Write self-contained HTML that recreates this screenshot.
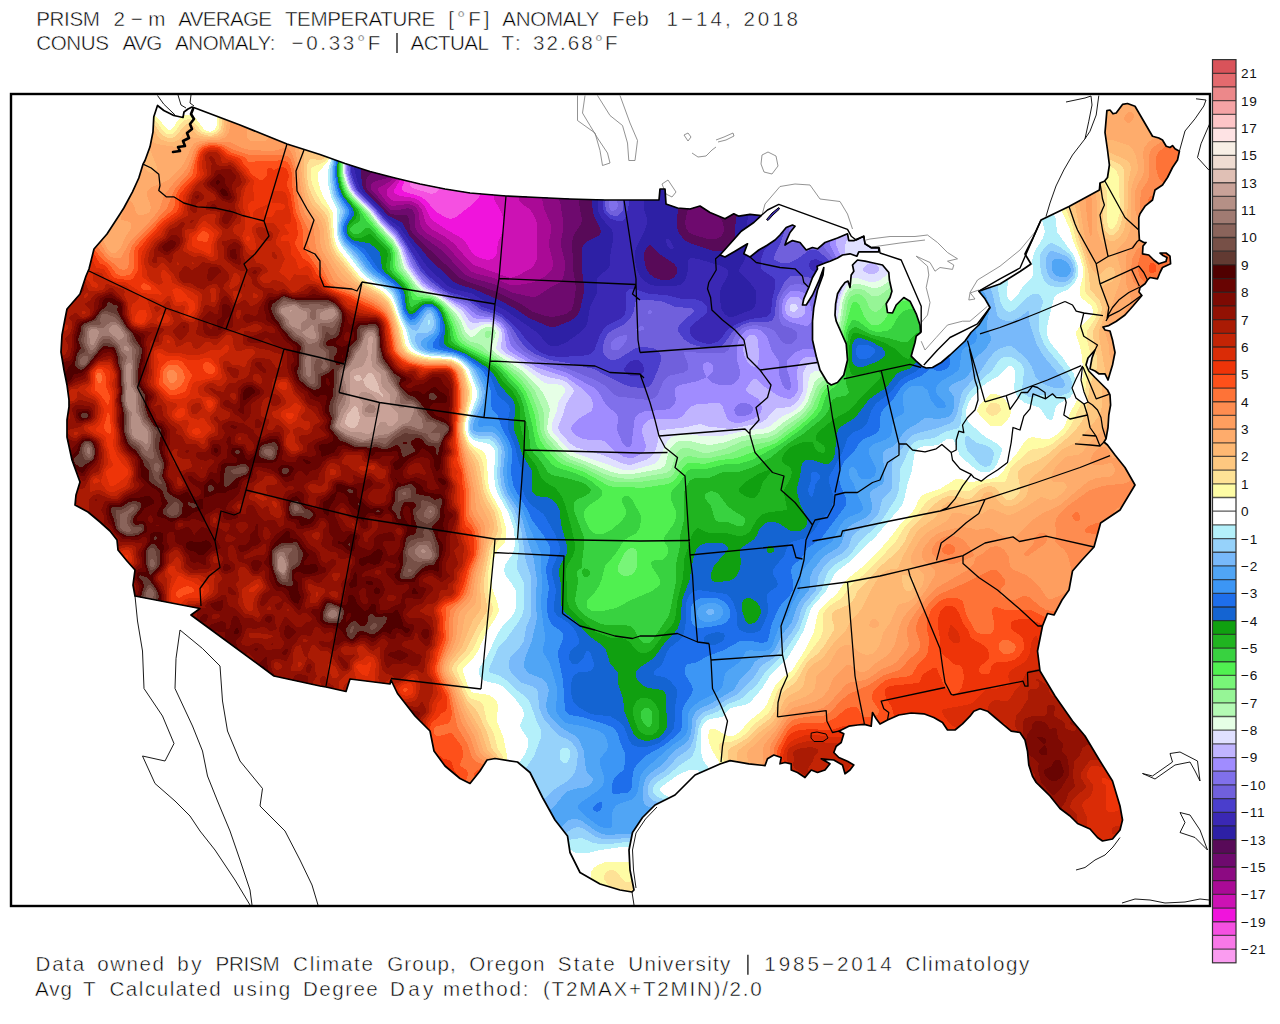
<!DOCTYPE html>
<html><head><meta charset="utf-8"><title>PRISM 2-m Average Temperature Anomaly</title>
<style>
html,body{margin:0;padding:0;background:#fff;}
body{width:1280px;height:1024px;overflow:hidden;position:relative;font-family:"Liberation Sans",sans-serif;}
svg{position:absolute;left:0;top:0;display:block}
.t{font-family:"Liberation Sans",sans-serif;font-size:20.6px;fill:#000;stroke:#fff;stroke-width:0.5px}
.cbl text{font-family:"Liberation Sans",sans-serif;font-size:13.6px;fill:#111;letter-spacing:0.7px}
</style></head><body>
<svg width="1280" height="1024" viewBox="0 0 1280 1024">
<defs><clipPath id="us"><path d="M157.5,105.5 153.8,116.8 153,131.8 150,146.8 145,160.5 143,164.2 138.8,178 132.5,191.8 123.8,208 120,214 107,234 94,249 89,269 86,276 80,294 67,309 65,319 62,335 61,352 64,370 67,385 69,400 69,407 67,420 67,437 72,460 80,482 76,495 75,505 88,512 100,522 110,531 117,540 118,550 127,561 135,570 133,585 135,596 200,608.5 191,615 274,676 320,686 326,687 346,691.5 350,679 390,684 391,680 397.5,693.5 415,716 430,731 434,751 445,766 460,778.5 470,783.5 480,771 487,760 495,758.5 517.5,762 530,772.5 542.5,797.5 555,820 567.5,836 570,852.5 580,872.5 600,884 620,890 632,892 634,890 630,870 629,850 632.5,832.5 642.5,817.5 655,805 675,795 695,775 720,764 730,760.6 748.8,763.8 765,765.6 767.5,758.8 773.8,755 781.2,757.5 780,763.8 785,762.5 791.2,763.8 791.2,770 797.5,772.5 805,777.5 811.2,770 817.5,772.5 825,770 830,763.8 821.2,758.8 833.8,760 842.5,765 845,773.8 850,770 853.8,765 847.5,761.2 838.8,757.5 833.8,752.5 836.2,746.2 841.2,742.5 843.8,733.8 838.8,731.2 848.8,726.2 857.5,725 864.4,724.4 871.2,726.2 872.5,712.5 876.2,718.8 880,724 887.5,720 898.8,715 911.2,713 923.8,713.8 933.8,717.5 942.5,722.5 947.5,730 955,730 962.5,723.8 970,716.2 973.8,711.2 980,708.8 987.5,711.2 995,717.5 1002.5,723.8 1011.2,731.2 1020,732.5 1025,740 1027.5,751.2 1028.8,765 1032.5,776.2 1036.2,782.5 1040,786.2 1050,796 1060,808.5 1070,816 1077.5,823.5 1090,829 1097.5,837.5 1102.5,841 1112.5,839 1120,830 1122.5,820 1120,806 1112.5,781 1100,761 1085,736 1072.5,721 1055,696 1040,671 1037.5,651 1042.5,626 1047.5,613.5 1054,615 1062,600 1069,590 1072.5,571 1082,560 1094,547 1100.6,523 1120,510 1135,485 1125,467.5 1115,455 1107.5,445 1104,442 1106,438.8 1108,427.5 1108.8,415 1110.6,405 1110,395 1107.5,390 1102.5,385 1095,377.5 1088.8,371 1086,365 1088,358 1095,350 1092,358 1090,368.8 1095,371 1098.8,373.8 1105,373.8 1108,380 1112.5,365 1115,352.5 1112.5,340 1110,331 1105,330 1103,327 1108.8,325.6 1116,321.5 1125,315 1133,306 1141.9,295.5 1139,292 1140,287.5 1145,283.8 1147.5,280 1150,277.5 1157.5,278.8 1160,272.5 1162.5,267.5 1170.6,263.8 1170,256.2 1166,253 1160,253 1163,255.5 1167,257.5 1166,261.5 1158.8,263.8 1153.8,260 1148.8,255 1142.5,253.8 1143,246 1146,242.5 1143.8,242.5 1139.4,240 1138.8,230 1138.8,217.5 1140,213.8 1145,206.2 1152.5,200 1155,190 1162.5,185 1167.5,177.5 1172.5,167.5 1177.5,160 1179.4,151.2 1175,148.8 1172.5,145.6 1170,147.5 1166.2,146.2 1162.5,140 1158.8,138 1152.5,136.2 1135,106.2 1127.5,103.5 1122.5,104.4 1116.2,113 1113,113.8 1110,110 1106.9,110.6 1105,132.5 1107.5,150 1109.4,165 1107.5,177.5 1104.4,181.2 1100,183 1099.4,190 1069,206.5 1041,220 1032.5,239 1025,254 1031,264 1020,271.5 1000,284 978.8,291.2 985,298.8 990,307.5 978.8,325 971,332.5 965,341 950,355 941.2,362.5 932.5,367.5 926.2,368 921.9,366.2 916.2,361.2 911.2,356.2 912.5,351.2 915,342.5 916.2,336.2 920.6,332.5 920,325 916.2,313.8 910,301.2 903.8,297.5 896.2,305 892.5,313 887.5,312.5 886.2,303.8 890,297.5 891.9,291.2 889.4,280 888.8,272.5 882.5,265 871.2,262.5 865,261.2 857.5,260 852.5,265 853.8,271.2 851.2,275 850,287.5 848,281 845,282.5 841.2,287.5 837.5,293.8 835.6,303.8 835,315 836.2,321.2 841.2,332.5 846.2,343.8 847.5,360 843.8,375 837.5,382.5 831.2,385 827.5,382.5 820,370 816.2,356.2 812.5,340 812.5,321.2 813.8,307.5 817.5,290 823,275 823.8,267.5 818.8,281.2 812.5,295 806.2,305 802.5,305 803.8,298.8 808.8,287.5 812.5,277.5 817.5,268.8 817,266.2 825,263 830,261.2 837.5,258 842.5,255 850,253.8 856.9,256.2 858.8,251.9 867.5,251.9 878.8,251.9 878.8,247.5 871.2,247.5 865,243.8 863.8,236.2 853.8,240.6 848.8,240.6 847.5,233.8 837.5,238 825,242.5 817.5,248.8 812.5,247.5 806.2,250 800,242.5 792.5,240.6 788.8,242.5 785,245 786.2,241.2 790,232.5 795,226.2 792.5,225 786.2,227.5 780,235 775,240 767.5,245 758.8,250 750,257 743.8,253.8 747.5,243.8 741.2,247.5 735,251.2 725,257 720,255 731.2,242.5 741.2,231.2 753.8,222.5 761.2,215.6 750,214.4 738.8,216.2 733.8,213.8 725,218.8 716,215 710,212.5 700,206 690,209 677.5,208 666,204 665,189 660,189 659,200 640,200 605,200 570,199 538,197.5 506,196 470,193 445,189 420,184 395,178 370,171.5 345,163.5 320,154.5 287,144 240,125 195,108 192,107 188,109 184,112 183,117.5 173.8,115.5 163.8,110.5Z"/></clipPath><clipPath id="fr"><rect x="11" y="94" width="1199" height="812"/></clipPath></defs>
<rect width="1280" height="1024" fill="#fff"/>
<g clip-path="url(#fr)">
<g clip-path="url(#us)" shape-rendering="crispEdges">
<path fill="#fefca5" d="M507.5,765.5l-.5-9.5 -3.5-18 -7-18 0-4 2-8 -1.5-6 -3.5-4 -3.5-2.5 -6-1.5 -10-1 -2.5-1 -3.5-5.5 -5-14.5 .5-4 10.5-11 3.5-5 9-20 9-14 3-6 0-4 -.5-4 -6-16 -.5-6 1-14 1.5-10 1.5-4 2.5-4.5 7-7.5 1-4 .5-4 -.5-6 -4.5-16 -10-18 -2.5-6 -1-8 -1-18 -1-6.5 -2-3.5 -2-1.5 -8-4 -4-3.5 -4-9 -1-6 .5-6 6-22 1-8 -1-6 -6-16 -5.5-6.5 -8-4 -26-2.5 -10.5-3 -6.5-4 -3.5-6 -3-14 -9.5-26 -3-5.5 -8-7.5 -16-10 -6-4.5 -21-26.5 -3-6.5 -2-7.5 -1.5-24 -9.5-16 -2.5-6 -3-12 1-6 9.5-10.5 3.5-8 -43-14 -73-28.5 1.5,7 -.5,8 -2,4 -4.5,2 -6-2.5 -8-11 -3-2.5 -3-1.5 -4,0 -4,1.5 -4,4 -5,8 -3,2.5 -2-.5 -2-2 -8-10 -4-2.5 -4.5-1 -1.5,16.5 -3,14.5 -17,44 -25,41.5 -13.5,15.5 -5.5,21 -8.5,24 -13,15.5 -5.5,27 -1,17.5 8,49 -2,37 5,23.5 7.5,21 -3.5,12 -1,12.5 2,2.5 13,7 11.5,10 15.5,16 1.5,10.5 16,19 -1.5,14 4,14.5 55.5,11 -1.5,3.5 1.5,4 85,62 73.5,16 4-2 3.5-10 36.5,4.5 3.5,7.5 17.5,22.5 14.5,14.5 4.5,20.5 11.5,15.5 16,13 10.5,5.5 4.5,0 17.5-23.5 5-1zM1059,205.5l10.5,22.5 4,14 6,14 3,10 .5,10 -3.5,14 0,4 2.5,4.5 9.5,7.5 1.5,4 -.5,4 -2.5,4 -11.5,10 -2.5,4 .5,4 3.5,10 2,10 1,14 -1,16 -2.5,10 -9,16 -6.5,15 -6,7 -8,4.5 -6,.5 -12-2 -4,1.5 -4,4 -7.5,11.5 -8.5,9.5 -6,9.5 -4,3.5 -6,2 -20,3.5 -4-.5 -6-2.5 -4-.5 -4,1.5 -14,9 -14,4.5 -4.5,2.5 -3,4 -3.5,8 -2.5,4 -12,12 -9,12 -11.5,13.5 -16.5,16.5 -15.5,12.5 -4,4.5 -7.5,11 -12.5,11 -4.5,5 -2.5,6 -3,16 -9,18 -13,20.5 -12,9.5 -4,4.5 -4,7.5 -5,12 -4,6 -15,12 -8,10 -6,3.5 -6,.5 -14-7.5 -2,0 -2.5,1.5 -1.5,6 1.5,8 2.5,6 7,12 1,8 10.5-4.5 36,5 3-2.5 2-6 3-1.5 2.5,7.5 9,0 2,6 15.5,8.5 4.5-1 5-5.5 5,1.5 9.5-3 7-8.5 4,2.5 3,8.5 5,1.5 7-5 5-8 -2-4.5 -17-9.5 6-7 3-12.5 15.5-2.5 8.5,1.5 3.5-4 5.5,2 18.5-9 11.5-2 11,.5 9,3.5 7.5,4.5 6,8 10,.5 10.5-7.5 11.5-12 3-1.5 5,1.5 23.5,20 8.5,1.5 3.5,5 3.5,24.5 4,12 4,6.5 24.5,27 18,15.5 12.5,5.5 7,8 8,5 13-2.5 9-10.5 3.5-14 -2.5-14.5 -8-25.5 -28-46 -30-39.5 -14-24 -2.5-18.5 5-23.5 3-8 4.5,.5 3-2 15.5-25.5 3.5-19.5 21.5-23.5 6.5-23.5 18.5-12.5 16.5-27.5 -11-21.5 -18.5-23.5 5-36.5 -.5-11 -5.5-8.5 3.5-3.5 7-29 -6-24 14.5-10 17-20 1.5-4 -2.5-4 7-7.5 9,0 5.5-11.5 9-5.5 -.5-11.5 -6-6 -10.5,0 -2.5,2 -.5,4 -3.5-3.5 -3.5-1.5 3-7.5 -2-3.5 -5-1.5 0-18.5 5-9 7.5-7 3-9.5 6.5-4.5 5.5-8 10.5-18.5 2.5-10.5 -1.5-3.5 -7.5-6.5 -6,0 -4.5-5.5 -9-4 -18-29.5 -11.5-4 -7,2 -5.5,7 -4-2.5 -7,2.5 -3,25 4.5,32.5 -1.5,10.5 -7,4.5 -1.5,7zM634.5,861.5l-24.5,0 -6,1 -6,2.5 -4.5,3 -2.5,4 0,6 1.5,4 3.5,5.5 2,1 20.5,6.5 14,2 6-5 -3.5-22.5zM990,394.5l-11,11.5 -2,4 .5,2 4.5,6 8,7.5 6,1 6-1 4-3.5 4-6 1-4 -.5-4 -5-8 -5.5-4.5 -6-2z"/>
<path fill="#fee296" d="M505,765l-2.5-9 -5-8 -3.5-14 -7.5-14 -3.5-16 -3-2.5 -8-2.5 -3.5-3 -12-26 1.5-4 9.5-10 5-6 8.5-18 10-16 1.5-4 0-6 -4-12 -1-6 1-18 3.5-18.5 2-4.5 6.5-9 1.5-6 -1-8 -3-12 -9.5-18 -2.5-6 -1.5-8 -1-14 -1.5-6.5 -3-5.5 -9-8 -3.5-6 -2-6 -.5-6 .5-6 5.5-22 .5-8 -3.5-14 -3-8 -5.5-6 -6.5-3.5 -4-1 -16-.5 -7.5-1 -10.5-3 -6-3.5 -4-6.5 -4-17 -8-22.5 -3-5.5 -3-3.5 -5.5-4.5 -16.5-9.5 -5.5-4.5 -21-26 -3-6 -2-8 -2.5-24.5 -2-3.5 -7-8 -5.5-10 -3.5-8 -1.5-8 0-6 1.5-2.5 12-5.5 4-4 2.5-4.5 -42-14 -69.5-27.5 .5,8 -.5,8 -3.5,4 -5.5,1.5 -4-.5 -4-1.5 -8-9.5 -4-3 -2,0 -3,1 -3,2 -8,11 -2,1 -4,.5 -4-2.5 -8-11 -4-2.5 -3.5-.5 -.5,13 -3,14.5 -17,44 -25,41.5 -13.5,15.5 -5.5,21 -8.5,24 -13,15.5 -5.5,27 -1,17.5 8,49 -2,37 5,23.5 7.5,21 -3.5,12 -1,12.5 2,2.5 13,7 11.5,10 15.5,16 1.5,10.5 16,19 -1.5,14 4,14.5 55.5,11 -1.5,3.5 1.5,4 85,62 73.5,16 4-2 3.5-10 36.5,4.5 3.5,7.5 17.5,22.5 14.5,14.5 4.5,20.5 11.5,15.5 16,13 10.5,5.5 4.5,0 17.5-23.5 5-1zM1063.5,203l9,23 4,16 5.5,14 2.5,10 1,8 -1,16 2,4 8.5,8 2,4 1,4 -2.5,8 -9,14 0,6 3.5,14 .5,10 -3.5,16 -2.5,16 -3.5,10 -10.5,22 -6.5,8.5 -12,9.5 -8,3.5 -12,2 -4,2 -17.5,16.5 -4.5,12 -2,2 -14,.5 -6,1 -7,2.5 -7,4.5 -4,1 -12-2 -4,.5 -18,8 -6,4 -8.5,12 -13.5,14 -8.5,14 -27.5,29 -18,15 -8,12 -12,7.5 -4.5,4.5 -2.5,4 -.5,4 .5,12 -2.5,8 -16.5,22 -10,15.5 -4,4 -8,6 -4,4.5 -2,4 -4.5,14 -3.5,5.5 -13.5,10.5 -8.5,9.5 -6,4.5 -8,3.5 -10,1 -2.5,1.5 -.5,2 .5,4 4,10 1,8 6-2.5 36,5 3-2.5 2-6 3-1.5 2.5,7.5 9,0 2,6 15.5,8.5 4.5-1 5-5.5 5,1.5 9.5-3 7-8.5 4,2.5 3,8.5 5,1.5 7-5 5-8 -2-4.5 -17-9.5 6-7 3-12.5 15.5-2.5 8.5,1.5 3.5-4 5.5,2 18.5-9 11.5-2 11,.5 9,3.5 7.5,4.5 6,8 10,.5 10.5-7.5 11.5-12 3-1.5 5,1.5 23.5,20 8.5,1.5 3.5,5 3.5,24.5 4,12 4,6.5 24.5,27 18,15.5 12.5,5.5 7,8 8,5 13-2.5 9-10.5 3.5-14 -2.5-14.5 -8-25.5 -28-46 -30-39.5 -14-24 -2.5-18.5 5-23.5 3-8 4.5,.5 3-2 15.5-25.5 3.5-19.5 21.5-23.5 6.5-23.5 18.5-12.5 16.5-27.5 -11-21.5 -18.5-23.5 5-36.5 -.5-11 -5.5-8.5 3.5-3.5 7-29 -6-24 14.5-10 17-20 1.5-4 -2.5-4 7-7.5 9,0 5.5-11.5 9-5.5 -.5-11.5 -6-6 -10.5,0 -2.5,2 -.5,4 -3.5-3.5 -3.5-1.5 3-7.5 -2-3.5 -5-1.5 0-18.5 5-9 7.5-7 3-9.5 6.5-4.5 5.5-8 10.5-18.5 2.5-10.5 -1.5-3.5 -7.5-6.5 -6,0 -4.5-5.5 -9-4 -18-29.5 -11.5-4 -7,2 -5.5,7 -4-2.5 -7,2.5 -3,25 4,31 6,2.5 6,4 2.5,6 0,14 2,16 -1,8 -3,10 -2.5,3.5 -2,1.5 -2,0 -2-3 -1.5-8 0-28 -2.5-8 -3.5-5 -4.5,3 -1.5,7zM604.5,880l3.5,5 7,5 2,4.5 15.5,2.5 6-5 -2-13.5 -6.5,3 -4,.5 -3-2 -6-8 -3-1.5 -4-.5 -4,2 -2,4zM986.5,408l-.5,2 .5,2 1.5,2 4,2 6-2 3-4 -1-4 -2-2 -4-1.5 -4,1z"/>
<path fill="#fec880" d="M502.5,764.5l-3-6.5 -8-10 -4.5-16 -9.5-20 -3-4 -4.5-4 -4-5.5 -6.5-14.5 -7.5-14 0-2 2-4.5 12-13.5 12-24 8.5-14 .5-6 -3-16 0-10 6-32.5 7-13.5 1-4 -1-8 -2.5-10 -8-14 -3-8 -3.5-22 -1.5-6 -3.5-6 -7-9.5 -4.5-12.5 -.5-10 5-24 1-8 -3.5-14 -2.5-8 -5-5 -6-3.5 -6-1 -14-.5 -8-1 -10.5-3 -7-4 -4-6 -4-18 -6.5-19 -4-7.5 -8-7.5 -18-10.5 -6-4.5 -20-25 -3-6 -2-6 -3-24 -3.5-6 -8.5-9.5 -4-7 -3.5-9.5 -2-12 1-10 2.5-5 2-.5 6,1.5 4-.5 4-2.5 3-4 -40.5-13.5 -66.5-26 0,10.5 -1.5,6 -2.5,3 -6,2.5 -4,0 -6-1.5 -4-2.5 -6-7 -4-1 -4,2.5 -8,10 -4,2 -4,0 -6-3 -8-11 -5.5-3 -.5,10 -3,14.5 -17,44 -25,41.5 -13.5,15.5 -5.5,21 -8.5,24 -13,15.5 -5.5,27 -1,17.5 8,49 -2,37 5,23.5 7.5,21 -3.5,12 -1,12.5 2,2.5 13,7 11.5,10 15.5,16 1.5,10.5 16,19 -1.5,14 4,14.5 55.5,11 -1.5,3.5 1.5,4 85,62 73.5,16 4-2 3.5-10 36.5,4.5 3.5,7.5 17.5,22.5 14.5,14.5 4.5,20.5 11.5,15.5 16,13 10.5,5.5 4.5,0 17.5-23.5 5-1zM1103,156.5l16,7.5 3,2.5 2,3.5 -.5,18 .5,20 -3,16 -3,7 -4,3.5 -4,.5 -2-1 -3-4 -2-8 0-22 -.5-10 -2.5-6 -4-4 -1.5,7 -26,13.5 3,11.5 4.5,14 3,14 5,14 3.5,14 1.5,8 1,12 .5,2 9,10 2.5,8 -1.5,8 -7,14 -1,4 4.5,24 0,10 -6,14 -1.5,6 -3,22 -2,6 -3,6 -6,8 -6,6 -21.5,18 -8,5 -16,7 -5,4 -1,2 0,4 2,10 .5,4 -2,4 -4.5,4.5 -4,2 -4-1 -4-3.5 -6-8 -4-1.5 -4-.5 -4,1.5 -4,2 -8,8 -2,1 -4,.5 -12-3.5 -4,0 -8,3 -10,7.5 -8,10 -14,13.5 -5.5,12.5 -4.5,6 -10,10 -10,8.5 -12,14 -10,9.5 -3.5,8 -3,4 -3.5,3 -12,5 -3,2 -1,2 -.5,4 2.5,8 0,4 -10,16 -6,7.5 -8,6 -4,4.5 -10,18 -10.5,8 -3.5,3.5 -6.5,16.5 -5.5,8.5 -12,9 -12,11.5 -15.5,9 -2,2 -.5,4 1,12.5 1.5-1 36,5 3-2.5 2-6 3-1.5 2.5,7.5 9,0 2,6 15.5,8.5 4.5-1 5-5.5 5,1.5 9.5-3 7-8.5 4,2.5 3,8.5 5,1.5 7-5 5-8 -2-4.5 -17-9.5 6-7 3-12.5 15.5-2.5 8.5,1.5 3.5-4 5.5,2 18.5-9 11.5-2 11,.5 9,3.5 7.5,4.5 6,8 10,.5 10.5-7.5 11.5-12 3-1.5 5,1.5 23.5,20 8.5,1.5 3.5,5 3.5,24.5 4,12 4,6.5 24.5,27 18,15.5 12.5,5.5 7,8 8,5 13-2.5 9-10.5 3.5-14 -2.5-14.5 -8-25.5 -28-46 -30-39.5 -14-24 -2.5-18.5 5-23.5 3-8 4.5,.5 3-2 15.5-25.5 3.5-19.5 21.5-23.5 6.5-23.5 18.5-12.5 16.5-27.5 -11-21.5 -18.5-23.5 5-36.5 -.5-11 -5.5-8.5 3.5-3.5 7-29 -6-24 14.5-10 17-20 1.5-4 -2.5-4 7-7.5 9,0 5.5-11.5 9-5.5 -.5-11.5 -6-6 -10.5,0 -2.5,2 -.5,4 -3.5-3.5 -3.5-1.5 3-7.5 -2-3.5 -5-1.5 0-18.5 5-9 7.5-7 3-9.5 6.5-4.5 5.5-8 10.5-18.5 2.5-10.5 -1.5-3.5 -7.5-6.5 -6,0 -4.5-5.5 -9-4 -18-29.5 -11.5-4 -7,2 -5.5,7 -4-2.5 -7,2.5 -3,25z"/>
<path fill="#feb873" d="M499.5,764l-3.5-6 -8.5-8 -6.5-20 -15-25 -8.5-19 -7-12 -2-4 .5-4 1.5-4 11-14 11.5-28 6-8 2-4 .5-4 -1.5-16 1-10 7-32.5 5-13.5 1-4 -.5-6 -2.5-8 -7-13 -3-9 -6-28 -9-18 -3-10 -1-6 0-6 4.5-22 .5-10 -2.5-14 -3-8 -5.5-5.5 -5.5-2.5 -6.5-1 -14,0 -8-1 -10-3 -7.5-5 -3.5-6 -4.5-20 -4.5-14 -4-8 -4-4.5 -6-4.5 -18-10 -6.5-5 -18.5-22 -3.5-6 -2-6 -3-20 -1.5-6 -3-5 -10-11 -3-6 -2.5-8 -3-18 0-27.5 -15-5 -63.5-25 -1,11.5 -1.5,6 -4.5,3.5 -6,1.5 -6,0 -6-1 -3.5-2 -6.5-5.5 -2,.5 -2,1.5 -5.5,7.5 -2.5,2 -4,2 -6,0 -6-2 -3-2 -6-10 -4.5-3 -.5,6 -3,14.5 -17,44 -25,41.5 -13.5,15.5 -5.5,21 -8.5,24 -13,15.5 -5.5,27 -1,17.5 8,49 -2,37 5,23.5 7.5,21 -3.5,12 -1,12.5 2,2.5 13,7 11.5,10 15.5,16 1.5,10.5 16,19 -1.5,14 4,14.5 55.5,11 -1.5,3.5 1.5,4 85,62 73.5,16 4-2 3.5-10 36.5,4.5 3.5,7.5 17.5,22.5 14.5,14.5 4.5,20.5 11.5,15.5 16,13 10.5,5.5 4.5,0 17.5-23.5 5-1zM1102.5,150.5l7.5,2 16,7.5 4,4 1,4 -3.5,18 .5,18 -1.5,14 -2.5,12 -4,7 -6,4 -4,0 -4-2.5 -4-6 -2-8.5 -.5-30 -1.5-6 -3-4 -.5,3 -21,11 8.5,42 8,25.5 2,4 4,4.5 2,1 2-.5 6-6 4-2 3.5,1.5 1.5,4 -.5,6 -2.5,3.5 -8,3.5 -2,3 3.5,12 .5,8 -1.5,8 -5.5,14 -.5,4 6.5,36 -1.5,12 -2,8 1,10 -.5,6 -1.5,6 -3,6 -19.5,23.5 -16.5,8.5 -19.5,19.5 -10,7.5 -3,5 -1.5,10 -1.5,4 -3.5,4 -5.5,4 -7,2.5 -6-1 -6-4.5 -6-8.5 -2-1 -2,0 -4.5,2.5 -6.5,10 -3,2 -6,.5 -16-5 -4,.5 -5.5,4 -7.5,12 -14.5,10 -4,4 -13.5,24 -5,12 -2,1 -6,.5 -4,1.5 -4,2.5 -4,4.5 -7,12 -9,18 -4,5.5 -7,6.5 -6,12 -11,10.5 -12,16.5 -10,6 -4,4.5 -2,4.5 -2,10 -2,4 -4,3 -10,5 -4,5 -6,13 -6,9 -12,9 -10,9.5 -11.5,8.5 -2,4 0,12.5 30,4 3-2.5 2-6 3-1.5 2.5,7.5 9,0 2,6 15.5,8.5 4.5-1 5-5.5 5,1.5 9.5-3 7-8.5 4,2.5 3,8.5 5,1.5 7-5 5-8 -2-4.5 -17-9.5 6-7 3-12.5 15.5-2.5 8.5,1.5 3.5-4 5.5,2 18.5-9 11.5-2 11,.5 9,3.5 7.5,4.5 6,8 10,.5 10.5-7.5 11.5-12 3-1.5 5,1.5 23.5,20 8.5,1.5 3.5,5 3.5,24.5 4,12 4,6.5 24.5,27 18,15.5 12.5,5.5 7,8 8,5 13-2.5 9-10.5 3.5-14 -2.5-14.5 -8-25.5 -28-46 -30-39.5 -14-24 -2.5-18.5 5-23.5 3-8 4.5,.5 3-2 15.5-25.5 3.5-19.5 21.5-23.5 6.5-23.5 18.5-12.5 16.5-27.5 -11-21.5 -18.5-23.5 5-36.5 -.5-6 -2-4.5 0-3.5 -3.5-5.5 3.5-3.5 7-29 -6-24 14.5-10 17-20 1.5-4 -2.5-4 7-7.5 9,0 5.5-11.5 9-5.5 -.5-11.5 -6-6 -10.5,0 -2.5,2 -.5,4 -3.5-3.5 -3.5-1.5 3-7.5 -2-3.5 -5-1.5 0-18.5 5-9 7.5-7 3-9.5 6.5-4.5 5.5-8 10.5-18.5 2.5-10.5 -1.5-3.5 -7.5-6.5 -6,0 -4.5-5.5 -9-4 -18-29.5 -11.5-4 -7,2 -5.5,7 -4-2.5 -7,2.5 -3,25zM906,575l6,2.5 2,2.5 .5,2 -1,4 -1.5,3 -2,2 -2,.5 -2-.5 -2-2.5 -2.5-8.5 .5-4.5zM313.5,148l2.5,5.5 4,2 4-1 3-2.5z"/>
<path fill="#feac6c" d="M497,764l-5-6 -6-4.5 -3-3.5 -5.5-18 -11.5-19.5 -10-24.5 -8-13 -2-5 .5-4 1.5-5 8.5-13 3-6 3-12 2.5-14 2.5-4 6.5-6 2-4 2-24 5.5-20 6-30 0-4 -1.5-5.5 -7.5-14.5 -7.5-36 -9-23 -2.5-9 -.5-6 0-6 4-20 .5-12 -2.5-14 -3-8 -4-4 -6-3 -20-1 -8-1 -10.5-3 -6.5-4 -5-6 -6-26 -4-11 -4-6.5 -10-8.5 -18-9.5 -9.5-6.5 -6-6 -8.5-12 -5-8 -3-6 -1.5-8 -1-12 -2-6 -2.5-4 -9-10.5 -4.5-9.5 -3-16 -4-39.5 -71-27 -1.5,14.5 -2,4 -2,2 -5.5,2 -6.5,.5 -10,0 -10-1.5 -6,8 -4,2 -4,0 -14-2 -8-2 -2-3 -2-8 -2-2 -3.5,17 3.5,1 2,1.5 6.5,16.5 0,4 -2,2 -2.5,1 -4-1 -3-4 -4-11.5 -13,33 -25,41.5 -13.5,15.5 -5.5,21 -8.5,24 -13,15.5 -5.5,27 -1,17.5 8,49 -2,37 5,23.5 7.5,21 -3.5,12 -1,12.5 2,2.5 13,7 11.5,10 15.5,16 1.5,10.5 16,19 -1.5,14 4,14.5 55.5,11 -1.5,3.5 1.5,4 85,62 73.5,16 4-2 3.5-10 36.5,4.5 3.5,7.5 17.5,22.5 14.5,14.5 4.5,20.5 11.5,15.5 16,13 10.5,5.5 4.5,0 17.5-23.5zM1101,140l11,0 18,6 3,4 3,6 2,10 0,4 -5,12 -1.5,6 -1,38 -1,6 -3.5,8 -9,10 -1,2 5,18 -.5,10 -8.5,24.5 -7,25.5 .5,4 3,10 .5,8 1,5 3,5 4.5,1.5 2.5-11 -6-24 14.5-10 17-20 1.5-4 -2.5-4 7-7.5 9,0 5.5-11.5 9-5.5 -.5-11.5 -6-6 -10.5,0 -2.5,2 -.5,4 -3.5-3.5 -3.5-1.5 3-7.5 -2-3.5 -5-1.5 0-18.5 5-9 7.5-7 3-9.5 6.5-4.5 5.5-8 10.5-18.5 2.5-10.5 -1.5-3.5 -7.5-6.5 -6,0 -4.5-5.5 -9-4 -18-29.5 -11.5-4 -7,2 -5.5,6.5 -2,5 -4,5 -2,.5 -1.5-1.5 1.5-9.5 -3,1 -3,25zM1113.5,418l-3.5,2.5 -7,9.5 -11,10.5 -10,12 -4,2.5 -10,1 -3.5,2 -9.5,10 -3,6 -1,6 1,1 2,1 10,.5 2,1.5 .5,2 0,2 -3,4 -7,6 -6.5,2 -8-3 -2,.5 -14,9.5 -12,6.5 -4,1.5 -4-.5 -12-5 -4-1 -8,5.5 -6,1.5 -6,0 -12-3 -4,0 -2,1 -3,4.5 -4,4 -15,8.5 -4.5,3.5 -5.5,6 -4,6.5 -4,7.5 -1.5,4 .5,4 1,2 8,6 3.5,4 .5,4 -1,6 -4.5,8 -6.5,7.5 -4,2.5 -8,2 -2.5,2 -7.5,17 -6.5,9 -3.5,12 -3.5,6 -4.5,4 -6,1 -7.5-3 -8.5-7.5 -4,0 -6,3 -4,4.5 -8,14 -10,8 -1.5,2 -1.5,12 -2.5,4 -6.5,4.5 -16,6 -4,5 -12,19.5 -11,9 -7.5,8 -7,6 -1,2 -.5,4 2.5,12 17,2.5 3-2.5 2-6 3-1.5 2.5,7.5 9,0 2,6 15.5,8.5 4.5-1 5-5.5 5,1.5 9.5-3 7-8.5 4,2.5 3,8.5 5,1.5 7-5 5-8 -2-4.5 -17-9.5 6-7 3-12.5 15.5-2.5 8.5,1.5 3.5-4 5.5,2 18.5-9 11.5-2 11,.5 9,3.5 7.5,4.5 6,8 10,.5 10.5-7.5 11.5-12 3-1.5 5,1.5 23.5,20 8.5,1.5 3.5,5 3.5,24.5 4,12 4,6.5 24.5,27 18,15.5 12.5,5.5 7,8 8,5 13-2.5 9-10.5 3.5-14 -2.5-14.5 -8-25.5 -28-46 -30-39.5 -14-24 -2.5-18.5 5-23.5 3-8 4.5,.5 3-2 15.5-25.5 3.5-19.5 21.5-23.5 6.5-23.5 18.5-12.5 16.5-27.5 -11-21.5 -18.5-23.5zM1078,195.5l6,38 2,8 6,16.5 2,3.5 2,1.5 4,0 4-3.5 4.5-7.5 -.5-2 -7.5-10 -3.5-10 -.5-8 0-22 -1-8 -2-4.5zM870,622l-1,4 1,1 4.5,1 4-2 0-4 -2.5-3 -2-.5 -2,1z"/>
<path fill="#fe9e5f" d="M231.5,117l-2.5,15 -3,5 -6,2.5 -20,1.5 -6,2.5 -3,4.5 -7,15.5 -5,6.5 -11,10 -6,3 -10,4 -4,3 -1,2 0,4 3,7.5 1,4.5 -1,3 -2,2 -6,2.5 -4-.5 -2-2 -2-7.5 -2-3.5 -2-1.5 -2,0 -2,1.5 -3,10 -2.5,6 1,2 8.5,2 1.5,4 -1.5,4 -4,6 -6,13 -4,3.5 -4,.5 -2-1 -2-2.5 -5-9.5 -4-4.5 -9.5,11 -5.5,21 -8.5,24 -13,15.5 -5.5,27 -1,17.5 8,49 -2,37 5,23.5 7.5,21 -3.5,12 -1,12.5 2,2.5 13,7 11.5,10 15.5,16 1.5,10.5 16,19 -1.5,14 4,14.5 55.5,11 -1.5,3.5 1.5,4 85,62 73.5,16 4-2 3.5-10 36.5,4.5 3.5,7.5 17.5,22.5 14.5,14.5 4.5,20.5 11.5,15.5 16,13 10.5,5.5 4.5,0 17.5-23.5 4-1 -4-3.5 -6.5-4 -3.5-4 -5.5-16 -8-14 -4.5-10 -7.5-22 -8.5-14 -2-6 0-4 2-6 6.5-12 3-8 1.5-8 1-14 1-4 2-4 8.5-8 3-6 3.5-22 6.5-22 3-22 -1.5-7.5 -6-9 -2-5 -1.5-16.5 -4.5-22 -7.5-26 -2-8 -.5-10 3.5-22 .5-10 -.5-6 -3-14 -4-6 -6.5-4 -28-2 -10-2.5 -8-4.5 -3.5-3 -2-4 -5-24 -3.5-10 -4-6.5 -4-4 -6-4.5 -32-17 -6.5-6 -15.5-26 -2-8 -.5-12 -2-6 -9.5-12.5 -4-9 -3-12.5 -3.5-28 -4-21 -23.5-9 -1.5,6 -2.5,2.5 -10,1 -6-1 -2-1.5 -1.5-3 0-13zM1161,134l-12.5,8 -4.5,6 -1,6 1.5,14 -.5,4 -1.5,4 -4.5,8 -2.5,6 -.5,18 1,6 2.5,4 5.5,2.5 0-2 5-9 7.5-7 3-9.5 6.5-4.5 5.5-8 10.5-18.5 2.5-10.5 -1.5-3.5 -7.5-6.5 -6,0 -4.5-5.5zM1147,238l-9,3 -4,2.5 -5.5,6.5 -2.5,6 -.5,8 .5,20 5,14 -.5,4 -6.5,10 0,2 2.5,2 3.5,.5 15.5-18 1.5-4 -2.5-4 7-7.5 9,0 5.5-11.5 9-5.5 -.5-11.5 -6-6 -10.5,0 -2.5,2 -.5,4 -3.5-3.5 -3.5-1.5 3-7.5 -2-3.5zM1122,456l-6,2 -2,0 -2-.5 -4-8 -2-2 -2-.5 -4,.5 -4,2.5 -2,2 -3,6 -1,4 1,2 5,1.5 6-.5 8-2 2,.5 2,3 1,3.5 -1,4 -4,2.5 -14,1.5 -8,3.5 -28,23.5 -8,4 -10,4.5 -8,5.5 -6,5 -8,9 -4,3.5 -4,1 -6-.5 -7-3 -7-5 -4-1 -12,2 -6-2 -8-1 -6,1 -12,3 -7,3 -5.5,4 -8,10 -1.5,4 -.5,4 2,4 11.5,10 .5,2 -1,4 -8.5,14 -10,13.5 -10,10.5 -3,4 -3.5,8 -4.5,18 -4.5,8 -4,4 -10.5,7 -7.5,7 -4.5,2 -4,0 -2-1 -8-6.5 -4,1 -11,10.5 -2.5,4 -4,10 -6.5,7.5 -8,4.5 -20,5.5 -4,2.5 -4,4.5 -10,15.5 -11.5,14 -2,6 .5,12 -2.5,7.5 6,1 3-2.5 2-6 3-1.5 2.5,7.5 9,0 2,6 15.5,8.5 4.5-1 5-5.5 5,1.5 9.5-3 7-8.5 4,2.5 3,8.5 5,1.5 7-5 5-8 -2-4.5 -17-9.5 6-7 3-12.5 15.5-2.5 8.5,1.5 3.5-4 5.5,2 18.5-9 11.5-2 11,.5 9,3.5 7.5,4.5 6,8 10,.5 10.5-7.5 11.5-12 3-1.5 5,1.5 23.5,20 8.5,1.5 3.5,5 3.5,24.5 4,12 4,6.5 24.5,27 18,15.5 12.5,5.5 7,8 8,5 13-2.5 9-10.5 3.5-14 -2.5-14.5 -8-25.5 -28-46 -30-39.5 -14-24 -2.5-18.5 5-23.5 3-8 4.5,.5 3-2 15.5-25.5 3.5-19.5 21.5-23.5 6.5-23.5 18.5-12.5 16.5-27.5 -11-21.5zM1085,194l2,24 3,18 2-2 -.5-36 -1-6 -2.5-1.5 -2.5,1.5zM1124,118l.5,2 1.5,2 2,1 2-.5 2-2 1.5-2.5 0-4 -1.5-2 -2-.5 -2,.5 -2,2z"/>
<path fill="#fe8c50" d="M194,150l-6,16.5 -4,5.5 -9.5,10 -9.5,12 -2,4 -3,10 -2.5,4 -7.5,9 -18,18 -3.5,5 -6.5,12 -2,2 -4,.5 -6-2 -4-4 -6-10 -4-3.5 -6.5,7.5 -5.5,21 -8.5,24 -13,15.5 -5.5,27 -1,17.5 8,49 -2,37 5,23.5 7.5,21 -3.5,12 -1,12.5 2,2.5 13,7 11.5,10 15.5,16 1.5,10.5 16,19 -1.5,14 4,14.5 55.5,11 -1.5,3.5 1.5,4 85,62 73.5,16 4-2 3.5-10 36.5,4.5 3.5,7.5 17.5,22.5 14.5,14.5 4.5,20.5 11.5,15.5 16,13 10.5,5.5 4.5,0 17.5-23.5 1.5,0 -11.5-6 -4-4.5 -5.5-16 -9-16 -9.5-32 -8.5-14 -2-6 2-10 5.5-12 3-8 1-6 0-14 1-6 2-4.5 10-9.5 3.5-6 4-20 6.5-20 1.5-14 -.5-12 -1.5-4 -5.5-8 -2.5-6 -.5-22 -4.5-22 -6.5-28 -1-12 3-20 .5-12 -1.5-12 -3-10 -3-4 -5-3 -6-1 -14,0 -8-.5 -12-3.5 -7-4 -4-4 -2-4 -3.5-18 -2-8 -3.5-8.5 -4-5.5 -4-3.5 -8-5 -33.5-15.5 -5-4 -7-14 -7.5-12 -3-6 -2.5-20 -1.5-4 -7-10 -3-7.5 -3.5-16.5 -3.5-28 -3-8.5 -4-5.5 -4,0 -6.5,2 -5.5,1 -22-1 -8-2 -12-6 -18-.5 -6,.5 -6,2 -3.5,2zM1135.5,477.5l-7.5,4.5 -4,1.5 -22,2.5 -12,4 -22.5,16 -6.5,6 -4.5,6 -1.5,6 1.5,10 -1.5,6 .5,2 2.5,3 6,4.5 4,6 6,24.5 0,6 -2,4 -20,9 -4-.5 -2.5-2.5 -6.5-10 -7-6.5 -6-4.5 -14-6 -2-3 -1.5-10 -4-6 -4.5-3 -4-1 -6,1.5 -8,6.5 -6,3 -2.5,7 -6,6 -29.5,17 -10,9 -13.5,18 -5,8 -3,8 .5,4 1.5,8 0,4 -2,4 -10.5,12.5 -4,2.5 -10,4 -12,8.5 -4,2 -6,1.5 -10,1.5 -3.5,1.5 -16.5,18.5 -6,5 -6,2 -22,3.5 -6,3 -4,5 -15,23 -1.5,6 1,12 -1.5,6.5 2.5-6.5 3-1.5 2.5,7.5 9,0 2,6 15.5,8.5 4.5-1 5-5.5 5,1.5 9.5-3 7-8.5 4,2.5 3,8.5 5,1.5 7-5 5-8 -2-4.5 -17-9.5 6-7 3-12.5 15.5-2.5 8.5,1.5 3.5-4 5.5,2 18.5-9 11.5-2 11,.5 9,3.5 7.5,4.5 6,8 10,.5 10.5-7.5 11.5-12 3-1.5 5,1.5 23.5,20 8.5,1.5 3.5,5 3.5,24.5 4,12 4,6.5 24.5,27 18,15.5 12.5,5.5 7,8 8,5 13-2.5 9-10.5 3.5-14 -2.5-14.5 -8-25.5 -28-46 -30-39.5 -14-24 -2.5-18.5 5-23.5 3-8 4.5,.5 3-2 15.5-25.5 3.5-19.5 21.5-23.5 6.5-23.5 11-7.5 -2-2.5 -.5-2 1.5-4 5-3 8-1.5 12-19.5zM1167,138l-13,8.5 -3,3.5 -1.5,4 -.5,6 .5,16 -2.5,6 -5.5,8 -1.5,10 .5,10 1.5,2.5 3.5,2.5 3.5-5.5 7.5-7 3-9.5 6.5-4.5 5.5-8 10.5-18.5 2.5-10.5 -1.5-3.5 -7.5-6.5 -6,0zM1151,242l-9,3.5 -6,5 -3.5,7.5 -1.5,10 .5,8 2,6 6.5,7.5 6.5,4.5 -2-3.5 7-7.5 9,0 5.5-11.5 9-5.5 -.5-11.5 -6-6 -10.5,0 -2.5,2 -.5,4 -3.5-3.5 -3.5-1.5zM936.5,542l-4,6 -.5,4 .5,2 3.5,4 8,4.5 6,1.5 4,0 20.5-8 -3-6 -6-8 -3.5-3 -4-2 -6-1 -6,.5 -4,1.5zM1036.5,536l-4.5,10 -7,6 -1,2 1,2 3,0 16-11.5 3.5-4.5 -.5-4 -1-2 -2-1 -4,0z"/>
<path fill="#fe7337" d="M196,152l-6,19 -2,3 -12.5,14 -3,6 -5.5,14 -17,19 -12,11 -6,8 -3,8 0,10 -1.5,4 -3.5,2 -4-1 -5.5-5 -8-6 -13-16 -4,4.5 -5.5,21 -8.5,24 -13,15.5 -5.5,27 -1,17.5 8,49 -2,37 5,23.5 7.5,21 -3.5,12 -1,12.5 2,2.5 13,7 11.5,10 15.5,16 1.5,10.5 16,19 -1.5,14 4,14.5 55.5,11 -1.5,3.5 1.5,4 85,62 73.5,16 4-2 3.5-10 36.5,4.5 3.5,7.5 17.5,22.5 14.5,14.5 4.5,20.5 11.5,15.5 16,13 10.5,5.5 4.5,0 16.5-22 -13-4 -4-4 -4.5-14 -8.5-14 -2-4 -6-32 -2.5-6 -6.5-10 -2.5-8 1-8 8.5-22 .5-6 -.5-14 1.5-10 1.5-2 10-8 4-6 2-5.5 3.5-16.5 5.5-14 2-10 0-12 -1-6 -9-16 -.5-26 -9.5-48 -1-14 3-20 .5-12 -2-12 -2-8 -2-4 -5.5-4 -6-1 -16,0 -8-1 -10-2.5 -8-4.5 -3.5-3 -2.5-4 -5-26 -3-7.5 -4-5.5 -6-5 -6-3.5 -22-10.5 -14-5 -6.5-5 -7-14 -11-16 -3-6 -.5-4 1-8 -.5-4 -7-14 -2.5-8 -3-18 -2.5-22 -2.5-8 -3-3.5 -4-1.5 -14,.5 -20-.5 -16-5 -10-5 -10-2 -6,.5 -6,2 -3.5,2.5zM176,372l1.5,4 -1,4 -2.5,2.5 -2,.5 -2-.5 -2.5-4.5 -.5-4 1-3 2-1.5 2,0zM990,570.5l-26,13 -24,10.5 -6,4 -4,4 -11,16 -3,8 .5,6 3.5,10 0,4 -1,4 -3,3.5 -7.5,6.5 -6.5,8 -4,2.5 -14,4.5 -14,9.5 -21,9.5 -7,5.5 -12,13 -4,2.5 -4,1 -12,.5 -10,1.5 -6,1.5 -4,2.5 -4,5 -8,13 -4,8 0,12.5 3,7.5 9,0 2,6 15.5,8.5 4.5-1 5-5.5 5,1.5 9.5-3 7-8.5 4,2.5 3,8.5 5,1.5 7-5 5-8 -2-4.5 -17-9.5 6-7 3-12.5 15.5-2.5 8.5,1.5 3.5-4 5.5,2 18.5-9 11.5-2 11,.5 9,3.5 7.5,4.5 6,8 10,.5 10.5-7.5 11.5-12 3-1.5 5,1.5 23.5,20 8.5,1.5 3.5,5 3.5,24.5 4,12 4,6.5 24.5,27 18,15.5 12.5,5.5 7,8 8,5 13-2.5 9-10.5 3.5-14 -2.5-14.5 -8-25.5 -28-46 -30-39.5 -14-24 -2.5-18.5 5-23.5 3-8 4.5,.5 3-2 5-8.5 -11,1.5 -6-1 -6.5-4 -9.5-8.5 -4-1.5 -4,.5 -6,3 -4,1 -7.5-2.5 -3-2 -1.5-4 1.5-4 3.5-4 0-4 -5-7 -4-3 -2-.5zM1184,154l-8-7.5 -4-1 -4,.5 -4,1.5 -6,5 -2.5,5.5 0,8 2.5,10 2,4 2,2 8,.5 1.5-2 10.5-18.5zM1157,200l-5-4.5 -2,.5 -2,4 -.5,4 .5,3 1.5,2 7-6.5zM1148,248.5l-5.5,3.5 -2.5,4 -1.5,6 -.5,8 1.5,6 2.5,4 4,3 4,2 1.5-2 7,0 2.5-1.5 5.5-10.5 2-9 3-4 3-1.5 0-2 -6-6 -10.5,0 -2.5,2 -.5,4 -3.5-3.5 -3.5-1.5zM1086,528l-1.5,2 .5,2 1,.5 8,1.5 8,2.5 2.5-9 -2.5-3 -4-2 -8,3zM942,548l-.5,2 1,2 2.5,2 3,1 4-1 2.5-2 1-2 -.5-2 -1-2 -4-2 -4,.5zM1072,516l2,4 2,1 2,.5 2-1.5 0-4 -2-3.5 -2-.5 -2,1z"/>
<path fill="#fe501a" d="M198,152l-3,10 -2.5,12 -2.5,4 -8.5,8 -4,6 -2.5,6 -.5,8 -2,4 -12.5,10.5 -8.5,9.5 -8.5,8 -8,10 -1.5,6 1,12 -2.5,6.5 -2,2 -4,1 -6,0 -3.5-1.5 -6-8 -8.5-7.5 -11.5-13 -1,1 -5.5,21 -8.5,24 -13,15.5 -5.5,27 -1,17.5 8,49 -2,37 5,23.5 7.5,21 -3.5,12 -1,12.5 2,2.5 13,7 11.5,10 15.5,16 1.5,10.5 16,19 -1.5,14 4,14.5 55.5,11 -1.5,3.5 1.5,4 85,62 73.5,16 4-2 3.5-10 36.5,4.5 3.5,7.5 17.5,22.5 14.5,14.5 4.5,20.5 11.5,15.5 16,13 7.5,4 1-6.5 2.5-6 -2-4 -6-4 -.5-2 2.5-6 0-8 -1-4 -9.5-12.5 -2-.5 -12,3.5 -2-.5 -1.5-2 -1-4 .5-2 2-1.5 12-3 2-1.5 1.5-6 0-6 -3-16 -8.5-15 -3-9 0-4 9.5-28 -1.5-12 1-10 -.5-6 .5-2 1.5-2 8.5-4 4.5-4 2.5-4 3-8 3.5-16 6-14 1-6 0-10 -1.5-8 -3-6 -4-4.5 -2.5-7.5 1-16 -1-10 -2.5-18 -3-10 -3-26 0-8 2.5-18 .5-12 -1-12 -2.5-10 -2.5-4 -2.5-2 -3.5-1.5 -24-.5 -14-3 -8-4.5 -5-4.5 -2.5-4 -4.5-24.5 -2-6 -4-6 -12-8 -12-5.5 -10-5.5 -17.5-6.5 -4.5-4 -14.5-22 -8.5-12 -2-4 -.5-4 1-10 -3-10 -4.5-10 -4-28 -.5-12 -1.5-6 -2.5-4 -5.5-2 -12,1.5 -10-1 -10,2 -2-1 -2.5-3.5 -3.5-2 -10-3 -10-6.5 -6-1.5 -6,0 -5,1 -5,3zM178,365.5l2,1.5 2.5,3 1.5,4 1,4 -1.5,4 -3,4 -4.5,3 -4,1.5 -4-2.5 -4-4 -1.5-4 .5-8 2-4 3-2.5 4-1zM100,372.5l2,3.5 .5,2 -.5,2.5 -2,3 -2-.5 -2-7 2-3.5zM938.5,602l-7.5,8 -4,12 -.5,6 2,8 .5,4 -1,12 -2,4 -9,10 -5,8.5 -6,2.5 -14,1 -6,2 -5.5,4 -7.5,8 -1.5,6 2,4 5.5,8 0,2 -1,2.5 -2,1 -6,1.5 -6,0 -2-1.5 -4-7 -2-1.5 -4-.5 -6,2.5 -11,9 -7,3.5 -4,1 -10,0 -14,1 -6,2 -4,2.5 -3,4 -9,16 -1,4 0,16 9,0 2,6 15.5,8.5 4.5-1 5-5.5 5,1.5 9.5-3 7-8.5 4,2.5 3,8.5 5,1.5 7-5 5-8 -2-4.5 -17-9.5 6-7 3-12.5 15.5-2.5 8.5,1.5 3.5-4 5.5,2 18.5-9 11.5-2 11,.5 9,3.5 7.5,4.5 6,8 10,.5 10.5-7.5 11.5-12 3-1.5 5,1.5 23.5,20 8.5,1.5 3.5,5 3.5,24.5 4,12 4,6.5 24.5,27 18,15.5 12.5,5.5 7,8 8,5 13-2.5 9-10.5 3.5-14 -2.5-14.5 -8-25.5 -28-46 -30-39.5 -14-24 -2.5-18.5 5-23.5 3-8 4.5,.5 3-2 -8,.5 -4-1 -14-7 -4-1 -14,1 -10-1 -8-2.5 -2,.5 -2,2.5 0,2 2.5,14 -1.5,6 -3,2.5 -8-.5 -4-1 -3.5-3 -8.5-16 -3-12 -1.5-2 -5-2 -6.5-.5 -6,1.5zM1008,640l6,3.5 1.5,2.5 0,2 -.5,2 -3,3 -4,1 -4,0 -3-2 -1.5-2 -1-4 0-2 1.5-2 2-1.5zM476,771.5l-2,2.5 0,2 4.5,3.5 8.5-11.5 -3-.5 -3,.5zM1148.5,268l1,4 2.5,1.5 3.5-1.5 1-2 -.5-4.5 -2-2 -2-.5 -2,.5z"/>
<path fill="#ee3408" d="M196.5,174l-.5,2 -8,8 -8,10 -1.5,4 0,10 -2,4 -14.5,10 -8,9.5 -6.5,6.5 -4.5,6 -3.5,4 -2,4 .5,18 -4.5,8 -3.5,2 -12-1 -3-1 -3-2.5 -4.5-7.5 -3.5-3 -4-1.5 -6-9.5 -5.5-3.5 -4.5,17 -8.5,24 -13,15.5 -5.5,27 -1,17.5 8,49 -2,37 5,23.5 7.5,21 -3.5,12 -1,12.5 2,2.5 13,7 11.5,10 15.5,16 1.5,10.5 16,19 -1.5,14 4,14.5 55.5,11 -1.5,3.5 1.5,4 85,62 73.5,16 4-2 3.5-10 36.5,4.5 3.5,7.5 17.5,22.5 14.5,14.5 3.5,16.5 1,.5 -.5-20.5 1.5-6 1-2 6-4 2.5-4 5.5-3 1-3 -.5-12 -8.5-16.5 -3-7.5 -.5-4 2.5-8 1-7 5-13 1-4 -1.5-8 .5-10 -2-8 1-2 3.5-4 8.5-3.5 5-4.5 5-12 3.5-14 6-14 .5-4 -.5-14 -1.5-6 -2-3 -4-2.5 -1-2.5 -1.5-10 0-24 -2-10 0-8 -4.5-12 1-6 -1.5-10 -.5-18 2-18 .5-12 -1-12 -2.5-10 -2.5-4 -4.5-2.5 -24,0 -16-4 -6-3 -5-4.5 -4-6 -4-24 -2.5-6 -2.5-4 -4-3.5 -22-10.5 -8-5 -17.5-7 -3.5-2 -7-8.5 -5.5-5.5 -3-6 -3.5-5 -7.5-5 -7.5-14 0-2 2-4 1-4 -1.5-12 -3-8 -3-20 -3.5-8 -.5-2 2.5-8 -1-4.5 -2.5-3.5 -3.5-1.5 -8,3.5 -2.5-2 -3.5,0 -1.5,2 .5,4 -.5,2 -4.5,4 -2,0 -9-6 -3-6 -4-3.5 -2.5-4.5 -2-2 -11.5-4 -8-6.5 -8-1.5 -7,2 -5,4 -3.5,12zM192,376l-4,8 -2,6.5 -2,1.5 -10,3.5 -4-.5 -8-7 -3-4 1-12 1-4 5-6 4-1.5 8-.5 4,1.5 9.5,12.5zM105.5,386l4.5,10 -.5,4 -1.5,5.5 -8-11.5 -5.5-4 0-16 1.5-3.5 2-1.5 2,0 2,.5 3,4.5 1,4zM193.5,592l-9.5,3 -4,2.5 -2,.5 -2-2 .5-4 1.5-2 6-3 4-1 4,1.5 2.5,2.5zM214,373l-4,1.5 -4-2 -3.5-4.5 0-2 1-2 2.5-2 2,0 4,2 3,4 .5,2zM110,416l1,16 -1,2 -3.5-2 -3-4 4.5-16.5zM208,240l-2,2 0,4.5 -.5-4.5 -7.5-1.5 -1.5-2.5 3.5-4.5 2-2 2-.5 2.5,1 2,2 .5,2zM151.5,288l-1.5,2.5 -6-.5 -3-2 0-2 1-2 2-1 4,2zM408,689.5l-2,2 -2,0 -1-1.5 1-2 2-.5zM459.5,784l-1.5-8 -4-6 -2.5-8 -1.5-2 -6-1 -6-4.5 -6-2.5 -1.5,3 11,14.5 16,13zM937.5,624l2,12 0,12 2.5,5.5 4,4 4,2.5 3,4 7,1.5 2,2 1,2.5 1,8 -2.5,10 -3.5,5 -2,1 -4-.5 -2-1 -4-4.5 -2.5-4 -7-16 -2.5-.5 -10,6 -2,2.5 -2,5 -2,2 -28.5,3 -3,2 -1.5,2 0,4 2,6 5,7.5 1.5,6.5 2,4 3,2.5 13-2.5 11,.5 9,3.5 7.5,4.5 6,8 10,.5 10.5-7.5 11.5-12 3-1.5 5,1.5 23.5,20 8.5,1.5 3.5,5 3.5,24.5 4,12 4,6.5 24.5,27 18,15.5 12.5,5.5 7,8 8,5 13-2.5 9-10.5 3.5-14 -2.5-14.5 -8-25.5 -28-46 -30-39.5 -14-24 -2.5-18.5 5-24.5 -19.5-8 -8,.5 -6,1.5 -3.5,1.5 0,4 1.5,4 8,5.5 2.5,2.5 1.5,6 -.5,6 -4,6 -5.5,4 -6,1.5 -10,0 -4,2 -2.5,2.5 -1.5,6.5 -2,1.5 -2,.5 -4-.5 -2.5-2 -1-2 2-4 7.5-6 1.5-4 -1.5-6 -3-4 -14-8 -3-8 -4.5-6 -5-12 -3-4 -3.5-2.5 -4,0 -4,1.5 -3,3 -3,8zM858,730.5l-10-3.5 -4-1 -14,4.5 -18-1.5 -12,1 -6.5,2 -3.5,2 -2,2.5 -7,13.5 -1,6 .5,12 5.5,0 2,6 15.5,8.5 4.5-1 5-5.5 5,1.5 9.5-3 7-8.5 4,2.5 3,8.5 5,1.5 7-5 5-8 -2-4.5 -17-9.5 6-7 3-12.5z"/>
<path fill="#da2c06" d="M191,184l-8,12 -1,10 -1.5,6 -1.5,2 -15,10 -6.5,8 -8,8 -7.5,12 -1.5,8 1.5,8 -.5,8 2,2 11,8 7.5,8 -2,1.5 -2-2 -6,.5 -10-1 -16-10.5 -8-.5 -4-1 -4.5-3 -5.5-8.5 -8-2 -4-9 -2-1 -4,2 -2,9 2.5,1.5 .5,2 -1,2 -2-1.5 -1-2 -7.5,21 -13,15.5 -5.5,27 -1,17.5 8,49 -2,37 5,23.5 7.5,21 -3.5,12 -1,12.5 2,2.5 13,7 11.5,10 15.5,16 1.5,10.5 16,19 -1.5,14 4,14.5 55.5,11 -1.5,3.5 1.5,4 85,62 73.5,16 4-2 3.5-10 36.5,4.5 3.5,7.5 17.5,22.5 14.5,14.5 .5,2 2.5-13.5 5.5-8 2-4 1-6 5-6 0-2 -1-6 -7.5-16 -1.5-6 2.5-8 1-8 3-6 3-10 -1.5-8 .5-10 -2-6 -.5-2 2-3.5 4-4 10-4 3-2.5 1.5-4 .5-4 2.5-6 1-6 8.5-22 -3.5-20 -5-6 -2.5-30 .5-10 -4.5-12 2-4 -4-6 -1-4 3-8 -1-10 0-18 2.5-26 -1-16 -2.5-10 -3-4 -4.5-2 -22.5,1 -8-2.5 -10-1.5 -2-1 -8-7 -4-5 -1-4 -4-24 -2-4 -3-4 -4-2.5 -14-6 -24-13 -10.5-4.5 -3.5-2.5 -6-7 -6-2.5 -3-8 -3-3.5 -2-.5 -6,3 -1.5-1 -2.5-8 -5.5-6 .5-6 -1-3.5 -2-4 -6,1 -1.5-1.5 0-2 1.5-2 2-1 4,0 .5-1 0-2 -4.5-6.5 1-1.5 5-.5 1.5-3.5 -1.5-10 -1.5-4 -1-8 -1.5-4 -2-2 -4-1.5 -4,0 -3,1.5 -1.5,2 -.5,2 1,6.5 8,.5 4,1.5 1,1.5 0,2 -2.5,2 -2.5,.5 -4-1 -3,6.5 -3,1.5 -4-.5 -2-3 0-2 .5-2 4-4 -.5-2 -12,5.5 -2.5,2.5 -1,2 1.5,4 -2,1.5 -2-1.5 .5-4 -2.5-4.5 -.5-3.5 .5-2 2-2 4-1.5 .5-.5 -1.5-12 1-6 -.5-2 -5.5-5.5 -2.5-4.5 -4-4 -3.5-5 -2-1.5 -9.5-3.5 -5.5-6 -5-2.5 -8,1 -4,2 -2,2 -1.5,3.5 -2,10 1.5,8 -.5,2zM204.5,358l5.5-.5 2,1.5 6,8.5 .5,2.5 -.5,3.5 -2,2.5 -4,2 -16,3.5 -2,1 -2,2.5 -2.5,9 -3.5,3.5 -4,1 -12,0 -3.5-2.5 -9.5-10 -1-4 1.5-14 1.5-6 -2-6 1-3 2,0 6,3 14,.5 8,3.5 12-.5zM112,402l.5,20 2,10 -1.5,10 0,4 4,10 5.5,8 5.5,5.5 .5,2.5 -.5,2.5 -2,2.5 -10,7.5 -4,2 -2-1 -1-1.5 -3-10 0-2 1.5-2 5-4 .5-2 -3-6.5 -1-7.5 -2-4 -1-8 -2-3 -6.5-3 -1.5-2 .5-2 3.5-4 2-4 2-8 -.5-4 -4.5-10 -7.5-6 -1-2 2.5-8 0-10 5-5 4-.5 3.5,1.5 2.5,1.5 2,2.5 .5,4 -1.5,8 3.5,10zM196,598.5l-6-.5 -4,1 -8,7.5 -2,1.5 -2,0 -3-8 0-8 1-4 6-12 2,0 6,3.5 7,2.5 9.5,6 1.5,2 -2,5.5 -3,2.5zM208,253.5l-16-7.5 -.5-2 .5-6 1-2 9-9 2-.5 6.5,3.5 4,4 -3,10 -.5,8 -1,1.5zM194.5,310l-4.5,5 -2,0 -.5-1 1.5-6 -1-4.5 -2-2.5 -8,1.5 -2-1 -4-11.5 4-2 4,1 4,3 4,5.5 6,3.5 1.5,5zM402,694.5l-3.5-4.5 .5-2 2-2 7-3 2-.5 2,1.5 1.5,6 -1.5,4 -2,1 -4,1zM356.5,668l-.5-2 2-2 8,1 4-3.5 1,.5 .5,2 -3.5,12 -6-1zM135.5,322l-1-2 0-2 3.5-6.5 2-1.5 2-.5 2,0 2,1 1,5.5 -2.5,6 -2.5,1.5 -2,0zM175,416l0-2 3-4.5 4-2 2,.5 1.5,4 -.5,2 -1,2 -4,2 -2,0zM192,432l.5-2 3.5-2 2,0 2,1.5 1,2.5 -1,2 -4,1 -2.5-1zM208,407.5l-2-5.5 1.5-2 2.5-.5 3,2.5 -.5,4 -2,2zM286,417l-.5-3 .5-.5 4-1 2,.5 1.5,1 0,2 -1.5,2.5 -4,0zM126,560l-2-2 .5-2 1.5-1.5 2,.5 .5,1 -.5,3zM250,238l-.5,2 -1.5,1 -1.5-1 -1-2 2.5-2zM445.5,772.5l2.5-2.5 -1-4 -12-5 6.5,8.5zM1011,670l-1.5,2 -1.5,4 1.5,6 0,2 -1.5,2 -6,.5 -8,3 -4-1.5 -2,0 -2,1 -14,14 -6,2 -22,4 -1.5,1 -.5,2 2,4 4,5.5 4,4 4,2 4.5,.5 2,2 3-2.5 11.5-12 3-1.5 5,1.5 23.5,20 8.5,1.5 3.5,5 3.5,24.5 4,12 4,6.5 24.5,27 18,15.5 12.5,5.5 7,8 8,5 13-2.5 9-10.5 3.5-14 -1-4.5 -4.5-4 -2-.5 -8,2.5 -3-.5 -3-2 -.5-12 1-12 -4.5-3.5 -.5-2.5 .5-2 2-.5 4,2 2,0 4-1.5 3,.5 -28-45.5 -30-39.5 -14-24 -2.5-18.5 1.5-7.5 -5.5-3.5 -2.5-4.5 -2,1.5 -2.5,5 -2,12 -3,6 -2.5,2.5zM847,739.5l-5-3 -2,0 -8,.5 -20-2.5 -8,1 -10,4 -6,4.5 -3.5,6 -1.5,6 1.5,12 1.5,0 2,6 15.5,8.5 4.5-1 5-5.5 5,1.5 9.5-3 7-8.5 4,2.5 3,8.5 5,1.5 7-5 5-8 -2-4.5 -17-9.5 6-7zM960,637l-2-6 -5.5-5 -.5-1.5 -2,1 -2,8.5 2,6 4,3.5 4-.5 2-2z"/>
<path fill="#c32405" d="M170,222.5l-6,5.5 -4,7.5 -6,3.5 -2,2.5 -6,10.5 -2,8.5 0,3.5 2.5,6 1,6 3,4 3.5,2.5 4,2 2,0 2-1 1-1.5 -2.5-6 .5-2 1-3.5 2-1 4,3.5 2.5,3 1.5,6.5 20,9.5 5.5,4 1,6 -.5,6 -1.5,4 -4.5,6.5 -4,0 -4-1.5 -.5-3 1.5-6 -.5-2 -2.5-1 -4,1.5 -2.5-.5 -2-2 -3-8 -2.5-.5 -4,4.5 -2,1.5 -2,.5 -8-4 -4,0 -1,2 5,14 .5,2 -1,2 -7.5,7 -4,.5 -5-1.5 -2-2 -1-2 -1-12 1.5-4 5.5-4 1.5-2 -1-2 -12.5-10 -4-1.5 -6,0 -9-4.5 -2.5-2 -2.5-4.5 -4-1.5 -4,0 -1,2 0,6 1,1.5 4,2.5 .5,2 -.5,1 -2,1 -4-1.5 -2.5-4.5 -8-7 -6,16.5 -13,15.5 -5.5,27 -1,17.5 8,49 -2,37 5,23.5 7.5,21 -3.5,12 -1,12.5 2,2.5 13,7 11.5,10 15.5,16 1.5,10.5 3,3.5 4-4 3.5-2 4,0 2,1 1.5,5 0,6 -1.5,2 -5.5,1 5,6.5 -1.5,14 4,14.5 37.5,7.5 -1-9.5 .5-8 2.5-12 0-2 -3.5-3.5 -.5-2.5 1-2 1.5-1.5 4.5-.5 1.5,4.5 2,1.5 4,1.5 6,3.5 10,1.5 4,3.5 6,2 1,2 0,4 -.5,2 -6.5,7 -4,2 -10,.5 -2,1.5 -4.5,5 -1,1.5 7,1.5 -1.5,3.5 1.5,4 85,62 73.5,16 4-2 3.5-10 30.5,4 2-1 2,.5 2,1 3.5,7.5 17.5,22.5 12.5,13 1.5-4 1.5-8 5-8 1-8 5.5-10 -1-6 -3-8.5 -3.5-5.5 -1-4 .5-6 2.5-6 .5-6 3.5-6 2.5-12 -1-6 1-8 -3-10 2-4 4-4.5 4-2.5 6-1.5 4-3.5 0-8 2.5-4 1.5-8 4-6.5 4-13.5 -1-8 -2.5-6 -1-4 -3.5-6.5 .5-11.5 -.5-8 -3-8 .5-16 -1.5-4 -4-5.5 -.5-2.5 0-6 -1-8 3.5-5.5 .5-2.5 -2-8 1.5-10 .5-12 1.5-22 -.5-14 -3-12 -2.5-3.5 -4-1.5 -14,.5 -8,2 -2,0 -4-3 -4-1 -10-.5 -2-1 -9-10 -2.5-4 -5-28 -2-4 -3.5-4 -4-2 -14-4 -6-3.5 -8-2 -3-4.5 -2.5-2 -4.5-3 -11.5-5 -6.5-6.5 -9.5-3.5 -2.5-4.5 -2-1 -6,1 -6-1.5 -4,7 -10-8.5 -2-.5 2-2 4.5-10 0-2 -4.5-10 -3-2 -1.5-2 .5-4 3.5-8 0-2 -5.5-6.5 -2-1 -12,0 -4,1 -3,2.5 -1.5,4 3,8 1.5,8 0,2 -1.5,2 -2.5,.5 -2-.5 -6-8.5 -2-5.5 2.5-6 .5-4 .5-12 -3-8 1-10 2-8 4-6 0-2 -13.5-17 -4-2.5 -6-1.5 -8-9 -4-.5 -4,.5 -4,1.5 -2.5,2.5 -2,12 2.5,8 -2.5,4 -7.5,6 -7.5,12 -3.5,18 -9,6.5zM214,408l-2,3 -2,1 -2-.5 -2-1.5 -4-10 -2-2 -8,1 -4,3 -1,2 0,2 1.5,8 1.5,3 8,3 4-2.5 2,1 3.5,5.5 3.5,4 0,2 -1,1 -8,7.5 -6-.5 -6-2.5 -2.5-3.5 -.5-2 2-6 -1-3.5 -2-1 -6,1.5 -2,0 -4-2 -2-3 0-4 5-6 0-2 -9-3 -2-1.5 -12.5-15.5 1-12 -1-10 0-6 .5-4 1.5-2 4.5-1.5 2,.5 4,2.5 2,1 12,.5 8,2 10,0 4.5-1 7.5-3.5 10-.5 6-5.5 2,0 1,3.5 -1,3.5 -8,6 -1.5,2.5 2.5,10 1,8 -2,1.5 -8,1 -6,1.5 -7,4 -1,2 0,4 2,3.5 2,1 4,0 4,.5 4.5,3 1,2 0,2zM116,446l2.5,6 6,6 5.5,9.5 1,4.5 -.5,4 -4.5,10 -11.5,6 -2.5,.5 -2-.5 -3.5-2 -6-8 0-2 1.5-1.5 2-8.5 4-6 -1-12 -2.5-6 -1-6 -1.5-2 -10-6 -4.5-4 2.5-1.5 4-1.5 3.5-3 2-4 1-4 .5-6 -3.5-8 -1.5-2 -6.5-4 -4.5-4 5-5.5 1.5-2.5 -.5-8 1-3 4-4.5 4-2 10,1 4,8.5 0,4 -2,6 0,2 2.5,6 -1,12 .5,18 2.5,12 -1,8zM188.5,240l.5-6 7-3.5 4-6.5 2-2 2-1 2,.5 12.5,10.5 0,2 -4.5,10 .5,10 -.5,2 -2,1.5 -2-.5 -10-4 -6-.5 -6-2.5 -1.5-2 0-2zM368,656l4,1 2,1.5 2,5.5 -1.5,12 .5,6 -1,2 -4,1.5 -8.5-1.5 -3.5-2 -1.5-2 -3-12 .5-4 2-2 6.5-2 3.5-4zM416.5,688l-.5,5.5 -2,3 -2,1.5 -6,1 -4-.5 -2-1.5 -5.5-7 .5-2 2-2 11-6.5 4-1.5 2,.5 1,1.5zM301,408l-3,6 -1,6 -5,3.5 -4,0 -2-1.5 -5-6 -.5-2 .5-2 2-2 7-2 4-4.5 2-.5 4.5,3zM164,323.5l-6-1.5 -1-2 0-2 2-2 5-2.5 4,1.5 2,3 0,2 -2,3zM278,384l4-2.5 3.5,.5 1.5,2 .5,4 -1.5,2 -4-.5 -2.5-1.5 -1.5-2zM259,586l-5,5.5 -2,1 -2.5-.5 -1-2 2-2 7.5-4.5zM94,479l2-1 3.5,2 0,2 -5.5,2 -1.5-2zM170,341l0,1.5 -2,1 -1-1.5 .5-2 .5-.5zM1026,673.5l-6.5,12.5 -5.5,6 -4,7 -2,1.5 -4,1 -8-2 -5,2.5 -2.5,4 -1,4 2,9.5 6,5 4.5-2 4,0 2,2 2,6.5 4,5 5,1 3.5,5 3.5,24.5 4,12 4,6.5 24.5,27 18,15.5 12.5,5.5 1.5,2 -1.5-9 -.5-10 -4.5-10 .5-2 1-2 7-6 2.5-6 -.5-6 -5-6 -.5-2 .5-4 2-4 2.5-2 4-.5 6,2 7.5-1 -20.5-33.5 -30-39.5 -13.5-23.5 -5.5-1 -10,1zM840,773l4,.5 2-1.5 5.5-8 1-5.5 -13-7 5.5-6 -5-2 -4-.5 -6,.5 -16-3 -4,0 -12,3 -8,4 -2,2.5 -1.5,6 1.5,8 0,10 15.5,8.5 4.5-1 5-5.5 5,1.5 9.5-3 7-8.5 4,2.5zM1113,844l-5-4.5 -7.5,2.5 -2,2 3.5,2zM1112,834.5l6-1 4.5,1 1.5-1.5 1-5 -3-2 -4-.5 -2.5,.5 -3,2 -1,2z"/>
<path fill="#aa1b04" d="M164,263.5l9.5,10.5 4.5,8 6,3.5 8,2.5 7.5,4 2,2 .5,4 -2,12 -6,11.5 -2,1 -10-3.5 -1.5-3 -.5-4 -2-1.5 -4-.5 -2-1 -2-6 -2-2 -3.5,3 -1.5,2 0,2 7.5,4 3,8 0,2 -1.5,2.5 -4,2 -10-1.5 -6-2 -2,.5 -6,3.5 -2,.5 -8-2 -3-3.5 -2-8 -1.5-12 -3-6 -.5-2 1-2 -1-2.5 -16-5.5 -2,0 -1.5,4 -2,2 -6.5,1 -6,0 -2-1 -2.5-8 -5-4.5 -5,14 -13,15.5 -3,15 2.5,0 6,3.5 .5,2.5 -1.5,2 -10,6 -1,15.5 8,49 -2,37 5,23.5 7.5,21 -3.5,12 -1,12.5 2,2.5 13,7 11.5,10 13,13.5 0-1.5 .5-1 2,1.5 .5,1.5 -.5,1 -1-.5 1,1.5 1.5,10.5 1,1 3.5-3.5 4-2 6-1 4,1.5 1,3.5 1.5,10 -2.5,4 -5.5,2 3,3.5 -1.5,14 4,14.5 35.5,7 -1-19 1-6 -1-4 -1.5-2 0-4 3-6.5 4.5-3.5 3.5-5 2,.5 2,2 1,2.5 -.5,6 1.5,2 6,4.5 4,1 8-.5 6,3 2-.5 6-3 1.5,1.5 -2,4 0,10 -1.5,4 -12,8.5 -4,1 -6,0 -2,1 -3,3.5 -1.5,2.5 4,.5 -1.5,3.5 1.5,4 85,62 43.5,9.5 0-3 2,0 2,3 -1,1 19,4 1.5-5 -.5-8 5-6 6-4 1.5-2 1.5-8 5.5-4 .5-2 -2.5-6 .5-2 3-2 2,0 2,1 4,5 6,3 3,3 1.5,4 1,10 -1.5,6 2,5 4,0 6-4 4,4.5 2,0 4.5-1.5 11.5-8 2-.5 2,.5 1.5,2 2,6 0,8 -1.5,6 -2,3.5 -2,1.5 -2,.5 -14.5,.5 13.5,17 9.5,9.5 1.5-2.5 1-6 6-8 -.5-8 5-12 -1-10 -.5-2 -4-4.5 -1-3.5 .5-8 2.5-6 0-6 4.5-6 0-6 2-6 0-14 -2.5-8 0-4 8-10 2-1.5 6-.5 3-2 1-2 -1.5-6 4-6 1-8 4.5-6 1-4 -.5-6 2-6 -.5-4 -2-4 -1.5-6 -3-6 2-10 -.5-6 -1-4 -4-7.5 1-16.5 -5.5-12 0-6 -1-6 .5-4 3-4 .5-2 -2.5-8 3-10 0-14 1-10 .5-22 -.5-6 -3-8 -3-3 -4-1 -12,1 -10,4 -2-.5 -3-4.5 -3-1.5 -8,1.5 -5.5-2 -2-2 -10-14 -3-16 -.5-10 -1.5-4 -3-4 -4.5-2.5 -16-2.5 -12-4.5 -3-2.5 -5.5-8 -15.5-8 -6-5 -6-1.5 -4,0 -4,2 -6,4.5 -4,2 -2-.5 -2-1.5 -6-7 -10-3.5 -2,0 -1,2.5 -3,1.5 -4-.5 -2-1 -1.5-2 -.5-2 2-3 6-3 -1-4 -5-4 -6-1.5 -2.5-6.5 -5.5-2 -2-2 -1.5-6 -4.5-8 -2-2 -4-2.5 -1.5-3.5 1.5-3.5 2-1.5 4-1.5 .5-1.5 1.5-8 -4-8 2-6 1.5-10 4.5-8 0-2 -5.5-8 -7-8 -3.5-2 -6,1.5 -2-1 -2-7 -2-2.5 -2-1.5 -8,1 -2,1.5 -1,2 1,10 1.5,8 -1,2 -11,10 -6.5,10 -2,12 1,6 -.5,2 -7.5,3.5 -12,7.5 -2,3 -2,6 -9,6 -5.5,10 -2,10 2.5,3.5 4,2.5 2,0 6-5zM223,368l4,10 -.5,2 -2.5,4 -4,2.5 -2-.5 -4-2.5 -4-.5 -4,2 -2.5,3 0,2 1.5,2 9,5 3.5,3 .5,2 -2,8 -5.5,6 -.5,2 1,4 3,3.5 1,2.5 -.5,4 -6.5,4 -2.5,4 -1.5,4 -2,0 -4-3 -8-2 -2-1 -3-4 -4-8 -9.5-6 -4-6 -1-8 -1-2 -5-6 -3-6 -6-6 -1.5-4 2-8 -1.5-14 1-8 2.5-4.5 8-3.5 1.5-8 2.5-1.5 2,0 5,3.5 2,4 1,5 4-1 8-4.5 2,0 2,2.5 1,4 3,1 4-1 3-4 3-2.5 4,.5 4,3 2,0 4-3 6-6.5 4-.5 1.5,1 1,2 .5,6 3,7.5 4-.5 6-2 4-.5 4,1.5 1,2 -.5,2 -6.5,6 -2,5 -2,2.5 -4-2 -8-1 -4-3.5 -2-.5 -3,1.5 -.5,2zM96,490l-4,1.5 -2,0 -.5-9.5 2.5-5 2-1 4-1 2-1 4-10 .5-12 -4-12 -2.5-2 -12-6.5 -2-1.5 -.5-2 1-2 1.5-1 6-2 4-3 1-2 1-6 0-6 -2-4 -2-2 -8-3.5 -7-4.5 -1-1.5 -1.5,3.5 0,4 -2.5,2.5 -4,.5 -2-1.5 -1.5-3.5 1.5-4 2-2 4-1.5 4,1 .5-1.5 2.5-2 7-2.5 2-3.5 0-8 2-3 4-4 4-2.5 10-.5 2,2.5 3.5,9.5 0,4 -1,6 2,8 -1.5,10 1,10 -.5,10 2.5,12 0,10 3.5,8 6,6 4.5,10 1,6 -2,6 -1,6 -1.5,2 -7.5,4 -5,4.5 -6-1 -10-5.5zM215,224l6.5,6 1,4 -4.5,6 -1.5,4 2,12 -.5,2 -1.5,2 -2.5,1 -4-.5 -6-3.5 -4-1 -6,1 -10-5.5 -1-1.5 3-10 -1.5-6 1-4 2.5-1 4,.5 2-.5 6-11 2-2 8-2.5 4.5,.5 1.5,2 -1.5,6zM274,418l-2-4 0-2 6-2.5 8-5.5 .5-2 -4.5-8 -6-5 -1-5 1-2.5 2-1.5 6-1 2,0 2,2 2,3 3.5,10 4.5,4.5 7,9.5 .5,2 -1,2 -2.5,2 -1,2 1,3 2,1.5 4,0 2,1.5 -.5,6 -1.5,2 -3.5,0 -4.5-3.5 -2,.5 -5.5,3 0,2 2,4 .5,6 4.5,6 -1,2 -4.5,1.5 -2-.5 -4-3.5 -2-3.5 0-4 2-6 2-2 0-2 -6-5 -4-5zM243.5,588l11.5-8 3-1 2,.5 2.5,4.5 0,4 -4,4 -4,6 -1,4 -.5,8 -1,.5 -4,0 -2-1.5 -3-7 -1.5-12zM328,668.5l0-4 2-1.5 6,4.5 2.5,6.5 0,2 -1.5,2 -3,.5 -2-1zM229,286l5-13 2,0 2,1 2.5,4 -1,4 -1.5,3 -6,3.5 -2,0zM234,298.5l-1.5-6.5 1.5-1.5 2,0 4,2 1.5,1.5 .5,2 -2,3 -2,1.5 -2,0zM216,290l-.5,10 -1.5,2.5 -3-.5 -.5-2 .5-4 -1-6 2-2.5 2,0zM364,471l-3.5-1 -1.5-2 1-2 2-.5 4,1.5 6-2 2,.5 1.5,2.5 -1.5,2 -6-1zM262,500.5l-8-4.5 4-4 8.5,6 0,2 -2.5,.5zM329.5,474l0-4 2.5-1.5 3.5,1.5 1,2 -.5,2 -2,1 -2,.5zM62.5,348l-2.5,5 -2,0 -.5-1 0-6 2.5-1 2,1zM274,507l-2.5-5 .5-1.5 4,1.5 1,2 .5,2 -1.5,2zM254,292.5l4.5,3.5 -2,2 -2.5,.5 -1.5-2.5 0-2zM298,667l-.5-1 .5-3.5 2-1 2,2.5 -2,2.5zM88,296l-2,1.5 -2,0 -.5-1.5 2.5-3 2,0zM316,597.5l0-5.5 2-.5 .5,.5 -.5,3.5zM76,431.5l1.5,.5 0,2 -1.5,1 -2-.5 -.5-2.5zM82,311.5l2-.5 2,1 -1,2 -2.5,0zM177,264l.5-2 .5-.5 1,2.5 -1,1.5zM192,262l2,1 0,1 -2,0zM356,684.5l-4-4 -2,0 -2,1 -3,2.5 -2,4 .5,4 4,4 2.5-1.5 3.5-10zM1061,696l-5,1 -3.5-1 -2.5-2 -1.5-6 -2.5-3.5 -8-5.5 -2,0 -1,1 3.5,2 .5,2 0,2 -3,3 -6,.5 -2,2 .5,6.5 -7.5,12 -5,5 -1,11 3.5,8 -.5,4.5 2.5,3.5 3.5,24.5 4,12 4,6.5 24.5,27 18,15.5 5.5,2.5 -1.5-4 -2-12 -6-6 -.5-2 2-5 4-5 10-8 0-2 -5-8 -.5-4 5-8 4.5-5.5 4-1 8,1 3.5-.5 -16.5-27zM812.5,762l2-6 3.5-4 .5-2 -3-2 -5.5-1 -10,1.5 -4.5,1.5 -2.5,2 -.5,2 2,4 -1.5,6 1,4 14,9.5 2,.5 1-2 -3-6 .5-2zM266.5,230l-2.5-2 -4-1.5 -3.5,1.5 -1,2 .5,2.5 2,4 3.5,3.5 2.5,1 6,.5 2-2 1.5-5.5 -1.5-2zM196.5,414l4.5-4 1-2 -1.5-4 -2.5-1.5 -5,1.5 -2,2 -.5,2 0,2 1.5,3.5 2,1zM277,256l-2.5-4 -2.5-.5 -.5,2.5 0,2 2.5,3 2,0 1-1zM161,308l-5-2.5 -1,.5 -1,2 2,3.5 2,0 2-1.5z"/>
<path fill="#921103" d="M235.5,332l6.5-4 2,.5 10-4.5 4,.5 3,1.5 1,2 -2,2 -4,2 -4,0 -6-1.5 -2,1 -1.5,8.5 1,4 2.5,1.5 8,1 6,2.5 9.5,1 4.5,2.5 6.5,1.5 2,2 -1,10 -1.5,1.5 -2,.5 -2-.5 -6-8 -10-2 -4,0 -3.5,2.5 -1,2 -2.5,12 -3,4 -7,2 -3,2.5 -6,.5 -3.5,3 -2.5,5.5 -1,.5 -7-1.5 -4-3 -2,0 -1,.5 1.5,2 9,8 1,2 -.5,6 1,2 8.5,4 .5,4 -2,2.5 -6,2 -2,0 -3.5-4.5 -2.5,1.5 0,2.5 2.5,2 1.5,2 .5,10 -2.5,2 -6.5,2 -1.5,2 -.5,6 -1.5,2 -2,1 -3.5-1 -4.5-4.5 -2,0 -4,1 -4-.5 -4-7.5 -2-1.5 -4.5-1 1.5-4 -1-2 -6-4 -2.5-4 -4.5-4 -1-9.5 -2-2 -2,.5 -2,1.5 -2-.5 2.5-4 0-6 -1.5-4 -6.5-6 -1.5-4 2-10 -.5-14 1-8 .5-5.5 2-4.5 2,2 2,.5 2.5-.5 .5-6 5-6 -1.5-2 -10.5-1 -10,2 -10-3 -2-3.5 -3.5-8.5 0-8 -1-4 -10.5-12 -3-2 -2,0 -6,4 -9,2 -2,2 -3,4.5 -6,3.5 4,3 2.5,3 -.5,4 -2,2 -4,1.5 -2,0 -2.5-1.5 -3.5-3 -2,.5 -3.5,2.5 -1.5,2 3,4 .5,4 -2.5,7.5 -5,4.5 .5,2 2.5,5.5 -.5,4.5 -2,4 -8,5.5 5.5,34.5 7-6.5 16-6 2-1.5 .5-6 1.5-4 4-5 4-3.5 10-2 2-.5 2,2 5,13 -.5,10 1.5,8 -2,8 1.5,10 -.5,10 2.5,14 .5,10 3,6 7.5,8 3.5,10 .5,4 -1.5,8 1,6 -1.5,2 -10.5,6 -3,4 -3,1.5 -7.5-1.5 -8.5-3.5 -2-.5 -4,1 -2,1 -3,4 -.5,2 1,8 -1,2 -5,3 13,11 6,6 1.5-2.5 4,.5 7.5,8 1,2 0,4 1.5,2 12-1.5 5,1.5 1,2 -.5,6 2,8 -2.5,4 -6,5 .5,.5 -.5,6 3,6.5 0,2 -3,4 3,10 33.5,6.5 0-12.5 -2.5-10 -4.5-4 -1-2 1-2 4.5-4 6-10 .5-2 -1-4 1-2 4.5-3.5 2-.5 2,.5 1.5,1.5 3.5,6 1,8 .5,2 5.5,4.5 10,0 6,.5 8-3.5 2,0 2,2 4.5,6.5 -.5,2 -3,2 -1.5,2 .5,8 -4,4.5 -6,3 -8,5 -10,2 -1.5,3.5 2.5,6 -3,3 84.5,61.5 39,8.5 1.5-7 4-6 -2-6 0-6 -3-4 -3.5-2 -1-2 4.5-11.5 2,0 6,6.5 6-.5 3,1.5 12,18 3,1.5 5-1.5 1-2 .5-8 4.5-4 -1-2 -4,1.5 -6-1 -3-2.5 -.5-2 1-2 4.5-2.5 6,2 10-4 2.5,.5 5.5,5.5 2,1 2,0 4-3 2-.5 .5,1 -.5,8 2,13 4,4.5 6,2 4,4.5 2,.5 2-1 10-8 4-1.5 4,.5 4,3 2-2.5 .5-3 0-6 1.5-6 -.5-4 6.5-6 .5-6 1.5-8 -1-10 -1-4 -2-2 -4-1 -4-2.5 -2-.5 -.5-2 2.5-1 6-5 4,0 4-2 2.5-4 .5-4 1-2.5 2-1.5 4,0 2-2 .5-4 5.5-4 .5-2 -.5-8 4.5-6 -4.5-14 5-4 -1-6 -3-8 2.5-12 0-6 -1.5-4 -3.5-4 -.5-2 -1-8 2-10 -1.5-4 -4-8 0-6 -1-6 .5-4 4-6 -.5-2 -2.5-6 .5-2 3.5-7 1-5 -1-12 1.5-30 -1.5-7.5 -2-4.5 -2-3 -2-1 -12,0 -4,1 -6,4 -4,1 -2-1 -2.5-5 -1.5-1.5 -2,0 -6,1.5 -8-4 -2-2 -9-14 -3.5-26 -1.5-4 -2-3 -4-2 -16-1 -8-3 -8-6 -7-9 -15-6.5 -6-4.5 -6-1 -6,4.5 -10,3 -4-.5 -6-4.5 -6,2.5 -2-.5 -4-2.5 -8-.5 -4-2.5 -3.5-5 0-2 5.5-8 -1-2 -3-1 -6,0 -6,3 .5,2 4.5,6 1,2 0,4 6,4.5 4,2 1,1.5 0,4 -1,2.5 -4,4.5 -6,3 -2-.5 -4-5.5 -2-.5 -6,4 -2,.5 -2-1.5 -4-7 -6-5.5 -1-2 1.5-4 4-4 1-4 -1.5-3.5 -8-7.5 -18-3 -3.5,4 -6.5,4 -6-4.5 -2,1 -4.5,5.5 -.5,2 .5,4 .5,2 2,2 4,1.5 4-1 8,5.5 6,2 3.5-4 6.5-2 2.5,0 3,4 .5,2 -1.5,10 -2.5,5.5 -2,1.5 -2-.5 -6-2 -2,2 -1.5,5.5 -4,6 -.5,8 -2.5,6 0,2 8.5,3.5 12,2 4-2 6-5zM266.5,428l3-6 -.5-2 -1-1 -6-2 -1.5-3 0-4 2-8 1.5-2.5 4-3 1.5,1.5 .5,4 2,4 4,.5 3.5-2.5 1.5-2 0-2 -1-2.5 -2-2 -6-2.5 -.5-1 1-10 1.5-4 10-1.5 2,0 2.5,1.5 4.5,8 2.5,6 4.5,4.5 8,11 6,4.5 5.5,8 0,2 -5.5,3 -2,6 -2,2.5 -2,1 -6,.5 -2.5,1 -1,2 0,2 4.5,6 .5,2 -.5,2 -9,4.5 -4-1.5 -5.5-7 -.5-4 .5-10 -2-4 -4.5-3.5 -2,1 -3,4.5 -3,.5 -2-.5zM266,588l-6,6 -3,8 -.5,4 3.5,8 -.5,2 -1.5,2 -6-3 -6-1 -2-1.5 -5.5-8.5 -.5-2 1-8 -1-5 -2.5-5 4-4 -2-8 2-4 2.5-1.5 2,.5 2,1 6,8 2,.5 6-.5 2,1.5 4,8.5zM266,490l1.5,4 6.5,2.5 5.5,5.5 3,12 -2.5,3.5 -4,0 -6-3.5 -1-6 -1-2 -2,.5 -4,2.5 -6-7 -6-2 -1.5-2 .5-2 4.5-6 1-4 3.5-3 5-3 2-4 5-.5 4,1.5 2.5,3 .5,2 -.5,2 -2.5,1 -6,0 -1.5,1zM384.5,478l-2.5,1 -4,0 -4.5-5 -3.5-1 -8,2 -6-4 -4-1 -4-4.5 -6-1.5 -.5-2 1-2 3.5-5 2-.5 6,1 6-1 1.5,1.5 1,4 2.5,2 3,1 6-.5 2,1 4,4.5 6,2 0,4zM324.5,492l-10.5,1.5 -2-.5 -3-3 -1-2 .5-2 1.5-2 2-.5 3,.5 5,2.5 2-.5 3-4 0-10 3-7 4-2.5 4.5,1.5 3,2 1,4 0,6 -10.5,4 -1.5,2 -.5,6zM304,656l3.5,2 -5.5,12 -2,1 -8,.5 -1-1.5 -.5-2 3-6 -1-6 1.5-6 2-3.5 4-1.5 1,1zM171.5,452l2.5-2.5 4-1 0,1.5 -1.5,4 1,2 6.5,3.5 4-1 2,1 2,6.5 -1,2 -11,3.5 -2-5.5 -4-2.5 -2.5-7.5zM314.5,586l8.5,2 2,2 0,2 -3,3 -4.5,7 -3.5,1 -4-.5 -.5-.5 0-2 1.5-6 -3.5-6 .5-4 2-.5zM250,632.5l16,1.5 8.5,2 -8.5,3.5 -6-2 -4,1 -6-.5 -1-2 0-2zM262,379.5l0,3 -2,1.5 -2-1 -4.5-3 -1-2 0-2 1.5-2 4,0 2.5,2zM334,581l-2-5 .5-2 1.5-1.5 4,0 2,1 0,2.5 -2.5,4 -1.5,1.5zM276.5,662l3.5,1 2,3 -.5,2 -3.5,2.5 -2-.5 -2.5-4 .5-3zM336,598l-5-2 -2-2 0-2 5-1.5 3.5,1.5 .5,2 0,2zM318,539.5l-2,0 -2.5-1.5 -2-2 0-2 4.5-2 2,0 2,2 .5,2zM214,556l2-.5 2,0 1.5,2.5 .5,2 -2,3 -2,.5 -2.5-1.5 -1-2 0-2zM182.5,482l0,2 -1,2 -1.5,.5 -2-.5 -1.5-6 0-2 1.5-2zM240.5,310l1,2 -.5,2 -1,3 -2,2.5 -2-3 0-4 2-3zM236,395l0,3 -2,2 -4.5-4 0-2 4.5-1.5zM237,508l-.5-2 1.5-1.5 2-.5 2,.5 .5,1.5 -.5,2.5 -2,1zM214,517l2,1 1,2 -1,3 -2,.5 -1-1.5 -.5-2zM267,608l3-2 1.5,2 -.5,2 -3,.5 -1-.5zM304,639l4,1 -1.5,2 -2.5,.5 -1.5-.5 0-2zM240,440.5l-2-.5 0-2 2-1 1.5,1 -.5,2zM352,523l2.5,1 -.5,2 -3-2zM289,610l-1,1.5 -2-1.5 2-1zM202,470l-1.5-2 1.5-2 .5,2zM417,725l4-7 5-6 0-2.5 -4-8 -4,5 -2,.5 -8-1.5 -5.5,3 8.5,10.5zM335,694l.5-4 -1.5-3.5 -6-4 -2-5 -1.5-1.5 -.5-.5 -2,.5 -1.5,2 -.5,4 5.5,10zM72.5,490l3.5,.5 8.5-2.5 5.5-11.5 4-3.5 3.5-1 1.5-2 1.5-6 1.5-8 -.5-4 -1.5-8.5 -2-3.5 -2-1.5 -6-3 -6-2 -2,.5 -6,4 -2,0 -3.5-2 -4-4 1-2 12.5-3 3.5-3 6.5-2 3-2 1.5-2 1-10 -1.5-4 -2-1 -12-3.5 -6,3.5 -4,1 -6-3.5 -1.5,31 .5,.5 0,2 -1,3.5 5,23.5 6.5,17 2.5,0 2,2 .5,2 -.5,2.5 -2,1 -2-.5zM70.5,418l-.5,1 -2-1 -1-4 1-1 2,1.5zM1023,722l-.5,16 -2,5 2,14 3,3 3,8 3.5,2.5 2.5,3.5 .5,4 -2,8 25.5,27.5 1.5-1.5 2.5-6 3.5-5 3-9 6-6 -2-10 1-14 5.5-6 3-8 5.5-3.5 2,.5 1.5,3 2.5,3 2,1 4.5,0 -11.5-19 -10.5-14 -4,1 -4,2 -.5,2 4,2 2,2 0,2 -2,1 -2,0 -6-2 -1-1 0-4 -1-2 -9.5-6 -1-2 2-6 -.5-2 -3-1.5 -2,0 -2.5,1.5 -1,8 -2.5,2 -12,0 -6,2 -2,1.5zM234,167.5l-4-2.5 -6,1.5 -4-.5 -3.5-2 -2.5-6 -2-1.5 -2-.5 -1,2 3,6 -1.5,4 .5,6 -1,2 -4.5,4 -2.5,4 1,2 4,4.5 6,3.5 2,4 0,2 -8.5,2 -1.5,4 0,4 14,2 .5,2 -2,8 2.5,4 5,3 2-.5 2-2 6.5-8.5 .5-2 0-2 -2.5-8 3-8 -1.5-8 .5-2 3.5-2.5 2-3.5 -3-8zM62,314l.5-2 -.5-2 -1,4.5zM158,243l-4,7 .5,6 -2.5,3.5 0,2.5 2,1.5 2-.5 1-1 .5-2 -.5-2 1-1.5 2,0 4,1.5 6,5.5 2-2 1.5-7.5 6.5-5.5 3-6.5 .5-2 -2-6 0-4 3.5-6 -1-2 -2,0 -6,5 -6,2 -4.5,9zM240,241.5l-4-3 -4,0 -6,2.5 -4,.5 -.5,2.5 2,2 0,10 1.5,4 11,8.5 4,2 4,.5 2-1 -1-4 0-6 -2.5-6 0-8zM68.5,300l3.5,2 2-.5 2.5-1.5 2-4 5.5-6 .5-2 -.5-4 -4-4 -4.5,11.5zM352.5,687l-2.5-.5 -2.5,1.5 -1,2 1.5,2.5 2.5,1zM186,335.5l2.5-3.5 1-4 -1-4 -2.5-1.5 -4-.5 -2,1 -4,5 -3,2 -.5,2 5.5,6.5 2,1.5 2-.5zM192,195.5l-2,12.5 .5,2 3.5,3 2-.5 1.5-2.5 -1.5-4 0-2 6.5-4 1.5-2 0-2 -2-3 -4-2 -2,0 -2,1.5zM228,366.5l-1.5,1.5 .5,2 5,6.5 2,1.5 2,0 2-.5 1-5.5 -.5-2 -2.5-1.5zM72,499.5l-1.5,2 .5,2.5 1,1.5 2,.5 2.5-2 .5-2 -.5-2 -2.5-1zM192,219.5l-3,2.5 1,1 2,0 2-3 0-.5zM244,284l-.5,2 .5,1 1-1 .5-2z"/>
<path fill="#7d0a03" d="M278,347.5l4,0 4,2.5 1,6 -.5,8 1.5,8 10,18 6,4.5 1.5,5.5 2.5,4 2,1 6,1.5 2,2.5 1.5,5 4,6 0,2 -1,2 -3.5,4 7,6 -.5,2 -9.5,3 -8,4.5 -1,2.5 0,6 -7,2 -6,3 -2,.5 -4-2 -4-6.5 -2.5-13 -2-4 -1.5-.5 -10,2 -6,3.5 -4,0 -3-3 -1.5-4 -9-6 -.5-1.5 -6,0 -6-2 -4,1 -4.5,2.5 -1.5,2 0,2 2.5,4 0,2 -2.5,4.5 -2,1 -8,.5 -1.5,2 -.5,4 -2,4 -2,1.5 -8,0 -2,2 0,3 2,2.5 8,2 4-2 3.5,1 .5,2 -1,2 -5,4 -2.5,8 -1.5,2 -2,.5 -2-1 -6-5.5 -8,.5 -2,1.5 -1,2 2.5,6 0,4 -3.5,2.5 -4,1 -2.5-1.5 -2.5-6 -5-5.5 -.5-2.5 2.5-10 -2.5-12 .5-4 2-4 -.5-6 1-6 -.5-2 -6-8.5 -6-2 -1.5-1.5 -1-4 -5-8 .5-2 3-6 -.5-4 -6.5-6 -2.5-6 -.5-2 2.5-8 .5-4 0-18 -1-8 2-5 4.5-5 -12.5-1.5 -6-2 -3.5-2.5 -5.5-12 0-8 -1.5-4 -11.5-10.5 -2,0 -10,4 -4,2.5 -2.5,6 .5,6 -3,6 -5,2.5 -8,.5 -2,1 -4.5,18 0,10 -1.5,8 -2,1.5 -4,1.5 -6,3.5 4.5,28.5 5.5-4.5 8-4.5 8-3 1.5-1 2-6 2.5-4 6-6.5 6-3.5 6-2.5 2,0 2,1.5 6,15 0,12 1,8 -2,8 2.5,10 -1.5,10 3.5,22 4,8 8.5,8 1,2 1,12 -.5,8 3.5,4 0,2 -4,4 -11,5.5 -4,4.5 -4,1 -10,0 -1.5,1 -3.5,8 3,6 -.5,6 1,2 5.5,4 4,6 4,4 2,3.5 2,1 8-1 8,1.5 4-.5 .5,1.5 -4.5,8 0,2 2,6 0,4 -6.5,6 -2,4 .5,4 4,8 -.5,4 -5,4.5 1.5,5.5 32,6.5 -.5-12.5 -3-8 -4.5-6 -.5-2 2-4 4.5-3.5 3.5-6.5 1-2 -1-6 1-2 7.5-7 4,.5 2,.5 6,10 .5,6 1.5,2 6,4 8-1 4,.5 4-1.5 1.5-2 -2.5-6 1.5-4 2-2 3.5-1.5 4,1.5 3,4 0,2 -3.5,6 0,2 2.5,4.5 4,2 6-2.5 2-1.5 1.5-2.5 -.5-4 -5.5-4 -1.5-4 -.5-6 .5-2 2-2.5 2-.5 2,1.5 1.5,3.5 2.5,11 8,3 2,1.5 3.5,6.5 2.5,2 4,0 6-4 1.5,2 -.5,6 4.5,10 0,2 -1.5,1.5 -4,2 -2,2.5 -2,7 1,3 1,.5 2-1 8-9 2-1 4,0 3,2.5 1.5,2 -.5,1 -6.5,3 -.5,2 1,2.5 2,1.5 2-.5 2-1.5 2-6 2,.5 6,4.5 4,6 2,1.5 2,.5 4-2.5 2,0 5.5,5.5 .5,2 -2,1.5 -4,1 -4,4.5 -2,0 -4-.5 -2-1.5 -6-7 -2-1 -2,.5 -5,10.5 1,8 4,6 0,2 -1,2 -3,3 -2,.5 -4-.5 -4,1 -3,0 -1-.5 -4-5 -4-1.5 -4,.5 -6,3 -2-.5 -4-1.5 -1-2.5 3-6 2-7 2-1 8,1 6-2.5 2,0 6,4.5 5-1 2-2 -1.5-4 -1-8 -2.5-2.5 -7,.5 -2,2 -3,5.5 -2,.5 -2-1 -4-3 -8-.5 -10-9.5 -2-1.5 -2,.5 -2-2 -1-7 -1-2.5 -2-.5 -2,0 -6,4 -8.5,3 -2.5,4 1,2 -4,0 -4.5,2 -1.5,10 .5,5.5 53,38.5 0-2 -4-6 .5-2 2-2 4,5 2,1 0,2 -1.5,2 -1,3.5 21,15 15.5,3.5 -4-2.5 -6-1 -2-1.5 -5.5-13 0-4 1.5-1.5 4-2 4,.5 4,1.5 2,.5 1-1 4-8 1-6 4.5-4 2-4 3.5-3 2,0 6,1 2-1.5 2-6.5 2-1.5 4,2 4,5.5 6-2 2,.5 1,1.5 0,4 -3,4 -2,.5 -8-2 -1,1.5 .5,2 2.5,2.5 6,1 6,3.5 2,0 2.5-3 5.5-4.5 2-.5 6,2 10-4.5 2,0 6,5 2,1 4-2 6-5.5 2,0 2,1 1.5,2 .5,2 -3.5,6 -1,4 0,4 2.5,9 2,1 4-4 8,0 6-1 6,3 6-.5 2-1.5 2-8 -2-1.5 -4-1 -4-3 -8-3.5 -1.5-1 -.5-2 2-3 8-1 2-2 2-6 1.5,2 1,4 2.5,4 5,4 2-.5 1.5-1.5 2.5-10 -.5-4 -1.5-4 -5-6 -3-1.5 -12-.5 -3-2 -1-2 8.5-8 7.5-2.5 1.5-1.5 3.5-6 6-6 0-2 -1.5-2 -8-4 -.5-2 1.5-2 4.5-2 3,0 10,6.5 6-5 2-.5 .5-1 -2.5-2 -2-3.5 -.5-6.5 4-8 0-6 1-8 -.5-6 6-17 .5-3 -1-4 -5-4 -.5-2 -2.5-12 2.5-6 .5-4 -5-10 -.5-2 0-14 3.5-6 0-2 -2-4 0-4 3.5-6 2-6 -1.5-12 1-8 .5-20 -2-8 -4-6 -3-2 -11,.5 -8,5 -6,1 -2-.5 -4-6 -6-.5 -8-3.5 -4-3.5 -2-4.5 -6-8 -1-4 -3-24 -3-6 -3-2 -2,0 -8,.5 -14-1 -2-1.5 -12-15 -3-3 -7-3 -8-2 -6-4 -2,0 -4,4.5 -2,.5 -14,1 -8-3.5 -8,3 -6-2 -2,1 -9,14.5 -1.5,6 -1.5,1.5 -2,.5 -6-2.5 -2,0 -2,1.5 -1,3 .5,2 2.5,3 2,0 6-2 2,0 6,1.5 6,3.5 4,.5 2,1.5 1,2 0,2 -1,1 -4,0 -4-2 -2,.5 -10,4 -6,1.5 -1,3 1,1.5 2,1 10,.5 6-5 2,.5 6,6.5zM343,480l-5-.5 -2.5,.5 -3,2 -1.5,6 -3,4 -4,3 -6,1.5 -1.5,1.5 -.5,7 -2,1 -2-.5 -3-1.5 -1.5-2 1.5-6 -4.5-8 -.5-2 1-2 7-3.5 6-.5 1-6 7.5-12 5.5-3 6,.5 2-1.5 4-5.5 2-1 8,1 8.5-.5 1.5,1.5 1,4.5 2,2 9,1 6,4.5 4,0 1,.5 1,1 1,3 -1.5,10 2.5,4.5 0,3.5 -2,5.5 -2,2.5 0,4 -1,2 -5,2 -4,0 -4-2 -2.5-2 -2-2 0-2 4.5-6 4-1.5 6,.5 2.5-3 .5-2 -9-2.5 -4-4.5 -2-1.5 -2,.5 -6,2.5 -8-3.5 -1.5,1 1.5,4 -2,2.5 -4,0zM246,488.5l-1-2.5 1-2.5 6-1 4-2.5 1.5-2 -1.5-6 2-2 16,4.5 5.5,5.5 4.5,7 2,1 4-2.5 3,.5 1,2.5 -2,1.5 -4,.5 -2,1 -3.5,6.5 .5,8 2,8 -1.5,6 .5,4 -1.5,2 -2.5,1 -1.5-1 -2-4 -2.5-2 -4-.5 -4,1.5 -2-.5 -6-6.5 -4-7.5 -2-1.5 -4,0 -1.5,3 -.5,4.5 -.5,1.5 -1.5,.5 -6-2 -6-4.5 0-2 4-4 8-3 4-9zM322,580l4-3.5 6-8 3-2.5 1-2 -.5-4 -3.5-1 -6,4 -3-1 -1.5-2 -2-8 -5.5-5 -4-2 -7-11 1-2 10-2.5 3.5-1.5 2.5-5.5 2-1.5 2,.5 2,2.5 0,2 -3,4 0,8 -2,6 1,2.5 8,5 6,1 2,1.5 .5,4 3.5,1 8-1 2,2 .5,2 -5,8 0,6 -5.5,5.5 -1,2.5 1,6 -1.5,10 -4.5,.5 -10-4 -3,1.5 -5,7.5 -8,1.5 -4,2 -1-5 2.5-8 0-2 -2.5-6 0-6 1-2 4-1 8,4.5 3.5-1.5zM357,522l1.5,6 -1,2 -3.5-.5 -8-3.5 -3.5-6 -3.5-4 -.5-2 1-4 2.5-2 2,.5 2,2.5 2,6 6,2.5zM220,528.5l-8-1.5 -2-3 -.5-6 .5-2 4-2.5 2-.5 2,.5 2,6.5 2,3 6,0 1.5,1 .5,2 -2,5 -2,1zM250,451.5l-2.5-1.5 -2.5-6 -1-.5 -6,0 -3.5-1.5 0-4 2-4 3.5-1 7,1 1.5,4 1.5,2 2.5,2 1.5,3 0,3 -1.5,2zM407,472l1-4 2-2.5 4-2 4-1 3,1.5 5.5,10 -2.5,1 -6-2.5 -8,2.5 -2-1zM258,555l-12,4 -2,0 -.5-3 6.5-3.5 4-3 4-1 6-4.5 2,.5 .5,5.5 -2.5,5zM376,531l-7.5,7 -.5,4.5 -2.5-.5 -1.5-2 -1-6 1-1.5 4-1.5 3.5-3 1-2 -.5-6.5 2-.5 2,1 2,2 -.5,6zM247.5,528l-3.5,4 -2,1 -2-.5 -3.5-4.5 -.5-4 4-2 4-.5 2,.5 1.5,2zM270,537l-2,2 -2,1 -2-1.5 -1.5-4.5 1.5-6.5 2-.5 3,3 2,4zM224.5,540l1.5-4.5 2-1.5 8,4 -2,3 -4,1 -4-.5zM392,595l3.5,1 .5,2.5 -2,2.5 -4,.5 -2.5-1.5 -.5-2 1-2.5zM395,530l2-2 3,.5 2,2.5 -.5,3 -1.5,1.5 -2-.5zM212,619l-.5-3 2.5-2.5 4,.5 2,2 -1.5,2 -2.5,1 -2,.5zM379.5,570l1.5,2 -.5,2 -2.5,1 -3-1 -.5-2 1.5-1.5zM182,523l1,1 -.5,2 -2.5,1 -2-.5 0-3 2-1zM308,688l.5-10 -1-2 -7.5-2 -2.5,0 -3,2 -3,6 .5,1.5 2,.5 4,0 -.5,2zM98,527l0-3 -2-2 -4.5-.5zM74,475l4,1.5 4,4 2,.5 2-2 6-10 4-3.5 2-3.5 1.5-6 -1-12 -2.5-3.5 -4-2.5 -8-2.5 -2,1 -6,4.5 -2,.5 -8-4 -2,1 -1.5,2.5 4.5,20 5,13.5zM63,423l1-3 -1-3.5zM1038,720.5l-4,1.5 -1.5,2 -.5,4 -4.5,6 -2,8 -3,6 0,2 1.5,2 8,5 6,5 1,2 -1.5,4 3.5,14 11,13 2,.5 6-5.5 8.5-14 .5-8 -2-12 -5-4 0-2 1-4 0-2 -5-5 -1-9 -1-2 -2-.5 -4,2 -3-5.5 -3-2zM415.5,723.5l4.5-9.5 0-2 -8-2 -2,.5 -1.5,1.5 0,4zM209.5,336l4.5,.5 4-1 8-6 6-2 1-1.5 0-10 1-8 -5.5-10 -2.5-2 -2,0 -2,2 -3,8 -1,8 -2,.5 -6-3.5 -7.5,7 -.5,2 1.5,4 -.5,4 1,4 2,2.5zM208,322.5l2-.5 2,1 1,3 -1,2.5 -2,0 -3-2.5 -.5-2zM223.5,402l-.5,2 1,2 8,3.5 2,4.5 6,3 4,5 4-3 2-3 1-4 -.5-6 1-2 10.5-8 1.5-2 .5-2 -.5-2 -2-2 -9.5-6 -4-.5 -6,2.5 -3.5,4 -.5,12 -2,4 -2,.5 -6-4.5 -2-.5zM232,188l.5-4 3.5-6 0-2 -6-7.5 -13.5,1.5 -1.5,2 -1.5,4 -6.5,6 -.5,2 1,2 8,6 4.5,7 2,1.5 8,2.5 2-.5 2-2 1-2.5zM90,406.5l-12-2 -4,1.5 -1.5,2 -.5,2 4,12.5 2,1 4-.5 8-3 2-1.5 1-2.5 0-4 -1-3.5zM158,250.5l6,4 4,1 10.5-9.5 2-4 -1-4 -3.5-3 -4-.5 -5.5,5.5 -6.5,4 -2,4zM238,264.5l2,0 1.5-2.5 -2-8 1-6 0-2 -2.5-3 -4-1 -4,2.5 -2,2.5 -1,3 -.5,4 1.5,4 1.5,2 4.5,3zM207,278l1,2.5 2,1 2-.5 4-5 5.5-4 -1-2 -2.5-2.5 -4-.5 -4,.5 -2,2.5zM230,209l-4,1.5 -4,7.5 0,4 2,2 2,.5 2-.5 4.5-8 0-4zM72,296l8.5-6 1.5-2 0-2 -2-2.5 -1.5-.5 -3,8.5zM348.5,666l-.5-2 -4-5 -6-4 -.5,3 6,10 2.5,1 1.5-1zM262.5,366l-.5-2 -2-2 -2-.5 -2,.5 -1,2 1,3 8,6.5 2-1 .5-2.5zM255,422l-.5,6 1.5,.5 4-1 2.5-3.5 -1-2 -3.5-3 -2,0zM236,592l-6-5 -2,0 0,5 1.5,2 4.5,1.5 2-1zM310,663.5l-2,1 -2,3.5 0,3 2,2.5 2-1 1.5-4.5 0-2zM216,208.5l1-2.5 -3-2 -2,.5 -2,1.5 2,2.5zM254,274.5l2-.5 1-2 -1-2 -2,0 -2,2zM198,195l-2.5,1 -.5,2 1,1 3-1 .5-2zM189,450l-3-.5 -1,2.5 1,1 2-.5 1-.5zM97,500l-1-1 -2,1 2,1.5zM183,328l1,.5 .5-.5 0-2 -1,0zM271,644l1,1.5 2-1.5 -2-1z"/>
<path fill="#680402" d="M323,414l4.5,6 -3,8 4.5,6 .5,2 -1.5,2 -10,4 -3,2 -1,2 0,2 2,4 0,2 -2,2 -4,1 -6-1.5 -4,.5 -2.5,2 -2,4 -9.5-.5 -3.5-1.5 -.5-2 1-6 -3-12 -2-3.5 -2-1 -6,.5 -6,3 -6,1.5 -1,1.5 -1,6 -2,4 -2,2 -2,.5 -2,0 -2-2 -2-5 -2-1.5 -8-1 -3-1 0-6 -1-2 -2,1 -2,5 2,4 -1,6 .5,4 -.5,2 -5,2 -4,4 -1,8 -1,1.5 -4-1.5 -2,.5 -4,7.5 -4,2 -4-1 -7-5 -2.5,0 -.5,1 0,1 2,4 2,2 6,3.5 2.5,2.5 0,4 -2,2 -2.5,1 -2.5-1 -3.5-6 -2-1 -10,3 -4-1 -3-7 -5.5-8 .5-4 2-8 -.5-4 -2.5-6 0-4 2.5-18 -4.5-8 -7-2.5 -2-2.5 -5.5-13 .5-4 2.5-4 0-2 -7-8 -3-6 3-18 .5-14 -1.5-8 1.5-6 -1-2 -12-5 -3.5-3 -5.5-12 .5-6 -.5-4 -3-3.5 -8-6 -2-.5 -9.5,4 -1,2 -1.5,8 -5,8 -5,3 -8,2.5 -2.5,2.5 -3.5,12 .5,10 -2.5,12.5 -2,2 -6,1.5 -5.5,4 1,6 1.5,4 1,11 8-3.5 6-5.5 6.5-2 13.5-16.5 8-6.5 6-1 2,1 2,3 4.5,14 .5,4 0,10 1,6 -1.5,10 2.5,10 -1.5,12 4,20 4.5,8.5 6,4.5 3,3 1,4 0,15.5 5.5,6.5 .5,2 -7,6 -11,5 -6,5.5 -8,0 -4,1.5 -2.5,6 2.5,12 3.5,4 3,6 7.5,6.5 14,1.5 2,0 6-3.5 2,.5 1.5,3 -.5,2 -5.5,10 -.5,2 1.5,8 -.5,5.5 -6,3 -2,3.5 .5,4 3.5,6 1.5,4 -2,6 -1.5,2 -4.5,2 .5,2 29.5,6 1-8 -.5-4 -4-8 -3.5-6 -.5-2 2-4 4.5-4 3.5-6 0-10 5-6 0-2 -2-4 -.5-6 1-2 2.5-2 2-.5 2,.5 1.5,10 2,2 4.5,1.5 4,7.5 3,3 2,6 3,1 4-1 6,3 2-.5 -.5-4.5 .5-2 4-5 2-1.5 5-1.5 4-2 -3-6 -2-2 -4-2 -3.5-8 -2.5-2 -4-1 -2,1.5 -2,1.5 -4,5.5 -2.5-5.5 -3.5-3.5 -8,3 -4,.5 -1-2 0-4 1.5-2 3.5-2 8,1.5 4-2.5 2-.5 8,3.5 2,0 1.5-2 -.5-4 1.5-2 5.5-2.5 4-3 2-1 5,2.5 0,6 1,2.5 2,1 6,0 5.5-1.5 .5-2 -2-2 -4-2.5 -5.5-1.5 -.5-2 2-4.5 11-9.5 3.5-12 1.5-2 8-2.5 2-9.5 2-1.5 2,0 6,1.5 6,1 6,4 8,8 2,1 2,0 5.5-2 1.5-6 3-3 2-.5 2,.5 4,5 2-1.5 2-3.5 8-2 2-2.5 2.5-4.5 5.5-4 4-1.5 6-1 3.5-5.5 2.5-1.5 10,2.5 8-1 2,.5 2,1.5 2,5.5 2,1 10,0 2-2.5 2-.5 10,.5 -.5,2 -1.5,1 -2,3 1.5,8 -1.5,6 .5,2 2,4 .5,4 -2.5,8 0,6 -2.5,4 -4.5,2 -11.5-.5 -4-1.5 -4-4 -2.5-4 .5-3 10-7 1.5-2 -3.5-5 -2,0 -6,4 -4,0 -6,2 -4-.5 -6-2.5 -4-.5 -2,.5 -2,2 -1.5,6 -4.5,5 -7.5,5 -2,8 -2.5,1 -8-3 -3-2 -1.5-4 0-6 -2-2 -3.5-1 -8,3.5 -3,3.5 -1.5,6 1,14 1.5,3 6,1 1.5,2 1,4 1.5,1.5 12-2 4-1.5 6-8.5 2,0 4,1.5 2,3 1.5,4 -1,6 4.5,6 -1.5,6 1,2 9.5,4 4,3 7.5,3 1.5,2 0,6 -4,6 -1.5,8 -4,6 .5,6 -2,6 .5,4 -1,2 -1.5,.5 -4,0 -8-3 -4-.5 -2,1 -5,8 -1,1 -6,.5 -1,2.5 1,2 4,4 1,4 3,3 4,2.5 8.5,.5 3.5,2.5 1.5,3.5 -3,8 0,2 1.5,1.5 2-.5 6-4.5 6,2 4,0 8-5 2,0 2.5,.5 5.5,4.5 4-2 6-5 2-.5 6,3.5 4,.5 2-1 .5-4 1.5-1.5 6,4 4,.5 2-.5 3.5-6.5 .5-4 -1-2 -5-.5 -2-1.5 -3-6 0-4 3.5-6 -2-4 0-2 1.5-2 2-.5 10,2 2-.5 2-1.5 4-7.5 -.5-2 -5.5-1.5 -1.5-2.5 0-4 1.5-2.5 2-2 6-2 4-.5 8,5 2-1 .5-1 -.5-14 2.5-6 1.5-6 .5-4 -.5-8 2.5-8 -.5-6 1.5-4 3.5-4 0-2 -5-3.5 -1-2.5 .5-6 -3-10 3.5-5.5 .5-2.5 -1.5-4 -4.5-6 -.5-2 1-4 0-10 3-6 -1.5-6 0-4 1.5-3 4-5 1-4 -.5-4 -2-8 1.5-16 -1-12 -1-2 -4-3 -3.5-7 -2.5-1 -6,.5 -8,6 -8,1.5 -6,3.5 -2.5-.5 -2-2 6-4 0-2 -1-2 -14.5-7 -3-3 -7-11 -2.5-7 -2.5-24 -2-4 -2.5-2 -2.5-.5 -6,1.5 -10-.5 -8,4.5 -2-3 -2-8 -7-10 -5-4.5 -7-3.5 -7-.5 -6-1.5 -8,2.5 -14,0 -8-3 -8,3 -6,.5 -3.5,3 -2.5,6 0,4 1.5,4 0,4 .5,2 10,6.5 8,13.5 8,6 1,2 -1,6 2.5,6 -.5,2 -3,2 -.5,2 .5,4 3.5,10 5.5,7 7.5,5 2.5,6.5 10,4 1.5,3.5zM395,538l-1-3 -2-2.5 -2-.5 -10,2 -4,2 -2,2 .5,6 -2.5,4.5 -2,1.5 -2,0 -8-3.5 -2.5-2.5 .5-2 2-4 0-2 -1-2 -3-1.5 -6-1.5 -2-.5 -4,1.5 -2-1 -7-15 -.5-6 2.5-4 3-2.5 2-.5 2,.5 4.5,4.5 3,6 6.5,6 3.5,8 2.5,1 3.5-1 1-2 -.5-6 .5-2 1.5-2 2-.5 8,2.5 2-.5 4-3.5 2-.5 1.5,.5 2,2 .5,6 2,2 8,3 2,2.5 .5,2.5 -4,8 -.5,6 -3,6 -3,2.5 -4,1 -2,0 -2-5.5 -3.5-6 0-2 3.5-1.5 8,.5 1-1zM362,577l0-3 2-2 18-6.5 4-5 4,2 6,2 .5,1.5 -.5,1 -2,1 -6-.5 -2,1 -.5,1.5 1.5,4 5.5,6 3.5,5 4,.5 5.5-1.5 2.5,0 1.5,2 -.5,2 -3,4 -3.5,2 -1.5,8 -1.5,2 -5.5,2 -6,3.5 -8,.5 -.5-6 -1-4 4-4 2.5-6 -.5-2 -2.5-6 -2-3 -6-1.5 -6-2 -4,1.5zM434.5,480l4.5,8 -1,1 -6,1 -4-1 -1-1 0-6 -1-1 -10-4 -8,2 -3.5-1 -2-4 1-4 4.5-6.5 8-5 6-1.5 6,1.5 2,1.5 .5,8 2.5,6zM364,588l2,2 0,6 2.5,4 -.5,2 -2,2 -2,0 -2.5-2 -1-2 -1.5-8 1-2 2-1.5zM350.5,340l-4.5,1.5 -2-1.5 0-4 2-3.5 2-.5 2.5,2 1,4zM152,516l1,4 -1,3.5 -2-.5 -2-3 -.5-2 2.5-3zM155.5,526l2.5-1.5 1.5,1.5 -1.5,.5zM326,571l.5-3 -4.5-1.5 -2-2 -4-10.5 -2-2 -6.5-4 -5.5-8 -8.5-10 -5.5-2.5 -4,1.5 -7.5,5 -5,6 -1.5,3.5 -2.5,12.5 -1.5,3.5 -2.5,2.5 .5,2 4.5,4 1,4 -1,6 5.5,11 2,1.5 6,1 2,1.5 4.5,7 9.5,9.5 2,0 1-1.5 3.5-12 -2-6 -1-10 .5-2 14-2.5 8-2.5zM69,467l5,4.5 6,4 2,1 2.5-.5 4.5-8 5-4.5 2.5-3.5 1-4 0-8 -1-4 -1-2 -5.5-3.5 -6-1 -2,1 -9.5,9.5 -2.5,4 -4.5,2 1.5,7zM274,681l-5-9 -2-10 .5-4 -1.5-1 -2,1 -6,6 -1,2 .5,3.5 6.5,4.5 8.5,6.5zM233.5,616l-2,4 -1.5,7.5 -2,2 -2-1 0-4.5 -1.5-2 -2.5-1 -10,3 -3,2 -.5,2 0,2 1.5,1 15,1 0,4 -1,3.5 -2,1.5 -3.5,.5 13.5,9.5 4-1 2-2 -2-6 .5-2 4-4 2-6 -.5-4 -3.5-8 -2.5-2.5zM252.5,398l7-4 1-2 -1-2 -7.5-5.5 -4,0 -4,2 -3,3.5 -1,8 .5,8 -2.5,4 1,2 5,2.5 .5-.5 -1-6 1-2zM226,185l-1.5-3 0-4 -2.5-3 -2-1 -2,.5 -7.5,7.5 -.5,2 1.5,2 4.5,3 4,7 2,2 4,1.5 4,0 1.5-1.5 0-2 -3-8zM1053.5,762l-2,4 -7.5,4 -.5,2 2,4 1.5,2 5,3 2,.5 2-.5 4-2.5 2.5-2.5 1.5-4 -3-10 -1-1.5 -2-1 -2,.5zM252,546.5l6-1.5 2.5-3 0-2 -3-6 1-8 -.5-2 -2,.5 -1.5,5.5 -4.5,4 -.5,6 -1.5,3 -2,1.5 -6,.5 -1.5,1 -.5,2 2,4 2,0 6-2zM229.5,306l-3.5-2.5 -2,0 -2,2.5 0,10 -1,2 -3.5,2 -1,2 1.5,8 2,0 2-1.5 3.5-8.5 4.5-4.5 1.5-5.5zM91,412l-3-3 -10-.5 -2,1.5 -.5,2 1,6 1.5,2 2,1 7.5-1 3-2 1-2zM388.5,656l11.5,5 2.5-1 6-4 -1-2 -3-2 -4.5-2 -2,0 -4,2 -4,0 -2,2zM220.5,446l-2.5-2.5 -4,0 -2,2.5 -1,4 -.5,4 5.5,2.5 2,0 2-1.5 1.5-3zM284,634.5l2,3 2,1.5 2-.5 6-6.5 -1.5-2 -6.5-5 -2.5,1 -1.5,5.5zM162,247.5l1.5,2.5 2.5,1.5 2,0 4-2.5 3-3 1-2 -.5-2 -3.5-2 -2,.5 -5.5,3.5 -2,2zM212,608l4,2.5 4,.5 1.5-1 1-2 0-8 -10.5,3 -2,1zM258,571l4-7 -.5-2 -3.5-2.5 -2,0 -2,.5 -2.5,2 -.5,2 1,4 2,3 2,.5zM424,628.5l-2,1.5 -1,4 2,4 1,1 2,.5 3-3.5 .5-4 -1.5-2.5 -2-1zM232,258.5l4,1.5 1-2 -1-8.5 -2-1 -3.5,1.5 -1,2 .5,4zM1046,755.5l1.5-1.5 -.5-4 -1-3.5 -2-2 -.5,1.5 -4.5,4 -.5,2 1.5,2 2,1zM200,618l0,2.5 1.5,1.5 2.5,.5 2-1 1-1.5 1-4 -1-2 -3,0 -2,1zM226,571l3-1 2-2 -1-2.5 -4-2 -2,1 -1.5,3.5 1.5,2.5zM1037,738l7,6 2-1.5 0-2.5 -1.5-2 -2.5-1 -4-.5zM264.5,620l1.5,2 4,1 2-2.5 0-2.5 -2-2 -2,0 -3,2zM286,648.5l-3.5,3.5 -.5,2 2,1.5 2-1 2-4 0-1zM232,425l-2.5,1 1.5,2 3,1 3-1 -.5-2zM254,650l2,1 1.5-1 0-2 -1.5-.5 -1,.5z"/>
<path fill="#500000" d="M302,385l7,5 5,6 4,1 4-2.5 2,0 2.5,1.5 .5,2 -2,10 0,4 4.5,6 .5,2 -2.5,6 0,2 5.5,8 .5,4 -2,2 -5.5,2.5 -4-.5 -3.5,2 0,2 2.5,4 0,4 1,1 12-4.5 4-6 6-1.5 10,4 8-.5 4,.5 3,3 1,3 2,1 2-1 2-3.5 12,.5 8-1 2,2 1,5 -1,2 -3.5,2 -1.5,2 1,4.5 2,2 4-2 8-9.5 10-5 4-6 7,4 3,3.5 2,4.5 0,6.5 2,4 2,.5 2-3 1.5-12 1-4 .5-10 2-4 4.5-6 .5-4 -2-5.5 -2-2.5 -4-2.5 -5.5-1.5 -5-6 -1.5-2 0-2 2-2 4-1.5 10,.5 1.5-3 -1-4 -1.5-2 -5-2.5 -4-4.5 -2-.5 -10,7.5 -2-.5 -4-3 -2,0 -6,1.5 -2-.5 -5-3.5 -1.5-2 -.5-2 1-1.5 4.5-2.5 -1-2 -11.5-7 -9-13 -3-8.5 -2-21.5 -1.5-4 -2.5-2 -2-.5 -8,1.5 -4-.5 -4,1 -4.5,4.5 -.5,2 1.5,6 -1,4 -7.5,5.5 -4,1.5 -5.5-3 -1-2 4.5-4 2-4 2.5-12 0-6 -1.5-4 -4-6 -7-6 -4-2 -4-.5 -12,0 -8,1 -12-1 -8-2.5 -8,4 -6,1.5 -2,3.5 0,4 4,12 6,5.5 10.5,14.5 8.5,6 .5,2 -1,6 1,8 -.5,2 -3,4 0,2 3,10zM326,384l-.5-4 .5-1.5 2-1 2,6.5 -2,2zM341.5,356l.5-1.5 1.5,1.5 -1.5,2.5zM71,380l3-5.5 8-2 2-1.5 18-20.5 2-1 6-.5 3,1 1,1.5 2,4.5 1.5,8 2.5,8 0,12 1,6 -1.5,10 3,12 -.5,16 3,14 5,7.5 6,4.5 4,6 1,16 9,10 8,5 2,3 2,10 -4.5,8 -.5,2 0,2 1,1 6,1 6,3.5 2,.5 8-4 6.5,0 5.5-4.5 8.5-3.5 3-2 -.5-8 -1-1.5 -4,1.5 -4,0 -2.5-2 -3.5-5.5 -2-.5 -6,3 -4-.5 -4-1.5 -2-3 -1.5-6 -4-6 -1-4 2.5-8 .5-4 -3.5-8 -1-6 2.5-12 0-4 -2.5-5.5 -2-1 -4-1 -4.5-6.5 -4.5-12 1-10 -5.5-8 -3-6 1.5-8 -.5-6 2-6 1-10 -.5-4 -2-6 0-4 -1-2 -8-5 -4-4 -6.5-13 0-8 -.5-2 -2-2 -7-4 -4-.5 -4,1.5 -1.5,3 -.5,4 -1.5,2 -6.5,9 -4,3 -8,2.5 -3,3.5 -3,12 1,10 -1.5,4 -2,8 -1.5,3 -3,3 -5,10 0,2 0,2 2,2 2,0zM395.5,578l2.5,2.5 2,1 8,0 6,1 4-6.5 4-4 10-2.5 6,2.5 1.5-2 -.5-8 3-8 1.5-8 -1.5-3.5 -4-5 -.5-3.5 .5-2 4,0 2-2 -1-6 2-8 -1.5-6 1.5-6 0-4 -3-5 -2-1.5 -6,0 -9-1.5 -1.5-2 -1.5-4 -8-5 -4,.5 -8,2.5 -3.5-2 -.5-1 -5,11 -1,10 -4,6 .5,2 4.5,4 3,7.5 8,3.5 3,3 -.5,4 -3,8 -1,8 -2.5,6.5 -2.5,3.5 2.5,6 -.5,4 -1.5,3 -4,3zM403,514l0-4 1-2.5 2-1.5 2,.5 1.5,1.5 1.5,8 .5,8 -.5,2 -1.5,0 -5-8zM374,638l10-6.5 6.5,2.5 2-4 3.5-2 6,1.5 4,3.5 2,0 2-2.5 0-1 -1.5-1.5 -4.5-1 -.5-1 -1.5-6 -4-9.5 -2-.5 -4,3.5 -6-.5 -6,1 -2,0 -1.5-2 -.5-2 0-4.5 -2-2 -2.5,.5 -3.5,6 -4,1 -6-6 -3-7 -3-3 -2-.5 -2,1.5 -.5,6 -1.5,2.5 -2,.5 -6-1 -10-3 -2,.5 -2,2 -4.5,10.5 .5,6 2,3 4,1.5 10.5,1.5 6,6 4,6 3.5,2.5 4,0 6-5 2-1 4,.5 6,3zM351.5,616l-3.5,5 -2,1.5 -.5-.5 .5-5 2-3.5 2-.5 1,1zM159.5,605.5l1.5-7.5 -.5-4 -3-6 -4-6 -1-4 1.5-4 6-6 1.5-2 1-4 -.5-8 2.5-6 -.5-2 -2-2 1.5-6 -.5-4 -1-1 -2-1 -6,0 -4.5,2 0,8 -4,6 -2,4 1,12 1.5,6 -.5,2 -1.5,.5 -4-1 -2,.5 -1.5,2 0,4 5.5,8 -2,8 -3.5,7zM298.5,586l-.5-3.5 -4-4.5 -.5-2 .5-2 2-2 2-.5 6.5,2.5 5.5,0 6-2 2-2 0-2 -2-4 -2-.5 -6,1.5 -2,.5 -2-1 0-2.5 4.5-6 0-2 -5-6 -5.5-8 -2-1 -6-1 .5-4 -.5-1.5 -2-1.5 -2,0 -10,10 -4,6 -2,5 -1.5,10 7.5,23 2,2 6,.5 4,2.5 1,2 1,5.5 1.5,2.5 2.5,2.5 4,1.5 2.5-6 0-2 -2.5-6zM218,484l-6-5.5 -2,1 -4.5,4.5 -1.5,2 -.5,2 0,10 8.5-2.5 6-3 6,1 6-3.5 6-2 2-2 2-6 2.5-2 5.5-2 2-2 2-10.5 12-1 8,.5 4-1.5 2-3.5 2-6 -.5-8 -1.5-3.5 -2-1.5 -4-.5 -12,4.5 -4.5,11 -5.5,5.5 -2,.5 -2.5-2 -3-8 -2-2 -4.5-.5 -4,1 -1.5,3.5 .5,2 5.5,4 1,2 -.5,2 -3,1.5 -8-1 -3.5,1.5 -1.5,2 -1.5,16zM142,520.5l-4,.5 -1.5-1 1.5-4 4-4 2.5-4 9-4 1-2 -1-2 -3.5-3.5 -4-.5 -6,1.5 -8,0 -4,1.5 -8,5.5 -8,0 -2.5,1.5 -1,2 0,6 6.5,16 3,3 6,4 12,.5 11-5.5 0-4 -1-4 -2-2.5zM358.5,516l5,6 .5,2 .5-6 3.5-4.5 2-1 2,0 4,2.5 4,0 2-1 2-4 -4-2 -4-.5 -4,1.5 -2-.5 -2-1.5 -11.5-11 .5-6 -1-2 -10-2 -6-2.5 -3,.5 -1,2 0,6 -4,2.5 -4,5 -4,2 -1.5,2.5 0,6 1.5,3.5 4,2.5 1.5-2 -.5-4 1-3.5 4.5-6.5 2.5-8 3,0 4,1.5 3,2.5 1,2 1,6 3,3 5,3zM86,439l-4,1.5 -2.5,3.5 -3.5,8 -9,7.5 9,10 6,3.5 2-1.5 3.5-5.5 6.5-5 2-5 0-8 -2-5.5 -4-3zM287.5,510l2,8 2.5,1 4,0 2.5,1 1.5,4.5 2,1.5 8-2 4-4 2-4 -1-4 -3-2.5 -7.5-3.5 -6.5-9 -2-1 -4,1.5 -2.5,2.5 -2,4zM204,555l8-9 -1-2 -3-3 -2-1 -6,2.5 -10-1.5 -3,1 -1,2 .5,4 1.5,2 8,2 2,2.5 2,1zM364,565.5l4-2.5 6,2 4-1 2-2 3-8 -.5-2 -1-2 -3.5-1.5 -8,6.5 -10,3.5 -1,1.5 .5,4 2.5,2zM346,548.5l4,3 2,0 2-1 1-2.5 -.5-6 2.5-4 0-2 -1-1 -2-1 -3.5,0 -6.5,7.5 -2,.5 -4-1 -.5,1 .5,1.5 4,1zM278.5,468l-.5,2 1.5,4 2.5,2.5 4,1 4-2 3.5-5.5 0-2 -1.5-1.5 -6-2 -4,.5zM246,388l-2,2 -1,4 -.5,4 1.5,2.5 2-1 9.5-7.5 -.5-2 -3-2.5 -2-.5zM88,411.5l-4-.5 -4.5,1 -1.5,2 1,4 3,2 6-1.5 1.5-2.5 0-2zM354,573l-1,5 -4,6 1,3.5 2,.5 4-1.5 1.5-2.5 -1-4 0-6 -.5-2zM226,190l-4-2 -2,2 1,4 3,2.5 4-.5 0-2zM444,485l2-1 0-2 -1.5-2 -4.5-2.5 -2,.5 0,2 1.5,2 2.5,2.5zM376,594.5l2.5-.5 1.5-2 0-2 -1.5-2 -2.5-1 -2,2 -.5,3zM416,594.5l1.5-.5 0-2 -3.5-5 -2.5,5 0,2zM304,459l-2,1 4,3.5 3.5,.5 2-2zM372,585l1.5-1 -.5-2 -3-1.5 -2,0 -2.5,1.5 1,2 1.5,.5zM234,632l.5,2 1.5,.5 2-.5 1-2 -1-3.5 -2-.5zM218,450l-2-2.5 -2,1 0,3.5 2,1 1.5-1zM218,180l-2.5,2 .5,2 2,1 2-3zM261.5,668l.5,1 2,.5 1-1.5 -1-2.5 -2,0zM397,480l-1-2.5 -1,.5 1,2.5z"/>
<path fill="#623a32" d="M287.5,334l2.5,4 2.5,2 5.5,3 2.5,3 0,4 -1.5,6 .5,8 -2.5,8 2.5,8 8.5,7 6,3 4-1 2-1 1.5-4 -.5-6 .5-2 6.5-3 4-3.5 2-.5 .5,3 -1.5,24 -3,6 -1.5,8 3.5,8 -2,10 10,12.5 6,2 10,5 8-.5 6,1 6-1 6,2 4,0 4-1 6-3 2,.5 2,2 2,8 2,1.5 10.5-5 .5-2 -3-5 -1.5-1 0-2 5-4 2.5-.5 4,2 4,5 2,1 4,0 2,1 1.5,1.5 .5,6 2,1.5 1-7.5 3.5-8 2-4 3.5-3.5 1-2.5 -.5-4 -2.5-2.5 -13.5-5.5 -2.5-2 -12-16 -4-3 -6-2 -7-7 -2-4 2-6 -7-4.5 -11-15.5 -2.5-10 -1.5-18 -1-3.5 -2-2.5 -4-.5 -4,1 -6,0 -2.5,1.5 -3,4 1,6 -1,4 -6.5,6 -1,2 -1,8 -5.5,8 -4.5,1 -2-.5 -2.5-6.5 3.5-6 .5-2 -1-2 -2.5-1.5 -6-.5 -2.5-2 .5-2 2-2 8-2.5 3-3.5 3.5-16 -1-6 -3.5-5.5 -4-3.5 -6-3 -8-.5 -18,1 -10-1.5 -8-3 -2,1 -9.5,7 -1.5,4 1,4 3,6 3,3.5 4,7zM402.5,442l4,0 .5,2 -3.5,0zM80.5,332l-2.5,8 3,8 -4,6 -2,10 .5,2 1.5,2 3,1.5 2,0 4-2.5 16-20 2-1 8,1 2,.5 1.5,2.5 2,6 1,8 2.5,8 0,10 1,8 -1,10 2.5,12 0,18 4,12 2.5,4 6,4.5 6.5,9.5 2,6 4,4 1,4 -1,4 .5,2 3,3.5 8,5 3,3.5 1,4.5 3.5,5.5 0,2 -4.5,6 -.5,2 1,2 4.5,3 4,1.5 4-.5 4-2 1.5-2 1.5-10 -3.5-4 -10.5-6 -1.5-2 -1.5-8 -4-8 2.5-12 -4-10 -1.5-6 .5-6 1.5-8 0-4 -1.5-2 -3.5-1 -2-1.5 -6-9.5 -3-10 .5-10 -6.5-10 -1.5-4 1-14 3.5-16 -.5-4 -5.5-8 -3-6 -6-6 -5-8.5 -5-9.5 1-4 -2-1 -2,0 -4-2.5 -2-.5 -1.5,2 0,2 -6.5,5.5 -6,8 -10,4 -2,1.5 -1.5,3zM400,514l1-6 3-5.5 2-.5 8,.5 2,1.5 0,2 -3,4 0,2 1,6.5 3,7.5 -1,6 -2,2.5 -6,1.5 -2,3 -1,7 -2,6 -.5,14 -3,10 .5,2 2,1 8,.5 4-2 4-5.5 7.5-6 8.5-1.5 5-8.5 0-10 -7-18 .5-2 5.5-5 1.5-3 1-10 2-6 -.5-2 -2-2 -4,1.5 -2,0 -4-3 -14-2.5 -.5-6 -3.5-3.5 -2-.5 -12,3.5 -2,2 -1,2.5 -.5,10 -3,6 1,2 3.5,4 2,5 2,.5 1-1.5zM157,605l2-9 -3-7.5 -8-10.5 -8-3 -1,1 0,2 4,4 1,4 -4.5,15.5zM273.5,570l4.5,12 2,2 10,2.5 2-.5 1.5-2 -2-6 0-6 1-2 5.5-3.5 2-2.5 3.5-10 -5.5-10 -2-2 -8,1.5 -6-.5 -6,3.5 -3.5,3.5 -1,4 0,8zM119,532l7,3.5 6,.5 6-1 4-2.5 2-2 .5-2.5 -.5-2 -2-2 -6,1 -2-1 -1-2 -.5-2 1.5-3.5 5.5-6.5 1-2 .5-4 -1-1.5 -4-1.5 -4,.5 -4,1 -6,4 -2,.5 -6-.5 -2.5,1.5 -.5,4 2.5,6 2.5,10zM346,630l1.5,6 2.5,2.5 2,.5 2-1 3.5-6 2.5-1 4,.5 8,3 2-.5 4-2.5 3.5-3.5 4.5-6 1-4 -1-1 -2-1 -4,1.5 -4-.5 -4-3.5 -2,.5 -2,2 -.5,6 -1.5,2.5 -2,1.5 -2,.5 -2-.5 -4-5 -2-.5 -4.5,3.5 -3,4zM86,464l7-4 1-2 1-6 -.5-4 -1.5-4 -3-3 -4-.5 -2,.5 -2.5,3 -1.5,4 -1,6 -5,4 -.5,2 2.5,4.5 4,2.5 2,0zM230,485l6.5-7 9.5-3.5 2-1.5 1-3 0-2 -3-3.5 -4-1 -6,2.5 -8.5,0 -2.5,2 -1.5,16 .5,1.5 2,1.5zM343,618l1-6 -1-4 -11-4.5 -4-.5 -1.5,1 -4,10 0,4 1.5,3 4,1.5 10,1 2-.5zM150,575l8-7 2-4 -.5-14 -5.5-6.5 -2,.5 -4,3.5 -2.5,4.5 .5,12zM275.5,458l1.5-4 .5-4 0-4 -1.5-3 -2-1 -2,.5 -8,2 -3,1.5 -2,6 0,4 1,1 10,3.5 4-1zM308,519l2-.5 2.5-2.5 .5-2 -1-2 -2.5-2 -5.5-2 -6-7 -4-.5 -2,.5 -2,3 -1,4 1,5 2,3 10,.5zM431.5,400l2.5,0 3-2 -.5-2 -2.5-3 -2-.5 -2,1 -1.5,2.5 0,2zM281.5,472l2,2 2.5,0 2.5-2 1-2 -1.5-2 -4-.5 -2.5,2.5zM208,491l2,1 3.5-2 .5-2 -2-3 -2-.5 -2,2 -.5,1.5zM188,502l-.5,2 4.5,3.5 2,.5 4-2 -1.5-2zM82,418l4,0 2-2 -.5-2 -1.5-1 -4,.5 -1.5,2.5zM350,493.5l2-.5 1-1 -.5-2 -2.5-1 -4,1zM239,454l1-2 -2-2 -2,0 -1.5,2 1.5,2zM154,540.5l2-.5 1.5-2 -1.5-2 -2.5,2zM348,544l2,2.5 .5-.5 -.5-4zM378.5,510l-1.5,0 -1,2 2,.5 2-.5zM358,503l-.5,1 2.5,2 .5-2z"/>
<path fill="#775047" d="M356.5,344l-4.5,4 -2,8 -4.5,8 -6,4 -2.5,4 -1,24 -3.5,10 1.5,12 -2,8 1,4 9,8.5 12,6 4,1 12,0 6-1.5 6,2.5 4,0 2-1 8-7.5 10-5.5 2,1 6,0 6,1.5 3,1 5,6 10,1.5 2-2 4-7.5 3.5-4 0-2 -1.5-2 -18-7.5 -10-15 -4-3 -6-2 -2-1.5 -7-9 -2-4 -.5-4 -1-2 -11.5-15 -2.5-5 -2-10 -1.5-16.5 -2-4.5 -2-1.5 -2,0 -10.5,2.5 -1.5,2 -.5,8zM84,325.5l-1,2.5 0,6 -2.5,6 4.5,10 -.5,2 -4.5,2.5 -1,1.5 -1.5,4 0,4 2.5,3 2,.5 4-2 6-9 4.5-4.5 3.5-6 4-3.5 4,0 6,3 2,1.5 3.5,9 1,8 1.5,6 0,12 1,8 -1,10 3.5,14 .5,8 -1,6 .5,4 4.5,10.5 8,5.5 4,8 7,6 6,18 4.5,4 2.5,.5 0-2 -3-4.5 0-2 3-8 0-4 -3.5-6 -3.5-10 0-8 2-8 -11-14.5 -2.5-11.5 -.5-10 -5.5-10 -1.5-4 .5-12 1-12 2-6 -.5-4 -6-6 -2-8 -5.5-6 -7.5-12 -2-1.5 -6-2.5 -4-1 -4,1 -2,2 -4,6.5 -9.5,3.5zM274.5,312l6,8 3,8 5,4 4.5,6 7,3 2,3 1,6 -2,8 .5,8 -1.5,6 1.5,6 8.5,8 4,1 2-.5 2.5-2.5 -.5-8 .5-2 9.5-3.5 2.5-4.5 -1.5-8 .5-6 -1-2 -5.5-4 -.5-2 2.5-8 1-4.5 2,1 1,1.5 3,1.5 2-1 2-2 5-14.5 -.5-4 -1-4 -3.5-4 -6-3 -10-1.5 -18,1 -12-2.5 -6-2 -3,2 -6.5,8zM410,541l-2,2.5 -3,8.5 2.5,8 -3.5,8.5 -1,5.5 .5,2 2.5,1 6-1 6-8 5-4 3-1 6-.5 2-1.5 3-5 -2-12 -3-10 -4-5.5 -2-1 -2,2 -1,2.5 1,4 -1,2 -5,0zM154.5,604l2-8 -.5-4 -4-6 -2-1.5 -2,.5 -3.5,7 -2.5,10zM273.5,564l1,6 5.5,10 2,2 2,.5 4-.5 2-12.5 2-3.5 4-2 2-3 -.5-11 -1.5-4 -2-1.5 -10,1 -4,1.5 -4,2.5 -2,2 -1,2.5zM116,510l-.5,2 2,14 .5,2 2,2.5 6,3 4,.5 8-1.5 3.5-2.5 .5-2 -2-1 -6,.5 -2-1.5 -2-4 1.5-6 4.5-4.5 2-3.5 -.5-2 -1.5-1.5 -4-.5 -10,5.5zM417.5,518l2.5,2.5 6,3 2,0 4-2 3.5-3.5 2-4 .5-4 -1.5-4 -6.5-4 -8-2 -1.5,2 0,6 -4.5,5zM328,620.5l8,.5 2-.5 2-1.5 2-5 -1-4 -1-1.5 -8-3.5 -2,0 -2,1.5 -3,5.5 -1,4 1,2zM147.5,564l2.5,5.5 2,1 3.5-2.5 2-4 -1.5-12.5 -2-3 -2-1 -2,.5 -2.5,4zM82,452l2,6 1.5,2 4.5,0 2-1 1.5-3 0-6 -2-6 -3.5-2 -2,0 -2,1.5 -2,4.5zM397.5,492l.5,13.5 .5-3.5 3-2 9-2 .5-6 -1-4 -2-.5 -9,2.5zM264,456l6,2.5 2,0 2-1.5 1.5-5 -1.5-4.5 -2-1 -4-.5 -4,1 -1.5,1 -1.5,4 .5,2zM166.5,510l0,2 1.5,2 4,2 4-1 1.5-1 1-2 .5-6 -.5-2 -2.5-2 -2,.5zM292,511.5l2,2 2,0 11.5-1.5 -3.5,0 -4-6.5 -4-3 -2,.5 -2,1 -1,2zM231,470l1,3 4,1.5 8-1.5 2-1 1-2 -1-2.5 -2-1 -2,0zM372,624l-2.5,4 .5,1 2,1 4-2 1.5-4 -3.5-1zM350,629.5l0,3.5 2,0 2-5 0-1.5 -2-.5z"/>
<path fill="#8a645b" d="M358,345l-4.5,5 -2,6 -5.5,9.5 -5.5,4.5 -1,2 -1,6 0,18 -3,10 .5,10 -3,10 2,4 9,7 14,6.5 10-.5 10-1.5 6,2.5 2-.5 8-7.5 8-6 4-2 21.5,6 1.5,4 3,2 4,1 2-.5 2-3.5 0-4.5 -8,1 -1-1.5 5-4 1-2 -1-2 -3.5-2 -4.5,0 -2-.5 -2-5.5 -4-4.5 -4-7.5 -4-2.5 -6-.5 -2-2 -15-27 -8-10 -1.5-4 -1.5-10 0-10 -2-8 -2-2 -2-.5 -4,.5 -4,2 -1.5,2 -1.5,8zM87,326l-1.5,2 -.5,6 -1,6 0,2 5,12 1,.5 4-2.5 2-2 4-7.5 4-3.5 4,0 2,.5 7.5,6.5 2.5,7 3,5 -1,6 2,24 -1,12 4.5,14 -.5,18 4,8 8.5,6 2.5,6 2,3 6,3.5 2,.5 1.5-1 1-2 -2-8 .5-16 -3-6.5 -6-7.5 -2.5-10 -1-12 -5.5-12 -.5-8 1-12 -.5-6 1-8 -5.5-8 -1.5-8 -13-16 -10-4.5 -3.5,.5 -1.5,2 -1,4 1,4 -3,1 -6-.5zM282,318.5l2,6.5 2,3 5.5,4 2.5,4 6,2.5 3.5,3.5 1.5,4 .5,4 -3,10 1,16 6.5,7.5 2,.5 2,0 1.5-2 -1.5-16 2-6.5 2-1 2,.5 2,1 1.5,2 -2,4 -.5,2 1,1 2,1 2-1 2-3 -3.5-6 1.5-4 -.5-4 -7-6 .5-2 2.5-6 0-10 .5-1.5 2-.5 8,2 2-1.5 5-8.5 0-4 -1-4 -2-2.5 -4-2.5 -8,1 -6-2 -6,0 -8,1.5 -8-3 -8-.5 -4-1.5 -6,6 -1.5,3.5 .5,2zM152,604l0-4 2.5-6 -2-4 -2.5-2 -2,1.5 -1.5,2.5 -2,10.5zM408,554.5l5,5.5 5,2 14-2 2-2 1-2 0-2 -3-6 -.5-4 -1.5-2.5 -2-.5 -10,1 -4,3.5 -4,2 -2,2.5 -.5,2zM275,564l1,6 6,8.5 2,1 2-1 3.5-14.5 -1.5-8 1-2 3.5-4 -.5-1.5 -8-.5 -4,1.5 -4,2.5 -1.5,4zM119.5,516l0,10 .5,2 2,2 4,1.5 4,0 1.5-1.5 -4-6 -1-4 2-6 5.5-4 .5-2 -.5-1 -2,0 -2,1 -2,2.5 -7.5,3.5zM332,619.5l4-.5 2-1 1.5-4 -1.5-4.5 -2.5-1.5 -3.5-.5 -2,.5 -2,2 -2,4 .5,2 1,2zM424,516.5l4,2 2,0 2-1 2-2 1.5-3.5 -1-4 -2.5-2 -2,0 -2,.5 -3.5,5.5 -1,2zM85,454l3,4 2,0 2-3 0-7 -2-3 -2-1 -2,.5 -2,3 0,2.5zM80,364l2,1 2,0 2-1.5 2-3.5 0-4 -4,0 -3,2 -1.5,2zM268.5,456l3.5-.5 1-3.5 -1-2 -2-1 -4-.5 -2,1.5 -.5,2 1.5,2zM153.5,468l2.5,4 2-.5 1-1.5 1-4 -2-3 -2-.5 -2,2.5zM150,566l2,1.5 2-1 1-2.5 -1-3.5 -2-2 -2,1.5 -.5,2zM294,510l2,1 3-1 0-2 -1-2 -2-1 -2,.5 -.5,2.5zM408,572l2,.5 2-2.5 -2-1.5 -2.5,1.5zM403,492l-1,2 2,1 2-.5 0-2.5z"/>
<path fill="#a07b72" d="M362.5,340l-3,6 -4.5,6 -2.5,6 -4.5,7.5 -6,6 -1,2.5 0,6 3.5,14 -6,12 -.5,10 -3,8 .5,4 10.5,8 12,5 4,1 16-3.5 8-.5 16-11 4-1.5 4,0 8,3.5 4-.5 1-.5 0-2 -1.5-8 -3.5-4 -2.5-8 -3.5-2.5 -8,1 -2.5-.5 -1.5-2 -.5-6 -1-4 -8.5-13.5 -2.5-6.5 -9-10 -1-4 -.5-20 -1-4.5 -2-3 -4-1 -4,1.5 -2,3zM103,328l-3,0 -8-1.5 -3.5,1.5 -1.5,4 -.5,8 1,4 2.5,5.5 2,1 3-2.5 5-10 2-2 2-.5 4,0 4,2 7,6.5 3,8 4.5,4 .5,2 -3,8 0,14 1,8 -.5,10 1,8 4,8 -.5,18 3,6.5 8,4.5 6,7.5 2,0 2.5-6.5 0-12 -2.5-6 -4.5-4 -4-10 -1.5-10 0-8 -5-10 -.5-8 1-12 -1.5-6 .5-8 -.5-2 -4.5-6 -1-8 -6.5-8.5 -4-3 -2-1 -4,1zM280,307l-1.5,3 .5,2 5,6 3,8 6,4 3.5,4 7,4 4.5,5.5 2,1 6-2.5 2-2 1-2 0-4 -1.5-6 1-4 3.5-1.5 8,0 2-.5 4-3 1.5-3 0-4 -1-2 -2.5-2.5 -2-.5 -8,1.5 -6,.5 -2,1 0,8 -2,2 -2,0 -2-2 0-4 1-4 -3-2 -6-.5 -4-2.5 -4-1.5 -10,1.5zM276.5,556l0,10 1,4 4.5,5 2,.5 2-3 1.5-6.5 0-4 -3.5-10.5 -4,.5 -2.5,2zM415,554l4.5,4 2.5,.5 8,0 2.5-2.5 -.5-3 -4-7 -4-1.5 -4,.5 -2,1 -3,4 -.5,2zM305,360l1,14 2,2.5 2,1 1.5-5.5 -.5-6 .5-6 -1.5-4 -2,0 -2,1.5zM328.5,616l3.5,2 2-.5 2.5-1.5 .5-4 -2.5-2 -2.5-.5 -3,2.5 -1,2zM88,454l2,0 .5-2 -.5-3.5 -2-1.5 -1,1 -.5,2zM430,513l2-1 -1-2 -1,0 -1,2z"/>
<path fill="#b59086" d="M366,334l-6,15.5 -4,4.5 -1.5,4 -3.5,6 -7,8 -.5,2 0,4 2,6 1.5,10 -2,10 -4,6 -5,16 2,3 8,5 16,5.5 4,0 14-4.5 8-1 6.5-4 7.5-5.5 7-2.5 1.5-2 4-10 -.5-2 -2-2 -4,0 -6,2.5 -2.5-.5 -3.5-3 -1-3 2-6 -.5-4 -8.5-11 -2.5-9 -7.5-6 -2-3 0-23 -1.5-6 -2.5-2.5 -4,.5zM374,405.5l1.5,2.5 0,2 -1.5,2.5 -4,.5 -4.5-1 -.5-2 .5-2 2.5-3 2-1zM126,366l0,14 1.5,6 -2,8 .5,6 2,8 3.5,4 .5,2 -1.5,6 1.5,14 2.5,4 7.5,3 4,3 2-2 0-10 -2-4 -4-3.5 -2-6.5 -4-6 -.5-10 .5-8 -5-8 -.5-10 1.5-10 -2-3.5 -2,.5 -1,1zM282,308.5l-1,1.5 0,2 7.5,8 .5,4 2,2 10,4 0-6 1.5-2 3.5-2 1-2 .5-4 -.5-2 -7-3 -3.5-3 -2.5-1zM110,332.5l8,7 2,0 2-.5 2-3 -.5-2 -3.5-5.5 -4-3.5 -4,.5 -2.5,2.5 -1,2zM320,313.5l-.5,4.5 2.5,1.5 2,.5 4-.5 4-1 3-2.5 1-2 -1.5-4 -2.5-1.5 -6,1.5 -4.5,2zM308,328.5l-6,3.5 4,4.5 6,3 4-1.5 0-4 -2-4 -.5-4 -1.5-1.5zM89,332l1,11 2,2.5 2-1 5.5-12.5 -1.5-2 -2-1 -4,0 -2,1zM278,560l0,8.5 2,3 2,1 2,0 1.5-2.5 1-4 -2-6 -2.5-4 -2-.5zM124,350l4,1 1-1 -.5-2 -2.5-2.5 -2,.5 -.5,2zM421.5,552l2.5,1.5 2-1.5 -1-2 -3-1 -1,1z"/>
<path fill="#c9a298" d="M368.5,338l-1.5,10 1.5,6 -4.5,10 -2,2.5 -10,3.5 -2.5,4 1,18 -1,12 -1.5,4 -4,6 -4,10 .5,2 1.5,1.5 8,4 10,.5 6,2 4-.5 5-3.5 5.5-8 3.5-.5 2,1 2.5,3.5 3.5,0 5-4 1.5-4 -.5-4 -1.5-2 -6.5-6 -.5-4 1-6 -.5-2 -6-5 -2-3 -1-4 .5-6 -1-2 -6.5-5 -2-3 -1-10 1-4 -.5-6 2-6 -1.5-4 -2,0zM364,391.5l6,2 4,2.5 6,8 -.5,8 -1.5,3.5 -2,1.5 -10,.5 -3.5-3.5 -1-4 1.5-6 -1-2 -3-4 -.5-2 1.5-3 2-1.5zM290,310l0,2 3-2 -1-.5z"/>
<path fill="#e0c0b5" d="M354,406.5l-6.5,7.5 -2.5,8 0,2 2,2 5,2.5 2.5-.5 2.5-2 3-8 -2.5-10 -1.5-2zM368,373.5l-5,6.5 2.5,6 5,4 7.5,3 4,4 1-1 -.5-2 -2.5-2.5 -2-7.5 -5-10 -3-1.5zM354,378l2,3 2,0 3.5-1 0-2 -.5-2 -3-1.5 -3.5,1.5z"/>
<path fill="#b4f0fa" d="M333,154l-5.5,18 1,14 3,12 6,12 -1,22 2,8 3,6 21.5,28 5,4 18.5,12 5.5,5.5 2,4.5 6,17.5 6,12.5 3,12 3,6 5.5,4 6.5,2.5 8,1.5 18,1 6,1.5 4,2.5 4,3 5,6 7,18 1,4 -.5,6 -7.5,20 -1.5,6 0,6 2,6 2.5,3 4,2 13.5,3 2.5,2 2.5,4 .5,6 -1,18 1,12 3,8 11,20 4.5,14 1,8 .5,8 -1,6 -2,5 -6.5,9 -1.5,6 2,6 6,8 3.5,6 1,10 -.5,7.5 -1.5,4.5 -2.5,4 -10,11 -3.5,5 -12.5,26 -6.5,10 -.5,2 0,4 2,4 3,2.5 4,1.5 10,2 6,3 12,13 6,8 1.5,4 .5,4 -3.5,8 -.5,2 2,4 5.5,8 1,6 -1,4 -2.5,6 -9,13.5 10,8 24.5,47 12.5,15.5 1.5,9.5 5.5,2 6,3.5 4,.5 8-.5 12-3 22-3 12.5,0 2.5-12.5 9.5-14 11.5-11.5 17.5-8.5 -9-4.5 -5.5-4 -1-2 .5-2 2-2 15.5-11 12-5.5 4,0 4,1 8,5.5 2.5-1 1-5 -1.5-3 -5-7 -2-8 0-20 .5-4 2-4 2.5-3 4-2 12-2 2-1.5 4-5.5 3-2 15-3.5 4-2 12-14 9-14.5 16.5-16 15.5-26 7.5-22 3.5-5.5 11.5-12.5 9-18 4-4 13.5-10 12-13 10-8.5 27.5-32.5 2.5-6 4-18 3.5-10 3-18 1.5-3.5 2-2 6-2.5 10-.5 4-.5 8-5.5 4-1 2,.5 2,2 6,15 16.5,14 3.5,1.5 6,.5 4-.5 4-3 3-4.5 4-10 1-4 -.5-2 -3.5-4 -11-6 -5.5-4 -13-12 -2.5-6 0-6 3-8 3-4.5 10-11 6-4.5 10.5-6 9.5-9.5 2-.5 2,.5 2,2 1.5,3.5 -1.5,16 1,4 3,5.5 6,5 14,4.5 3.5,3 5,8 3.5,2.5 2-1 1-1.5 3-12 2-2 12-6.5 2.5-3.5 2-4 1-8 -1.5-8 -11-16 -13-15.5 -2.5-6.5 -1-6 2.5-12 5-20 3.5-4 10.5-4.5 6-5.5 4-8 .5-8 -4.5-12.5 -17-23.5 -1.5-14 -3-6 -2.5-2 -8,4 .5,8 2.5,10 -2,6 -7.5,12 -2.5,6 -1,6 1.5,10 -1,4 -2.5,4 -6,5 -7,11 -5,4.5 -2,0 -2-1.5 -1.5-5 1.5-12 -.5-8.5 -9.5,6 -23,8.5 -1,5 10,14.5 -9,14.5 -14,15.5 -22.5,21 -7.5,4 -4,.5 -10-8.5 4-15.5 4.5-6 -.5-9 -4.5-12.5 -6.5-13.5 -8-5 -4.5,0 -7,6.5 2.5-8.5 -4-21 -8-9.5 -16.5-3.5 13.5-1 1.5-3.5 0-7 -3.5-3 -7.5,0 -3-2 -1.5-6.5 -3-2.5 -12,4 -2-5.5 -4.5-1 -23.5,9 -7,5.5 -4-1 -4,1.5 -5.5-5.5 -8.5-2.5 5-7 1-3.5 -2.5-3.5 -6-2 -8.5,3.5 -11,12.5 -21.5,14.5 2-7.5 -3.5-4 -3.5,0 -10,6 9-10 20.5-16 1-3.5 -1.5-3.5 -14.5-2.5 -10.5,1.5 -6-2 -9,4 -12-5 -11.5-7 -11.5,3 -11-1 -7.5-2.5 -1-13 -4-3.5 -6.5,0 -3,1.5 -2,9.5 -49.5,0 -98.5-4 -36-3 -24.5-4 -50-11zM847.5,263.5l1,6.5 -2.5,6.5 -4.5,2.5 -8.5,12 -2.5,12 -.5,12 1.5,7 10,23 1,14.5 -3.5,13 -7,7 -7.5-11.5 -7-28.5 1-31 4-17 5.5-15 .5-9.5 16-7 6.5-.5z"/>
<path fill="#96d2fa" d="M334,154.5l-4,15.5 0,10 1.5,10 1.5,6 7,14 -2.5,20 1.5,8 3,6 13.5,16 8.5,12 6,5 18,12 5,5 2.5,6 4.5,14.5 8,15.5 3.5,12 3.5,6 6.5,4 6.5,2 22,2 6,1.5 4.5,2.5 5.5,4 4.5,6 8,18 1,4 -.5,6 -2,6 -7,15 -1.5,7 .5,4 1.5,4 3.5,3.5 4,1 12,1 4,3 3.5,5.5 1,6 -1.5,20 1,10 3.5,10 11,20 4.5,14 2,20 -2.5,20 7,14 1,10 -.5,16 -2,8 -4,6.5 -11,15.5 -9,10 -9.5,22 1.5,2.5 10,3.5 6,4 12,11 8,6 4,5.5 7,19.5 4,8 .5,6 -7.5,20 -11.5,17 3.5,2.5 24.5,47 12.5,15.5 0,2.5 19-2.5 10,4.5 8,1.5 10,0 16-2 9.5,.5 1.5-8 9.5-14 11.5-11.5 13-6.5 -15-6.5 -3-4 -.5-4 3.5-5 12-8 12-10 10-6.5 2.5-2.5 3-8 3-20 3-8 4.5-4 12-4.5 10-7.5 12-4.5 4-3 13.5-12.5 8.5-13 15.5-15 17.5-26 8-22 14.5-18 4.5-14 3-6 5-5 12-7 5-4 9-13 14-12.5 8-8.5 12-18.5 3-5.5 2-6 1.5-22 10.5-22 3-3.5 4-2 16-2.5 12-6.5 12.5-3.5 2-4 2-16 4.5-12 3-4.5 8-8.5 14.5-13 6.5-10 5-3 6-.5 6,3 5.5,4.5 2,4 .5,4 -2,18 2.5,4 3.5,2.5 4,.5 10-2 14,1.5 6-1 6-2.5 2-2 1.5-3 .5-6 -2-5.5 -22-26.5 -4-6 -2.5-6 -2.5-8 -.5-8 .5-6 3.5-12 0-4 -2-4 -2.5-2 -2-.5 -4,1 -4,2.5 -14,13 -4,2 -2-.5 -4-2.5 -3.5-7 -2-10 -.5-12.5 -23,8.5 -1,5 10,14.5 -9,14.5 -14,15.5 -22.5,21 -7.5,4 -4,.5 -10-8.5 4-15.5 4.5-6 -.5-9 -4.5-12.5 -6.5-13.5 -8-5 -4.5,0 -7,6.5 2.5-8.5 -4-21 -8-9.5 -16.5-3.5 13.5-1 1.5-3.5 0-7 -3.5-3 -7.5,0 -3-2 -1.5-6.5 -3-2.5 -12,4 -2-5.5 -4.5-1 -23.5,9 -7,5.5 -4-1 -4,1.5 -5.5-5.5 -8.5-2.5 5-7 1-3.5 -2.5-3.5 -6-2 -8.5,3.5 -11,12.5 -21.5,14.5 2-7.5 -3.5-4 -3.5,0 -10,6 9-10 20.5-16 1-3.5 -1.5-3.5 -14.5-2.5 -10.5,1.5 -6-2 -9,4 -12-5 -11.5-7 -11.5,3 -11-1 -7.5-2.5 -1-13 -4-3.5 -6.5,0 -3,1.5 -2,9.5 -49.5,0 -98.5-4 -36-3 -24.5-4 -50-11zM567,748l3,3 .5,5 -2.5,5.5 -2,1.5 -2,0 -2-1 -2-3 -.5-7 2.5-4 2-.5zM430,320l0,4 -2,1.5 -.5-1.5 .5-4zM847.5,263.5l1,6.5 -2.5,6.5 -4.5,2.5 -8.5,12 -2.5,12 -.5,12 1.5,7 10,23 1,14.5 -3.5,13 -7,7 -7.5-11.5 -7-28.5 1-31 4-17 5.5-15 .5-9.5 16-7 6.5-.5zM1044,248l-3.5,6 -1,8 2,12 3.5,8 3,3 6,1.5 10,0 6-3 4.5-5.5 1.5-8 -1.5-8 -3.5-6 -3-3 -8-6 -8-4 -4,1zM964.5,442l2.5,8 12.5,14 3,2 3.5,1 4-1.5 2-3.5 1.5-6 0-4 -2.5-4 -5-2.5 -10-3 -8-6.5 -2,.5 -1,1.5z"/>
<path fill="#78b9fa" d="M335,155l-3.5,15 0,8 2.5,16 8.5,16 0,4 -3,10 -.5,6 2,8 3,6 12,13.5 11,14.5 22.5,16 4,4 3,6 5.5,18 4,7 4,5 2,1.5 4,1.5 2-1.5 9-15.5 3-1 2,1.5 2,7.5 -.5,4 -1.5,3.5 -4,3 -10,0 -2,1.5 -1,4 .5,4 3,6 2.5,2 7,2.5 22,2.5 6,1.5 6,3 5.5,4.5 5.5,6 4,8 4,10 1,6 -1,6 -2.5,6 -7,14 -1.5,6 .5,4 1.5,3 4,2 4,1 8-.5 4,1 4.5,3.5 4,6 1,4 0,4 -1.5,20 1.5,12 3,8 10,16 4,10 3,12 4.5,30 4,11 1.5,7 -1,18 .5,18 -4.5,10 -3,16 -3.5,5 -9,9 -2,6 0,6 3,6 6,6 4,3 10,3 4,2.5 2,3.5 1,16 5,11 12,14 4,3 8,3.5 4,3 4,5.5 1.5,4 0,6 -1,8 -1.5,6 -3,5 -6,5 -12,7.5 -8,8 -4,1 -4,0 12.5,24 10,12.5 5.5-2 7.5-5 4.5-1 6,2 12,8 6,2 8,.5 16-1.5 10.5,.5 .5-4 9.5-14 11.5-11.5 8.5-4 -12.5-4 -4-3 -2-4 -.5-4 .5-4 2-4.5 4-4 12-7.5 12-13.5 8-5 4-3.5 4-10 2.5-18 3.5-5 4-3 10-4 12-8 12-6 15.5-16 7.5-12 11-7 5-5 8.5-14 6.5-8 3.5-6 3-6 2.5-10 3-6 12-14 2.5-14 5.5-10 6-6 12-6.5 4-3.5 3-4 2.5-8 2.5-4 18-13 6-7 1.5-4 2.5-10 2-3 6-5.5 2-4 .5-5.5 -1-14 1-6 2-4 7.5-9.5 6-9.5 4-3.5 6-2.5 18-4.5 14-5 4-3 3-6.5 4.5-20 2-4 16.5-18 9.5-14 5-6 3.5-2.5 6-2.5 4-1 4,.5 10,8 5.5,5.5 4,6 4.5,12 4,4 6,3 10,3.5 6-.5 2.5-2 .5-2 -1.5-4 -20-24 -7-12 -5.5-16 -2-8 .5-8 -1.5-1 -9.5,7 -6.5,3 -6,0 -6-2 -2.5-3 -5-22 -2.5-7.5 -2-3.5 -13,5 -1,5 10,14.5 -9,14.5 -14,15.5 -22.5,21 -7.5,4 -4,.5 -10-8.5 4-15.5 4.5-6 -.5-9 -4.5-12.5 -6.5-13.5 -8-5 -4.5,0 -7,6.5 2.5-8.5 -4-21 -8-9.5 -16.5-3.5 13.5-1 1.5-3.5 0-7 -3.5-3 -7.5,0 -3-2 -1.5-6.5 -3-2.5 -12,4 -2-5.5 -4.5-1 -23.5,9 -7,5.5 -4-1 -4,1.5 -5.5-5.5 -8.5-2.5 5-7 1-3.5 -2.5-3.5 -6-2 -8.5,3.5 -11,12.5 -21.5,14.5 2-7.5 -3.5-4 -3.5,0 -10,6 9-10 20.5-16 1-3.5 -1.5-3.5 -14.5-2.5 -10.5,1.5 -6-2 -9,4 -12-5 -11.5-7 -11.5,3 -11-1 -7.5-2.5 -1-13 -4-3.5 -6.5,0 -3,1.5 -2,9.5 -49.5,0 -98.5-4 -36-3 -24.5-4 -50-11zM847.5,263.5l1,6.5 -2.5,6.5 -4.5,2.5 -8.5,12 -2.5,12 -.5,12 1.5,7 10,23 1,14.5 -3.5,13 -7,7 -7.5-11.5 -7-28.5 1-31 4-17 5.5-15 .5-9.5 16-7 6.5-.5zM1048,253.5l-2,4.5 -.5,6 1.5,8 3,5.5 4,3 6,1.5 6-.5 4-2.5 2.5-3 1.5-6 -1.5-6 -2.5-4.5 -4-3.5 -10-4 -4-1 -2,.5z"/>
<path fill="#50a5f5" d="M335.5,155l-3,15 .5,8 3,16 9,16 -.5,4 -3,8 -1,6 .5,6 3,7 4,5 10,10 10,14 4.5,4 17.5,12 4.5,4 3,6 5,18 3.5,6.5 4,4.5 2,.5 4-1 4-4.5 5.5-8 2.5-2 2.5,0 2.5,2 3,8 0,8 -2,4 -2,2 -10,6 -1,2 .5,4 4,4 4.5,1.5 20,2 8,2.5 8,5 9.5,9 7,14 2,6 0,4 -2,10 -8.5,16.5 -1.5,7.5 1.5,2.5 4,2 12-1 4,1.5 6,6 4,8 1,7 -2,18 2,14 3,8 10.5,16 4,10 5.5,21.5 5.5,16.5 3.5,22 -1.5,20 1.5,18 -5.5,24 -6.5,16 -1,6 .5,4 3.5,5 14,5.5 5,5.5 2,6 -3,14 .5,4 1,4 4,6 6.5,7 6,4.5 10,5.5 5,5 4.5,10 2.5,20 2,3.5 4.5,4.5 .5,2 -2,4 -3,2 -4,1.5 -10,1.5 -6,2 -5.5,5 -8.5,11 -4,2.5 -6,.5 6.5,12.5 6,7.5 3.5-2 8-7.5 6-2 4,1 4,1.5 14,10 6,3 6,1 14-1 15.5,0 9-13.5 11.5-11.5 2-1 -12-1.5 -2-1 -2-2 -1-5.5 0-8 1-7 2-5 4-4.5 13-9.5 11-13 10-6.5 4-3.5 3-7 1.5-16 1.5-3.5 2-3 4-3 12-5.5 20-12 3-3 5-8.5 10-9.5 4.5-8 3.5-2.5 12-5 4.5-4.5 7.5-15 10-13 4.5-14 3-6 9.5-12 1-4 .5-10 2.5-6 11-14 12-7 3.5-3 2.5-4 3-10 3-4.5 4-3 13-6.5 6-6 1.5-6 -2.5-10 .5-4 1.5-2 10-5.5 2.5-4.5 -.5-14 -1.5-10 .5-4 2-2 7-3 4-3 6.5-10 3.5-4 10.5-6 7.5-5.5 4-.5 10,1 6-1 4-1 4-3.5 2-5.5 .5-8 -1-4 -4.5-6 0-2 3.5-4 11.5-5 4-3.5 3.5-5.5 2.5-11 12-10 5-9 -.5-4 -3-6 -1-4 .5-4 2.5-12 -1-8 -2.5-6 -3.5-6 -4-3.5 -3.5,1.5 -1,5 10,14.5 -9,14.5 -14,15.5 -22.5,21 -7.5,4 -4,.5 -10-8.5 4-15.5 4.5-6 -.5-9 -4.5-12.5 -6.5-13.5 -8-5 -4.5,0 -7,6.5 2.5-8.5 -4-21 -8-9.5 -16.5-3.5 13.5-1 1.5-3.5 0-7 -3.5-3 -7.5,0 -3-2 -1.5-6.5 -3-2.5 -12,4 -2-5.5 -4.5-1 -23.5,9 -7,5.5 -4-1 -4,1.5 -5.5-5.5 -8.5-2.5 5-7 1-3.5 -2.5-3.5 -6-2 -8.5,3.5 -11,12.5 -21.5,14.5 2-7.5 -3.5-4 -3.5,0 -10,6 9-10 20.5-16 1-3.5 -1.5-3.5 -14.5-2.5 -10.5,1.5 -6-2 -9,4 -12-5 -11.5-7 -11.5,3 -11-1 -7.5-2.5 -1-13 -4-3.5 -6.5,0 -3,1.5 -2,9.5 -49.5,0 -98.5-4 -36-3 -24.5-4 -50-11zM710,608.5l4,1.5 .5,2 -1,2 -3.5,1.5 -3-1.5 -1-2 1-2zM847.5,263.5l1,6.5 -2.5,6.5 -4.5,2.5 -8.5,12 -2.5,12 -.5,12 1.5,7 10,23 1,14.5 -3.5,13 -7,7 -7.5-11.5 -7-28.5 1-31 4-17 5.5-15 .5-9.5 16-7 6.5-.5zM1052,262l-.5,4 .5,4 2,3.5 3,2.5 3,1 4,.5 4-1.5 2-2.5 1-3.5 -.5-2 -2-4 -2.5-2.5 -4-2 -4-.5 -4,.5z"/>
<path fill="#3c96f5" d="M336.5,155.5l-3,16.5 2,16 3,8 8.5,14 -.5,4 -3.5,8 -1,6 .5,6 2.5,6 5,5.5 9.5,8.5 11.5,16 21,15.5 4.5,4.5 3,6 3.5,16 5,8.5 2,1.5 4,0 4-3.5 6-8 4-2.5 2.5,0 3.5,2 2,3.5 1.5,4.5 1,10 -2.5,6 -8.5,8 -1,2 0,2 1,2 3.5,2 3,.5 20,3 10,4.5 14.5,12 2.5,4 4,8 2,8 -.5,12 -3,10 -5.5,10 0,3.5 2,1.5 10-1.5 4,1.5 6,6 5.5,9 2.5,6 .5,4 -2,20 2,14 2.5,6 12.5,20 6.5,17 10.5,23 .5,16 1.5,18 -2,16 3,24 2,12 -2.5,10 0,4 7,12 6.5,22 1,8 -2,14 1,4 3.5,6 6,5 4,1 12,2 15,4 7,4 3,6 1,6 -1,4 -6.5,8 -.5,2 0,4 4,12 0,6 -1.5,4 -3.5,4 -17.5,12 -3.5,4 -.5,2 1.5,2 9,8 10,7.5 6,2.5 6.5,0 2-2 -1-10 1.5-6 2.5-4 3-2 13.5-4.5 3.5-3.5 2-4 3-16 3.5-6 28-24.5 11-7.5 3-3.5 2-6.5 0-14 2-4 2-3 8-6 13.5-7 6.5-4 2.5-4 2.5-12 3.5-4 11.5-8 6-10.5 4-1.5 10,1.5 4-.5 4-1 4-4 6.5-18 9-12 4.5-12 8-14 1-14 2-6 14-18 15-10.5 8-15.5 4-5.5 4-3 12-5 2.5-2.5 .5-2 -1-4 -5-10 -3-10 -4-6 -1-4 0-4 1-1.5 2-1.5 3,1 1.5,2 2,6 3.5,3 4,.5 4-.5 4.5-3 1.5-4 0-4 -7-14 -.5-4 1-2 4.5-4 12-4.5 4.5-3.5 1.5-4 .5-8 1-4 2.5-2.5 7-3.5 1.5-2 -2-12 1-6 2.5-4 2-2 4-2 6-.5 4,.5 5.5,4 3.5,10 5,6.5 2,1.5 4,.5 2.5-.5 1.5-2 -1.5-4 -7.5-8 -1.5-4 .5-2 2-4 4-3.5 11.5-6.5 5-4 1.5-4 1-12 1.5-4 3.5-3 7-3 3-2.5 1-5.5 -3-11.5 -1-.5 -12,13.5 -22.5,21 -7.5,4 -4,.5 -10-8.5 4-15.5 4.5-6 -.5-9 -4.5-12.5 -6.5-13.5 -8-5 -4.5,0 -7,6.5 2.5-8.5 -4-21 -8-9.5 -16.5-3.5 13.5-1 1.5-3.5 0-7 -3.5-3 -7.5,0 -3-2 -1.5-6.5 -3-2.5 -12,4 -2-5.5 -4.5-1 -23.5,9 -7,5.5 -4-1 -4,1.5 -5.5-5.5 -8.5-2.5 5-7 1-3.5 -2.5-3.5 -6-2 -8.5,3.5 -11,12.5 -21.5,14.5 2-7.5 -3.5-4 -3.5,0 -10,6 9-10 20.5-16 1-3.5 -1.5-3.5 -14.5-2.5 -10.5,1.5 -6-2 -9,4 -12-5 -11.5-7 -11.5,3 -11-1 -7.5-2.5 -1-13 -4-3.5 -6.5,0 -3,1.5 -2,9.5 -49.5,0 -98.5-4 -36-3 -24.5-4 -50-11zM710,602.5l6,1 4.5,2.5 3,4 -.5,4 -2.5,4 -4.5,2.5 -6,1.5 -6-.5 -3.5-1.5 -1.5-2 -2-4 .5-4 1-2 3.5-3zM847.5,263.5l1,6.5 -2.5,6.5 -4.5,2.5 -8.5,12 -2.5,12 -.5,12 1.5,7 10,23 1,14.5 -3.5,13 -7,7 -7.5-11.5 -7-28.5 1-31 4-17 5.5-15 .5-9.5 16-7 6.5-.5z"/>
<path fill="#1e6eeb" d="M337,156l-2.5,16 2.5,16 3,8 9.5,14 -.5,4 -4,8 -2,6 .5,4 2.5,6.5 4,4.5 7.5,5 4.5,4 13,18 19,14.5 4,4 2.5,5.5 3,16 4.5,8 2,1.5 2,0 2-.5 3.5-3 4.5-6 2-2 4-1.5 4,.5 4,3 3.5,8 1,10 -1.5,6 -6.5,10 0,2 1,2 6.5,2 14,2.5 10,4 18,13.5 5,8 3.5,12 .5,14 1,5 6,7 4,12 7.5,14 2,6 .5,6 -1,20 2.5,12 3,6 11,18 4.5,10 12,16 6.5,12 -.5,6 -4,14 .5,6 2.5,14 -2,14 0,8 1.5,8 3,6 2.5,2.5 6,3.5 3,4 .5,4 -5,12 -.5,6 5,24 2,30 3,4 2,1 12,2 24,7.5 6,2.5 3.5,3 2.5,4 2,8 4.5,10 .5,10 -1.5,8 -7.5,6 -2.5,4 -2,6 0,6 2.5,2 2,0 12-1.5 2-1.5 1.5-3 1.5-16 1.5-4 3-4 8.5-8.5 18-10 14-11.5 3-4 1-4 0-10 .5-6 1.5-4.5 7.5-11.5 1.5-4 -1-4 -7-12 -.5-4 1.5-4.5 2-1.5 8-1.5 12-6.5 16-6 16-9 8-.5 14,2.5 4-1 2-2 4-17 7-15 2.5-4 8.5-9 3-5 .5-6 -2.5-12 1-5.5 9.5-8.5 6-10 11.5-8 4-4 22.5-30 1-4 -.5-4 -6-14 -1-6 1-8 4-8 4-5 6-5 4.5-8 3.5-4 13-6 3-2 1.5-4 0-8 2-8 3-4 7.5-7 10-15 6-4.5 14-6 8-6.5 2-.5 4,2 4,.5 6-2 2-1.5 2-3.5 -.5-6 -1.5-2 -2-.5 -4,1.5 -8,5 -7,1 -10-8.5 4-15.5 4.5-6 -.5-9 -4.5-12.5 -6.5-13.5 -8-5 -4.5,0 -7,6.5 2.5-8.5 -4-21 -8-9.5 -16.5-3.5 13.5-1 1.5-3.5 0-7 -3.5-3 -7.5,0 -3-2 -1.5-6.5 -3-2.5 -12,4 -2-5.5 -4.5-1 -23.5,9 -7,5.5 -4-1 -4,1.5 -5.5-5.5 -8.5-2.5 5-7 1-3.5 -2.5-3.5 -6-2 -8.5,3.5 -11,12.5 -21.5,14.5 2-7.5 -3.5-4 -3.5,0 -10,6 9-10 20.5-16 1-3.5 -1.5-3.5 -14.5-2.5 -10.5,1.5 -6-2 -9,4 -12-5 -11.5-7 -11.5,3 -11-1 -7.5-2.5 -1-13 -4-3.5 -6.5,0 -3,1.5 -2,9.5 -49.5,0 -98.5-4 -36-3 -24.5-4 -50-11zM706,597.5l6,0 6,1 6,3 3,2.5 3,5.5 .5,4.5 -1,4 -3,4 -4.5,2.5 -12,2.5 -12,1 -4-2 -2-3 -1.5-7 0-6 1-4 2.5-4 2-1.5 4-2zM847.5,263.5l1,6.5 -2.5,6.5 -4.5,2.5 -8.5,12 -2.5,12 -.5,12 1.5,7 10,23 1,14.5 -3.5,13 -7,7 -7.5-11.5 -7-28.5 1-31 4-17 5.5-15 .5-9.5 16-7 6.5-.5zM599.5,802l-3.5,2 -3,4 .5,2 2.5,1.5 2,0 2-1 1.5-2.5 1-4 -.5-1.5z"/>
<path fill="#1464d2" d="M338,156l-2.5,16 3,16 3,8 9,12 1.5,4 -1.5,4 -4.5,7.5 -1.5,4.5 .5,4 2.5,6 4.5,4 12,6.5 4.5,5.5 10.5,16 17,14 4,4 2.5,6 2.5,16 4,6 3,1 2-1 7.5-8 4.5-2.5 4-.5 6,3 4,6 3,12 -.5,6 -4,10 .5,4 3,2 12,3 10,3.5 22,15.5 5,8 7,18 2,2 6,4 3,4 1,4 -2.5,12 0,6 7.5,18 3,13.5 3.5,10.5 -.5,10 1.5,10 3.5,8 4,6 13.5,10 11.5,20 4.5,12 0,6 -6.5,14 -1,4 0,4 4,16 -2.5,18 1,4 3,4 10.5,6.5 5.5,5.5 2.5,4 2.5,6 0,6 -1.5,2 -5,3 -2,3 -1,4 .5,4 2.5,3.5 2,1 4-1 5.5-5.5 2.5-6.5 2-1 2,1.5 3.5,10 .5,4 -2,4 -4,1.5 -10,1 -4,3 -1.5,2.5 -1.5,6 -.5,6 1.5,7.5 2,5.5 4,4 12,6.5 6,1.5 14,1 10,6 4,4.5 5,13.5 2.5,4 2.5,1.5 4,1.5 10-.5 6-1.5 6-2.5 8-6.5 3.5-4 2.5-4 .5-6 0-12 3-18 -1.5-4 -6-7.5 -6-3.5 -7-1 -3-1.5 -.5-.5 0-2 8.5-7.5 5-12.5 2.5-4 10-8 3.5-4 1.5-6 1-6 0-18 1.5-6 2-4 3-3.5 6-2.5 28,4 4,3 4,7 2.5,8 1,14 2,4 6.5,2.5 6,.5 5.5-1 3-2 3.5-6.5 3.5-9.5 .5-6 -1-10 .5-4 1.5-2 7-4.5 2-3.5 -1.5-4 -3.5-6 -.5-4 11.5-14 4.5-12 3-2 12.5-3.5 6-3.5 4-4.5 6-9.5 10.5-11 3-10 0-4 -4.5-14 -.5-4 14-26 5.5-15 4-4 10-4.5 3-2.5 2.5-4 4-12 4.5-6.5 14-10.5 10.5-13 3.5-2.5 11.5-5.5 2.5-2 3-4 2-6 -6-5.5 4-15.5 4.5-6 -.5-9 -4.5-12.5 -6.5-13.5 -8-5 -4.5,0 -7,6.5 2.5-8.5 -4-21 -8-9.5 -16.5-3.5 13.5-1 1.5-3.5 0-7 -3.5-3 -7.5,0 -3-2 -1.5-6.5 -3-2.5 -12,4 -2-5.5 -4.5-1 -23.5,9 -7,5.5 -4-1 -4,1.5 -5.5-5.5 -8.5-2.5 5-7 1-3.5 -2.5-3.5 -6-2 -8.5,3.5 -11,12.5 -21.5,14.5 2-7.5 -3.5-4 -3.5,0 -10,6 9-10 20.5-16 1-3.5 -1.5-3.5 -14.5-2.5 -10.5,1.5 -6-2 -9,4 -12-5 -11.5-7 -11.5,3 -11-1 -7.5-2.5 -1-13 -4-3.5 -6.5,0 -3,1.5 -2,9.5 -49.5,0 -98.5-4 -36-3 -24.5-4 -50-11zM866,344.5l4,1.5 3.5,2 1.5,2 0,2 -3,4 -3,2 -5,1.5 -4-.5 -2-1 -2-4 .5-6 1.5-2.5 2-1zM816,472l2.5,2 1.5,2 0,2 -4.5,6 -1.5,8 -2,5 -2-1 -2-6 2.5-8 .5-8 1-2zM847.5,263.5l1,6.5 -2.5,6.5 -4.5,2.5 -8.5,12 -2.5,12 -.5,12 1.5,7 10,23 1,14.5 -3.5,13 -7,7 -7.5-11.5 -7-28.5 1-31 4-17 5.5-15 .5-9.5 16-7 6.5-.5zM706,635.5l-2.5,2.5 0,4 2.5,2.5 4,1 6-1 5-2.5 2.5-2 1.5-4 -1-2.5 -6-1.5 -6,1z"/>
<path fill="#10a010" d="M338.5,156l-2,16 3,16 3.5,8 9.5,12 1.5,4 -.5,4 -5.5,7.5 -1.5,4.5 0,4 2,4 1.5,2 4,2.5 16,3 10,8.5 2,16 2.5,4 13.5,11 4.5,5 2,6 1.5,14 2,4.5 2,1.5 2,.5 2-1.5 7-7 5-2.5 6,.5 6,4 3.5,6 3.5,12 0,6 -1.5,10 .5,2 4,3 18,7 22,14 5.5,6 7,12 12.5,14 1.5,4 1,6 -2,14 .5,6 4,10 4,14 9.5,16 1,8 -1,10 .5,4 4,4 12,1.5 4,2 4.5,4.5 3,6 1.5,14 6.5,24 -1,6 -6.5,12 -1,4 0,4 2.5,14 -.5,16 1,4 2.5,4 14,12 10.5,12 13,9 4,5 4,13.5 7.5,8.5 1,2 -1,8 5.5,16 1.5,14 9.5,23 4,3.5 6,2 6,0 8-2.5 5-4 3.5-6 .5-6 -1.5-28 -1-2 -2.5-2 -14-2 -6-3 -5-5 -1.5-6 1.5-4 2-2 15-10 12-17 9-9 3-4 2.5-8 1.5-20 7.5-20 3.5-20 3-10 4-5 6-2 16,0 4,2 2,3 -.5,2 -13.5,16 -2.5,6 -.5,6 1,2.5 4,2 14-2 4-2 2-2 3.5-6.5 1.5-8 -1.5-12 1.5-2 13-8.5 2.5-3.5 3.5-8 4-4 4-2 6,0 6,2 10,6.5 4,1 6-.5 5-3 2-4 0-6 -7-14 -3.5-14 3.5-14 1.5-10 1.5-4 2.5-2 2.5-.5 4,.5 12,4 4,0 2-1.5 2.5-2.5 2.5-6 1.5-20 2.5-6 5-3.5 11-6.5 13.5-18 5.5-4.5 12-7.5 10.5-14 3.5-2 10-3.5 5-4.5 3.5-8 -1.5-1.5 4-15.5 4.5-6 -.5-9 -4.5-12.5 -6.5-13.5 -8-5 -4.5,0 -7,6.5 2.5-8.5 -4-21 -8-9.5 -16.5-3.5 13.5-1 1.5-3.5 0-7 -3.5-3 -7.5,0 -3-2 -1.5-6.5 -3-2.5 -12,4 -2-5.5 -4.5-1 -23.5,9 -7,5.5 -4-1 -4,1.5 -5.5-5.5 -8.5-2.5 5-7 1-3.5 -2.5-3.5 -6-2 -8.5,3.5 -11,12.5 -21.5,14.5 2-7.5 -3.5-4 -3.5,0 -10,6 9-10 20.5-16 1-3.5 -1.5-3.5 -14.5-2.5 -10.5,1.5 -6-2 -9,4 -12-5 -11.5-7 -11.5,3 -11-1 -7.5-2.5 -1-13 -4-3.5 -6.5,0 -3,1.5 -2,9.5 -49.5,0 -98.5-4 -36-3 -24.5-4 -50-11zM862,338.5l10,3.5 10.5,6 2.5,4 -.5,4 -1.5,2 -7,4 -12,4.5 -6,.5 -4-2 -2-3.5 -.5-5.5 0-6 1-6 1.5-3.5 2-1.5 2-1zM847.5,263.5l1,6.5 -2.5,6.5 -4.5,2.5 -8.5,12 -2.5,12 -.5,12 1.5,7 10,23 1,14.5 -3.5,13 -7,7 -7.5-11.5 -7-28.5 1-31 4-17 5.5-15 .5-9.5 16-7 6.5-.5zM742,603l0,7.5 3,9.5 3,3.5 1.5,.5 4.5-1 4-4 2.5-5 .5-4 -1.5-4 -3.5-4.5 -6-3.5 -4,.5 -2,1zM768,546.5l-1,1.5 -.5,2 1.5,2.5 2,1 3.5-1.5 1-2 -.5-2 -3-2z"/>
<path fill="#20b420" d="M339.5,156.5l-2,15.5 3.5,16 3.5,8 10,12 2,4 0,4 -.5,2 -6,6 -2,4 .5,4 1.5,3 4,2.5 4,.5 4-.5 6-3 2-.5 14.5,14 2,2 1.5,4 -2,12 1,4 3.5,4 11.5,10 2.5,4 1.5,4 1.5,14 1.5,4 1,1 2,.5 8-7 6-2.5 6,.5 5.5,3.5 5,6 3.5,10 1.5,8 0,10 1.5,4 6.5,4 17,8 20,12 4,4 7.5,11 9,9 3.5,6 3,8 1,20 5.5,25 2,3.5 8.5,11.5 4,10 2.5,4 3,2.5 9.5,5.5 6,8 3.5,8 6.5,24 3.5,16 0,6 -2,6 -6,10 -1.5,6 1.5,14 .5,16 2,6 3.5,4 23,20 14,5.5 11.5,.5 4.5,1.5 4,3 6,7.5 4,2.5 6,.5 6-3 12-16 7.5-8 2.5-4 1.5-6 2-16 5.5-22 1.5-20 7.5-23.5 4-5.5 2-1 7.5,4 6.5,1.5 14-.5 10,2.5 6,.5 4-1.5 4-3 6.5-11.5 5.5-5.5 6-2 18.5-2.5 .5-2 -3-14 0-4 6.5-12 1.5-6 -2-5 -6-3 -2-2 0-4 3-6 4-4 5-2.5 8-3 8-1 2.5,.5 2.5,6 3,3.5 4,1.5 3-1 .5-2 -1.5-4.5 -8.5-5.5 .5-4 2-4 16-13 16-9 14-16 15-14 2-4 0-2 -3-2.5 -6,0 -14,4 -4-.5 -2-.5 -1.5-2.5 -2-8 0-10 1.5-14 2-5.5 2-1.5 4,0 26,9.5 10,5.5 10,9 4,2 2-1 2-2.5 4.5-11.5 9-11 -.5-9 -4.5-12.5 -6.5-13.5 -8-5 -4.5,0 -7,6.5 2.5-8.5 -4-21 -8-9.5 -16.5-3.5 13.5-1 1.5-3.5 0-7 -3.5-3 -7.5,0 -3-2 -1.5-6.5 -3-2.5 -12,4 -2-5.5 -4.5-1 -23.5,9 -7,5.5 -4-1 -4,1.5 -5.5-5.5 -8.5-2.5 5-7 1-3.5 -2.5-3.5 -6-2 -8.5,3.5 -11,12.5 -21.5,14.5 2-7.5 -3.5-4 -3.5,0 -10,6 9-10 20.5-16 1-3.5 -1.5-3.5 -14.5-2.5 -10.5,1.5 -6-2 -9,4 -12-5 -11.5-7 -11.5,3 -11-1 -7.5-2.5 -1-13 -4-3.5 -6.5,0 -3,1.5 -2,9.5 -49.5,0 -98.5-4 -36-3 -24.5-4 -50-11zM758,474l10-4 2,1 .5,1 -1,2 -6.5,8 -3.5,10 -3.5,5 -2,1 -4,0 -6-2.5 -4.5-3.5 -1-2 1-2 4.5-5zM847.5,263.5l1,6.5 -2.5,6.5 -4.5,2.5 -8.5,12 -2.5,12 -.5,12 1.5,7 10,23 1,14.5 -3.5,13 -7,7 -7.5-11.5 -7-28.5 1-31 4-17 5.5-15 .5-9.5 16-7 6.5-.5zM640,698.5l-4,3 -3,6.5 0,6 1.5,6 3,8 2.5,4 6,3 6,0 4.5-3 2.5-4 .5-8 -1-10 -3-6 -3.5-4 -6-2z"/>
<path fill="#38d240" d="M340,157l-1.5,15 3.5,16 4,8 12,14 2.5,6 -.5,4 -1.5,2 -6.5,4 -1.5,2 -.5,2 1,2 3,2 4,0 3.5-2 4.5-4.5 2,0 4,2.5 6.5,8 9.5,9 2,3 1,6 -1,10 .5,4 3,4 10.5,9.5 3,4.5 1,4 2,14 2,1 8-5 6-1.5 6,.5 6,4 4,4 3,5 4.5,14 1.5,12 3,4 40,22 5,4 8,10 9,9.5 5,8.5 2.5,8 2.5,14 2.5,10 2,18 2.5,4 8.5,10 6.5,10.5 4,2.5 14,3 15,4 5,2.5 4,3.5 1,2 -1,2.5 -4,3 -10,4.5 -1.5,2 -1,4 1,6 9,24 1,6 -2,16 -.5,10 -4,2 -1,2 1,10 -3,18 1,4 2,4 3,4 7,5.5 12,6 8,2 14-1 8,1.5 4,3.5 6,10.5 4,3 4,.5 4-2.5 15.5-23 2.5-6 6-30 .5-20 3.5-16 .5-12 4-16 -.5-26 2-5 4-6.5 4-2 16-1 14-6 16,0 12-4 18-9.5 18-14.5 15-9.5 20-16 4.5-6 5-12 3.5-2.5 10-2 3-3.5 -3-9 0-25 2-22 2-6 2-2 4-1 16,8 16,3 16,4.5 4-.5 8-8.5 9.5-3 -.5-6.5 -4.5-12.5 -6.5-13.5 -8-5 -4.5,0 -7,6.5 2.5-8.5 -4-21 -8-9.5 -16.5-3.5 13.5-1 1.5-3.5 0-7 -3.5-3 -7.5,0 -3-2 -1.5-6.5 -3-2.5 -12,4 -2-5.5 -4.5-1 -23.5,9 -7,5.5 -4-1 -4,1.5 -5.5-5.5 -8.5-2.5 5-7 1-3.5 -2.5-3.5 -6-2 -8.5,3.5 -11,12.5 -21.5,14.5 2-7.5 -3.5-4 -3.5,0 -10,6 9-10 20.5-16 1-3.5 -1.5-3.5 -14.5-2.5 -10.5,1.5 -6-2 -9,4 -12-5 -11.5-7 -11.5,3 -11-1 -7.5-2.5 -1-13 -4-3.5 -6.5,0 -3,1.5 -2,9.5 -49.5,0 -98.5-4 -36-3 -24.5-4 -50-11zM584,568l5,2 1,2 0,2 -1,2 -3,1.5 -3-1.5 -1-4 0-2zM847.5,263.5l1,6.5 -2.5,6.5 -4.5,2.5 -8.5,12 -2.5,12 -.5,12 1.5,7 10,23 1,14.5 -3.5,13 -7,7 -7.5-11.5 -7-28.5 1-31 4-17 5.5-15 .5-9.5 16-7 6.5-.5zM706,493.5l-1.5,2.5 0,2 6.5,8 3.5,12 1.5,2.5 2,1 10,.5 10,4.5 4-.5 2-1.5 1.5-4.5 -1.5-3 -10-6 -6-4.5 -10-13 -6-2.5 -2,.5zM644,708.5l-2,1.5 -1,2 0,6 2,4 3,4 2,1 2-.5 2-3 .5-3.5 -.5-8 -2-3 -1.5-1z"/>
<path fill="#50f050" d="M341,157l-1.5,11 .5,6 2,10 3,8 5,7 10,11 6,10 25.5,28 1.5,6 0,12 1,4 14,16 2,4 2,8.5 2,2 10-1.5 6,0 4,1.5 5,3.5 4,4 3.5,6 5,12 2.5,12 2,4 5,4 25,12.5 12,7.5 4.5,4 16.5,18 4,6 4,10 5,19.5 3,16.5 2,6 15,18.5 6,3.5 14,4 12,5 8.5,5 9,8 1,4 -2.5,4 -12,8 -2,2 -2,3.5 0,4.5 1,4 5,9.5 4,3.5 4,1.5 6-1 8-4 10.5-9.5 3.5-6 0-4 -4-8 0-4 3-2 3,0 2,1 2.5,3 8.5,16 0,4 -1.5,8 -2.5,4 -2,2 -7,3.5 -4,3 -8.5,13.5 -10.5,12 -3.5,14 -2.5,6 -4,6 -6,6 -2.5,4 0,2 1,4 4.5,3 8,.5 16.5-3.5 13.5-7.5 22-9.5 7-5 1-2 0-4 -2-4 -5.5-8 -1.5-4 .5-2 2.5-1.5 8.5-.5 3.5-3 1.5-3 .5-6 -3.5-6 -.5-4 1-2 9-12.5 2.5-7.5 -1-6 -4.5-10 -.5-6 2-4 7.5-8 8-12 4-1 8,.5 6-.5 18-4.5 16-1 12-3.5 28-15.5 22-16 14.5-12.5 4.5-6 5-14 2-4 10-8 3-6 2-10 3-34 2-7 4-6.5 2-.5 4,1 12,9 6,2 6-.5 6-1 3.5-2.5 7-12 3.5-4 3.5-2 4.5-1 4,.5 4,1.5 3.5,2.5 -7.5-15.5 -8-5 -4.5,0 -7,6.5 2.5-8.5 -4-21 -8-9.5 -16.5-3.5 13.5-1 1.5-3.5 0-7 -3.5-3 -7.5,0 -3-2 -1.5-6.5 -3-2.5 -12,4 -2-5.5 -4.5-1 -23.5,9 -7,5.5 -4-1 -4,1.5 -5.5-5.5 -8.5-2.5 5-7 1-3.5 -2.5-3.5 -6-2 -8.5,3.5 -11,12.5 -21.5,14.5 2-7.5 -3.5-4 -3.5,0 -10,6 9-10 20.5-16 1-3.5 -1.5-3.5 -14.5-2.5 -10.5,1.5 -6-2 -9,4 -12-5 -11.5-7 -11.5,3 -11-1 -7.5-2.5 -1-13 -4-3.5 -6.5,0 -3,1.5 -2,9.5 -49.5,0 -98.5-4 -36-3 -24.5-4 -50-11zM847.5,263.5l1,6.5 -2.5,6.5 -4.5,2.5 -8.5,12 -2.5,12 -.5,12 1.5,7 10,23 1,14.5 -3.5,13 -7,7 -7.5-11.5 -7-28.5 1-31 4-17 5.5-15 .5-9.5 16-7 6.5-.5z"/>
<path fill="#78f578" d="M842,356l2.5-26 6.5-24 1-2.5 2-1.5 2-.5 3,2.5 5,12 4,6 4,3 4,.5 4-1.5 4-3.5 8-12.5 4-4 6-2.5 13-1.5 -1-2 -8-5 -4.5,0 -7,6.5 2.5-8.5 -4-21 -8-9.5 -16.5-3.5 13.5-1 1.5-3.5 0-7 -3.5-3 -7.5,0 -3-2 -1.5-6.5 -3-2.5 -12,4 -2-5.5 -4.5-1 -23.5,9 -7,5.5 -4-1 -4,1.5 -5.5-5.5 -8.5-2.5 5-7 1-3.5 -2.5-3.5 -6-2 -8.5,3.5 -11,12.5 -21.5,14.5 2-7.5 -3.5-4 -3.5,0 -10,6 9-10 20.5-16 1-3.5 -1.5-3.5 -14.5-2.5 -10.5,1.5 -6-2 -9,4 -12-5 -11.5-7 -11.5,3 -11-1 -7.5-2.5 -1-13 -4-3.5 -6.5,0 -3,1.5 -2,9.5 -49.5,0 -98.5-4 -36-3 -24.5-4 -50-11 -54.5-16 -1,11 .5,6 2,10 3,7.5 4.5,6.5 11.5,12 12.5,16 17.5,20 2.5,6 1,14 1.5,4 11,12.5 6,11.5 2,2 2,1 14,1.5 9,5.5 6.5,8 5.5,12 4.5,14 2.5,4 6,4 22,11 11,7 7,6 16,16 4,6 6,14 3,10 2.5,16 2.5,8 4,6 12,14 6,4 22,8 24,13.5 6,1.5 14,0 14,1 26-4 4-2 4-3.5 8-12.5 4-3 4-.5 8,1 6,0 14-3.5 14-1.5 6-1.5 36-14 24-17.5 8.5-7.5 5.5-6 3-4 5-14 2.5-4 9.5-8 3-4 2.5-6 1.5-6.5 -2,7 -7,7 -7.5-11.5 -7-28.5 1-31 4-17 5.5-15 .5-9.5 16-7 6.5-.5 -3.5,4 1,6.5 -2.5,6.5 -4.5,2.5 -8.5,12 -2.5,12 -.5,12 1.5,7 10,23zM631,548l-3,1.5 -4,4.5 -6,12 -.5,4 1,2 1.5,2 4,2 4,0 4-1.5 2.5-2.5 2-4 1-8 -.5-8 -1-2.5 -2-1z"/>
<path fill="#96f596" d="M841,344l1-12 3.5-16 2-12 1-4 3-4 4.5-2 4,.5 2,1 4,4.5 4,9 2,2 4,1 4-2.5 10-12.5 6-3 1-3 -4-21 -8-9.5 -16.5-3.5 13.5-1 1.5-3.5 0-7 -3.5-3 -7.5,0 -3-2 -1.5-6.5 -3-2.5 -12,4 -2-5.5 -4.5-1 -23.5,9 -7,5.5 -4-1 -4,1.5 -5.5-5.5 -8.5-2.5 5-7 1-3.5 -2.5-3.5 -6-2 -8.5,3.5 -11,12.5 -21.5,14.5 2-7.5 -3.5-4 -3.5,0 -10,6 9-10 20.5-16 1-3.5 -1.5-3.5 -14.5-2.5 -10.5,1.5 -6-2 -9,4 -12-5 -11.5-7 -11.5,3 -11-1 -7.5-2.5 -1-13 -4-3.5 -6.5,0 -3,1.5 -2,9.5 -49.5,0 -98.5-4 -36-3 -24.5-4 -50-11 -53.5-15.5 -1,14.5 2,10 3,8 5.5,8 12,12 12.5,16 16,18 4,8 1.5,14 1.5,4 10.5,12 6,9.5 4,3 10,2 4,1.5 8,5 4.5,5 6.5,10 3.5,8 3.5,10 2.5,4 5.5,4 14,7 18,11 15,12 8,8 7.5,10 6.5,16 2,8 1.5,14 2,6 3.5,6 14,15.5 6,4 18,6.5 24,12 8,2 20,.5 32-4.5 3.5-2 2.5-2.5 6-12.5 4-4 6-1 12,2.5 7.5-.5 20.5-4.5 16-7 24-5 8-4 26-20 8-9.5 9-20 10.5-9 -7-11 -7-28.5 1-31 4-17 5.5-15 .5-9.5 16-7 6.5-.5 -3.5,4 1,6.5 -2.5,6.5 -4.5,2.5 -8.5,12 -2.5,12 -.5,12 1.5,7z"/>
<path fill="#b4fab4" d="M343,158l-.5,14 2,10 3,8 6.5,8.5 14,13.5 9,12 16,18 4.5,8 4,18 16.5,22 4,3 12,3.5 8.5,5.5 6,6 6,8 4.5,8 3.5,10 3.5,4.5 4,3 8,2 4,2 7,6.5 29,20 10,10 6.5,8 8,18 1.5,6 -.5,14 2,6 2.5,4.5 14,15.5 8,5.5 14,5 20,9.5 10,3 10,1.5 10,0 32-5.5 4-2.5 1.5-2.5 4.5-14.5 2-2.5 4-2.5 6-.5 14,4.5 8,0 16-4 16-7.5 26-3.5 8-3.5 10-8 12-8 6.5-6 6-8 5-14 2.5-4.5 3.5-3.5 8.5-5.5 -5.5-8.5 -7-28.5 1-31 4-17 5.5-15 .5-9.5 16-7 6.5-.5 -3.5,4 1,6.5 -2.5,6.5 -4.5,2.5 -8.5,12 -2.5,12 -.5,12 1.5,7 8,18.5 .5-10.5 4.5-26 1.5-6 4-6.5 4-2.5 6,0 4,1 8,6 4,.5 4-1.5 10-7 6-2.5 -3-15.5 -8-9.5 -16.5-3.5 13.5-1 1.5-3.5 0-7 -3.5-3 -7.5,0 -3-2 -1.5-6.5 -3-2.5 -12,4 -2-5.5 -4.5-1 -23.5,9 -7,5.5 -4-1 -4,1.5 -5.5-5.5 -8.5-2.5 5-7 1-3.5 -2.5-3.5 -6-2 -8.5,3.5 -11,12.5 -21.5,14.5 2-7.5 -3.5-4 -3.5,0 -10,6 9-10 20.5-16 1-3.5 -1.5-3.5 -14.5-2.5 -10.5,1.5 -6-2 -9,4 -12-5 -11.5-7 -11.5,3 -11-1 -7.5-2.5 -1-13 -4-3.5 -6.5,0 -3,1.5 -2,9.5 -49.5,0 -98.5-4 -36-3 -24.5-4 -50-11zM488,330.5l2,0 1,1.5 0,2 -1,2.5 -2,1.5 -2,0 -1-2 0-2 .5-2z"/>
<path fill="#e6ffe6" d="M837.5,336l5-34 2.5-8 5-7.5 4-2.5 4,0 6,1 8,3 4,0 6-2 12.5-8.5 -1.5-7.5 -8-9.5 -16.5-3.5 13.5-1 1.5-3.5 0-7 -3.5-3 -7.5,0 -3-2 -1.5-6.5 -3-2.5 -12,4 -2-5.5 -4.5-1 -23.5,9 -7,5.5 -4-1 -4,1.5 -5.5-5.5 -8.5-2.5 5-7 1-3.5 -2.5-3.5 -6-2 -8.5,3.5 -11,12.5 -21.5,14.5 2-7.5 -3.5-4 -3.5,0 -10,6 9-10 20.5-16 1-3.5 -1.5-3.5 -14.5-2.5 -10.5,1.5 -6-2 -9,4 -12-5 -11.5-7 -11.5,3 -11-1 -7.5-2.5 -1-13 -4-3.5 -6.5,0 -3,1.5 -2,9.5 -49.5,0 -98.5-4 -36-3 -24.5-4 -50-11 -52-15 -1,10 .5,6 2.5,9 3,7 6,8 13,12 10.5,14 15.5,17 5,9 5,18 14,19 6,4.5 14,6 9,6.5 9.5,10 4,6 5,12 4.5,4.5 2,.5 2.5-1 6-6 5.5-3 4-.5 4,2.5 1.5,3 0,2 -1,4 -3.5,8 1,4 4.5,4 25.5,16.5 12,11.5 8.5,10 5,10 2,6 0,4 -2.5,16 1,4 2.5,4 15,16 4.5,3.5 16,6 24,10 10,2.5 10,.5 30-5.5 4-2.5 1.5-2.5 2.5-10 2.5-6 3.5-4 4-2.5 4-1 6,0 14,3.5 8,1 14-2.5 18-6.5 26-3 6-3 10-8 16-10.5 4-4.5 3.5-5 7-20 4-4 9.5-4.5 -3.5-5.5 -7-28.5 1-31 4-17 5.5-15 .5-9.5 16-7 6.5-.5 -3.5,4 1,6.5 -2.5,6.5 -4.5,2.5 -8.5,12 -2.5,12 -.5,12 1.5,7z"/>
<path fill="#e0e0ff" d="M344.5,158l-.5,10 .5,6 3,10 2.5,6 6.5,8 13,12 10.5,13.5 15,16.5 5.5,10 3.5,12.5 2.5,5.5 13.5,18 5,4 11,5 5.5,3 15.5,12 3.5,4 7.5,14 2,2 2,0 7.5-4 6.5-2 4,0 4.5,2 2,2 2.5,4 0,4 -3,12 3,4 23,14 22,16.5 4,1.5 10,.5 4,1 2,2 1.5,2.5 -.5,2 -6.5,10 -2,10 -4.5,11 -.5,5 .5,2.5 2,3 15,16.5 7,3.5 47.5,16.5 9.5,0 21-6 4.5-4 9.5-20 2-2 4-2 12-2 20,2.5 18-1 22-5 18-2 6-2.5 12-9.5 10-4.5 4-2.5 5.5-5.5 3.5-6 2-6 2-14 1.5-4 3.5-2.5 11.5-2 -1-1.5 -7-28.5 1-31 4-17 5.5-15 .5-9.5 16-7 6.5-.5 -3.5,4 1,6.5 -2.5,6.5 -4.5,2.5 -8.5,12 -2.5,12 -.5,12 1.5,7 4,10 5-32 3-8 6.5-12 2-2 4-.5 14,4.5 6-.5 4-1.5 4-3 5.5-5 2-3.5 -6.5-8 -16.5-3.5 13.5-1 1.5-3.5 0-7 -3.5-3 -7.5,0 -3-2 -1.5-6.5 -3-2.5 -12,4 -2-5.5 -4.5-1 -23.5,9 -7,5.5 -4-1 -4,1.5 -5.5-5.5 -8.5-2.5 5-7 1-3.5 -2.5-3.5 -6-2 -8.5,3.5 -11,12.5 -21.5,14.5 2-7.5 -3.5-4 -3.5,0 -10,6 9-10 20.5-16 1-3.5 -1.5-3.5 -14.5-2.5 -10.5,1.5 -6-2 -9,4 -12-5 -11.5-7 -11.5,3 -11-1 -7.5-2.5 -1-13 -4-3.5 -6.5,0 -3,1.5 -2,9.5 -49.5,0 -98.5-4 -36-3 -24.5-4 -50-11z"/>
<path fill="#c0b4ff" d="M345.5,158.5l-.5,9.5 .5,6 2.5,8.5 3.5,7.5 6.5,8 13,12 9,12 15,16 6,10 7,18.5 6.5,9.5 7.5,9.5 4,3 16,8 18,12.5 3.5,3 6.5,10 4,1 14-1.5 4,.5 4,2.5 4,3.5 1.5,4 .5,4 -1,12 1,2 5,4 13,7 22,14 6,2 14,3 4.5,2 4.5,4 2.5,4 0,2 -7.5,12 -3.5,12 -3.5,8 -1,4 2,4 10,11.5 6,4 28,8 20,8.5 6,1 16-5 6-4 2.5-4 2.5-6 1-6 0-8 2-1.5 6-1 18-2 16-3.5 8,2.5 22,2.5 30-6 6-3.5 6-7.5 4-3.5 14-1.5 4-2.5 4-3.5 4.5-9 1-20 3-6 3-2 2.5-.5 11.5,.5 -6-24.5 1-31 4-17 5.5-15 .5-9.5 16-7 2.5-.5 -2.5-9.5 0-4 2.5-6 5.5-5.5 -1.5-4.5 -4.5-1 -23.5,9 -7,5.5 -4-1 -4,1.5 -5.5-5.5 -8.5-2.5 5-7 1-3.5 -2.5-3.5 -6-2 -8.5,3.5 -11,12.5 -21.5,14.5 2-7.5 -3.5-4 -3.5,0 -10,6 9-10 20.5-16 1-3.5 -1.5-3.5 -14.5-2.5 -10.5,1.5 -6-2 -9,4 -12-5 -11.5-7 -11.5,3 -11-1 -7.5-2.5 -1-13 -4-3.5 -6.5,0 -3,1.5 -2,9.5 -49.5,0 -98.5-4 -36-3 -24.5-4 -50-11zM798,308l-1,2 -3,2 -2-.5 -2-1 -.5-2.5 .5-2.5 1.5-1.5 2.5-.5 2,1zM834,328l4-28 7-18 3-10 -2,4.5 -4.5,2.5 -8.5,12 -2.5,12 -.5,12 1.5,7zM864.5,272l5.5,2.5 4-.5 3.5-2 1.5-2 0-2 -1-2 -2.5-2 -5.5-1 -4,2 -2.5,3 -.5,2z"/>
<path fill="#a08cff" d="M346.5,158.5l-.5,9.5 .5,6 3.5,10 2.5,6 5.5,6.5 14,13 10,13 14,14.5 7,11 7,18 12,16.5 7,5.5 35,20 7,8 3,2 4,1 12,.5 4,1 4,2.5 3,3 3,4 1,6 1,10 2,4 2,1.5 28,16.5 28,9 18,13 7,8 1.5,4 0,6 -.5,2 -2,2 -10,6 -7,6 -2,4 1,3.5 5,4.5 5,2.5 8,1.5 10,0 4,1 2,1 7,8 11,7 6,1 4-.5 7-3.5 4-4 1-4 -3.5-12 -.5-4 2-6 4-4 6-1.5 18,.5 6-.5 4.5-2.5 7.5-9 6-2.5 18-1.5 6,.5 2,1.5 5,13 1.5,2 3.5,2 4,1 6-.5 12-4 6-4.5 1-2 1-4 -1.5-6 -2.5-3.5 -10-5.5 -2-2.5 .5-2.5 5.5-8 2-1.5 2,0 7.5,7.5 14.5,9.5 6,2.5 6,1 4.5-3 3.5-6 -1-20 3-8.5 3.5-3.5 4.5-1.5 14,1 -4.5-18 1-31 4-17 5.5-15 .5-9.5 14-6.5 -6-14.5 -.5-6 1.5-7.5 -14.5,5.5 -7,5.5 -4-1 -4,1.5 -5.5-5.5 -8.5-2.5 5-7 1-3.5 -2.5-3.5 -6-2 -8.5,3.5 -11,12.5 -21.5,14.5 2-7.5 -3.5-4 -3.5,0 -10,6 9-10 20.5-16 1-3.5 -1.5-3.5 -14.5-2.5 -10.5,1.5 -6-2 -9,4 -12-5 -11.5-7 -11.5,3 -11-1 -7.5-2.5 -1-13 -4-3.5 -6.5,0 -3,1.5 -2,9.5 -49.5,0 -98.5-4 -36-3 -24.5-4 -50-11zM754,335l2,1.5 2,3.5 1,16 -1,8 -2,2.5 -2,.5 -4-2 -2-2.5 -3.5-6.5 -1.5-6 1-6 2.5-6 3.5-3zM792,296.5l6,.5 4,3 1.5,2 2,8 -1,4 -2.5,2.5 -4,1.5 -6-.5 -4-2 -2-2.5 -1-5 1-5.5 2-3.5zM832,323.5l3.5-23.5 7-21.5 -1,.5 -8.5,12 -2.5,12 -.5,12z"/>
<path fill="#8070eb" d="M347,159l0,9 1,6 2,8 4,8 6,7 12,11 10,12.5 15,15.5 7.5,12 8,18 5.5,8.5 6,7 6,5 20,12 16,7.5 10,8.5 4,1.5 12,1.5 8,4.5 4,4 2.5,4 3.5,13 2,4 3.5,3 14.5,9.5 12,5.5 24,7.5 28.5,15.5 4,4 7.5,13 11,9 1,4 -1,12 5,12 4,4.5 2,.5 2-.5 1.5-2.5 3-24 1.5-4 2-2 6-2.5 22-2 4-1 2-1.5 2.5-3 1.5-4 -1.5-10 1.5-3 4-2 16-3.5 9.5-3.5 .5-2 -3.5-8 0-2 1.5-3 4-1 4,2 1,2 .5,4 -1,2 -5.5,6 4,4 7,2.5 8,1 6-1 4-2.5 3-4 1.5-6 -4-14 0-10 1.5-6 3-6 3-4 3-2 5-1.5 4,.5 4,1 5,4 2.5,4 4,12 8,12 -.5,12 3,10 2.5,4 3.5,2 2-.5 1-3.5 -1-7.5 -3.5-10.5 0-6 2.5-4 7-6 6-2.5 6-1 12.5,2.5 -3-11.5 1-31 4-17 5.5-15 .5-9.5 10-4.5 -8-16.5 -1.5-6 0-4.5 -6,2.5 -7,5.5 -4-1 -4,1.5 -5.5-5.5 -8.5-2.5 5-7 1-3.5 -2.5-3.5 -6-2 -8.5,3.5 -11,12.5 -21.5,14.5 2-7.5 -3.5-4 -3.5,0 -10,6 9-10 20.5-16 1-3.5 -1.5-3.5 -14.5-2.5 -10.5,1.5 -6-2 -9,4 -12-5 -11.5-7 -11.5,3 -11-1 -7.5-2.5 -1-13 -4-3.5 -6.5,0 -3,1.5 -2,9.5 -49.5,0 -98.5-4 -36-3 -24.5-4 -50-11zM794,290.5l8.5,1.5 3.5,2.5 2,3.5 3,10 1.5,8 -1,6 -3.5,3.5 -4,0 -14-3.5 -4-2.5 -3-3.5 -1-4 -.5-4 1.5-8 5-7 2-1.5zM830,315l3.5-19 4-11.5 -4.5,6.5 -2.5,12zM738,404l-2,2 -2,4 1.5,4 2.5,2 4,.5 4-1 4-1.5 2-2 1-2 0-2 -3-3.5 -6-2z"/>
<path fill="#7060dc" d="M348,159l0,9 1,6 3,9 3.5,7 5,6 13,12 10.5,13 13,13 8,12 11,22 6,8 6,6 8,6 14,8.5 18,7 11,8.5 13,3.5 8,3.5 4,3.5 4.5,5.5 5.5,12 4,6 4,4 9.5,6 10.5,5 24,7 29.5,12 10,6 8.5,8.5 4,2 30,3.5 6-2 4-4 5-12 3-4 4-2.5 14-3 3.5-2.5 1-2 -.5-4 -4-10 0-2 36,1.5 4-.5 4-2.5 2-3 5-11.5 3-4 5-4 5-2 8-1 13,3 4.5,2 2,2 5,8 3.5,3 4,1.5 4-1 4-3.5 1-2 .5-4 -1-2 -4.5-3.5 -8-2.5 -2-1.5 -1.5-2.5 -1.5-4 -.5-12 1-6 2.5-5.5 4-5.5 4-3.5 6-1.5 10,1 4,2 2.5,3 3.5,12 3,5.5 3.5-16 5.5-15 .5-9.5 7-3 -3.5-6.5 -7.5-9.5 -4-8 -4.5,3.5 -4-1 -4,1.5 -5.5-5.5 -5.5-2 -2.5,5.5 -.5,1 -2,0 -2-5 -1.5-16.5 -5.5,2 -11,12.5 -21.5,14.5 2-7.5 -3.5-4 -3.5,0 -10,6 9-10 20.5-16 1-3.5 -1.5-3.5 -14.5-2.5 -10.5,1.5 -6-2 -9,4 -12-5 -11.5-7 -11.5,3 -11-1 -7.5-2.5 -1-13 -4-3.5 -6.5,0 -3,1.5 -2,9.5 -40,0 2.5,5 1,6 -2,4 -4,1 -2-1.5 -1.5-3.5 1-6 2-5 -105-4 -36-3 -24.5-4 -50-11zM626.5,340l-3.5,6 -5,4 -4,.5 -2-.5 -1.5-2 0-2 1-4 4.5-4 4-2 6-1 1.5,1zM644,327.5l0,2.5 -6,1 -2.5-1 4.5-3.5 2-.5zM650.5,310l2,2 -2.5,2.5 -2-.5 -.5-2 2-2z"/>
<path fill="#4a3ecc" d="M622.5,195l1,9 -.5,6 -3,4 -2,1.5 -4,.5 -4-1.5 -4-4.5 -1-6 1.5-9 -100-4 -36-3 -24.5-4 -50-11 -47-13.5 1,14 3.5,10.5 3,6 5.5,6 12,11.5 10.5,12.5 13,12 6.5,10 16,28 6,7 5.5,5 11,8 7.5,4.5 17.5,5.5 14,10 12.5,3.5 8,4 10,10.5 8,12.5 4.5,5.5 4.5,4 7,4.5 14,5.5 18,3 26,6 10,5.5 20,10 6,2 10,1.5 6-.5 4-1.5 1.5-2 6.5-14 3-10 0-4 -2-4 -3-2.5 -3.5-1.5 -12.5-1.5 -6,2.5 -14,9 -4,1.5 -4,.5 -4-1 -3-3 -2-4 0-6 1.5-6 3.5-6.5 4.5-3.5 12-6 6-6 3-6 2-10 2-2 4.5-.5 18,1.5 4,1 10,4.5 18,2 2,1.5 -.5,2 -13.5,12 -2,4 .5,4 5.5,7.5 7,4.5 11,3 10,1 8-1.5 4-2.5 10-14 8-5 8-3 18,0 4-1.5 2.5-4.5 1.5-14 2-7.5 6-11.5 4-5 2-1.5 10-.5 8,1 6,2.5 10,7.5 4-10.5 .5-9.5 3.5-1.5 -4-6.5 -10-8 -4-1.5 -4,0 -12,9 -8,4 -10,0 -5.5-2.5 -.5-2 1-4 5-9.5 3.5-10.5 1-6 0-5 -12.5,13 -21.5,14.5 2-7.5 -3.5-4 -3.5,0 -10,6 9-10 20.5-16 1-3.5 -1.5-3.5 -14.5-2.5 -10.5,1.5 -6-2 -9,4 -12-5 -11.5-7 -11.5,3 -11-1 -7.5-2.5 -1-13 -4-3.5 -6.5,0 -3,1.5 -2,9.5z"/>
<path fill="#3a28b4" d="M350.5,160l.5,12 3.5,10 3.5,8 5,6 11,10 12,14 12,10.5 6.5,9.5 17,28 6.5,7.5 15,12.5 6.5,4 20,6 12.5,9 14,4.5 6,3 15,13.5 11,14 6,6 6,4 8,3.5 10,1.5 22-1 8-1 4-2 2.5-3 5-14 4.5-7.5 4-3.5 12-6 5-5 1-6 -.5-12 1-4 3.5-3 4,0 16,5 16,1 16,4 14,.5 7,2.5 3.5,4 1,4 -.5,2 -3,3.5 -11,8.5 -3,4 -.5,4 2,4 4.5,4 4,2 6,1.5 6,0 6-2 3.5-3.5 5.5-8 9.5-6 13.5-5 16-2 2-1 3-4 1.5-14 2.5-10 .5-6 -1.5-4 -12-8 -1.5-4 0-4 1.5-6 2.5-6 11.5-12.5 3-5.5 1-5 -8,9 -21.5,14.5 2-7.5 -3.5-4 -3.5,0 -10,6 9-10 20.5-16 1-3.5 -1.5-3.5 -14.5-2.5 -10.5,1.5 -6-2 -9,4 -12-5 -11.5-7 -11.5,3 -11-1 -7.5-2.5 -1-13 -4-3.5 -6.5,0 -3,1.5 -2,9.5 -26,0 0,11 -2,10 -3,4 -1.5,1 -4,0 -8-2.5 -3-2.5 -3-4 -1.5-6 1-11 -97-4 -36-3 -24.5-4 -50-11zM634,360l-4,1.5 -2.5,2.5 -3,4 -.5,2 2,3 4,2.5 4,1 4-.5 4-2 1.5-2 .5-4 -1.5-4 -2.5-2.5 -2-1.5zM810,261.5l-1.5,4.5 3,4 10.5,6 4,0 2-1.5 .5-6.5 -5.5-6 -7-3 -4,1z"/>
<path fill="#2d20a5" d="M353.5,161l1,9 3,12 2.5,6 2.5,4 12.5,12 11,13 14,10.5 28,40.5 20,18 6,3 18,4.5 14,8.5 12,4.5 7,3.5 31.5,22 11,12 4.5,2.5 6-.5 9-4 11-8 8-8 1.5-4 2.5-15 6.5-13 0-12 1-4 2.5-3 7-5 2.5-4 1-12 2.5-14 0-6 -1-4 -10-11.5 -3.5-6.5 -1-6 .5-11.5 -91.5-3.5 -36-3 -24.5-4 -50-11zM645,195l-1.5,13 3.5,10 0,6 -2,6 -9,18 -1.5,6 .5,6 2,10 3,6 3.5,4 5,4 7.5,2 14,.5 10-1.5 4-3 2-4 1.5-6 1-12 1.5-1.5 2-.5 8,1.5 20,6 5.5,2.5 2,2 1,2 -1,4 -6.5,12 -1.5,6 1.5,14 3.5,6 3.5,2.5 6,0 17-6.5 2.5-2 1.5-2 1-4 -.5-12 -5.5-7.5 -9-8.5 -1.5-2 -.5-2 5-9 3.5-9 .5-6 -.5-7 -2,0 -10,6 11.5-12 0-11 3-12.5 -10.5,1.5 -6-2 -9,4 -12-5 -11.5-7 -11.5,3 -11-1 -7.5-2.5 -1-13 -4-3.5 -6.5,0 -3,1.5 -2,9.5zM670,240l4,8 -2,1.5 -2-.5 -2-2 -2-5 0-2.5 2-1z"/>
<path fill="#580a58" d="M360,162.5l2,21.5 1,4 2.5,4 10.5,10 12,13.5 14,7 8,14 12,13.5 8,10 14,12.5 9.5,9.5 6.5,3 14,4 26,11.5 14,7.5 16,10.5 20,8.5 6-.5 14-5.5 5-3 3-3.5 2.5-6.5 4-18 -2.5-20 0-22 2-4 2-2 12-6 2-2 1-2 -1-4 -5-10 -2-6 -1-8 .5-9.5 -86-3.5 -36-3 -24.5-4 -50-11zM679,203l-2.5,19 .5,6 2.5,6 5,6 7.5,4 20,6.5 14,1 4-1.5 2-1.5 2.5-6.5 1-18 2-13.5 -4-1.5 -9,4 -12-5 -11.5-7 -11.5,3zM648,246l-2,2.5 -1.5,3.5 -.5,6 2,10 3.5,6 5.5,4 7,2 8-.5 4-2 2.5-3.5 1-4 -.5-2 -2.5-4 -14.5-9.5 -8-8.5 -2-1z"/>
<path fill="#6e0a6e" d="M389.5,171l-5.5,2.5 -12-.5 -2,1 -2,2 -2,4.5 0,5.5 1,4 11,10.5 8,9.5 4,3.5 6,1.5 10,0 1.5,1 1,2 2,12 3.5,5 46,43 6,3 31.5,11 22.5,11.5 12,8 14,4.5 6,1 6-1 8-2 5.5-4 2.5-8 2-14 -2.5-16 -.5-14 -1-10 0-6 2-7.5 7-10.5 1-4 -2.5-14 -1.5-12 -71.5-3 -36-3 -24.5-4zM689,204l-4,18 1,6 2.5,4 5.5,3 16,4.5 6-.5 5.5-3 2-4 .5-4 -1.5-6 -2.5-4 -13-8 -3-4 -1-4 -2-1z"/>
<path fill="#8c0a82" d="M394,172.5l-6,5.5 -12,3 -4,2 -1.5,3 1,4 18.5,20 6,.5 12-2.5 4,1.5 2.5,4.5 1,14 2,4 6.5,5.5 17.5,12.5 21,22 3.5,3 6,3 22,6 18,8.5 20,4.5 4-.5 4-2 9.5-6.5 10.5-5.5 2-2 2-5.5 1-7 -.5-8 -4-16 2.5-14 .5-6 -3-20 -3.5-11 -50.5-2 -36-3 -24.5-4z"/>
<path fill="#aa0a96" d="M397,173.5l-3,4.5 -4,3.5 -11.5,6.5 -.5,2 1,2 6,8 3.5,4 3.5,2 16-2 6,2 2.5,2 2,4 1.5,12 3,6 5,4 12,7 6,4.5 24,25.5 6,2.5 18,4.5 16,7 6,.5 16-3 6-2 7.5-4.5 6-6 1.5-4 0-4 -3.5-14 -.5-6 2.5-14 -1.5-6 -6-13 -3-16.5 -34.5-1.5 -36-3 -24.5-4z"/>
<path fill="#cc12b4" d="M400.5,174l-5.5,8 -8.5,8 0,4 2.5,4 2,2 3,1 16-.5 7.5,3.5 4.5,6 3.5,12 2.5,4 4,3.5 12,6.5 10,7.5 16,18.5 4,3 36,13 7-2 13-7 4-4 2.5-5 1-6 -1-14 .5-12 -.5-6 -2.5-6.5 -4-6 -8-5.5 -2-2 -1.5-4 0-6.5 -48-3.5 -24.5-4z"/>
<path fill="#f014dc" d="M403.5,174.5l-9.5,15.5 0,2 1.5,2 4.5,2 14,2 6,3 4.5,5 5.5,11.5 2,2.5 16,10.5 14,8 3.5,3.5 6,10 4.5,4 4,2 6,1.5 4,0 4-1.5 2.5-4 1.5-12 5.5-12 .5-6 -2-10.5 -7.5-13.5 -1-4 1-6 -24-2 -24.5-4z"/>
<path fill="#f550e1" d="M407,175.5l-4.5,10.5 -.5,4 3,2 11,3 6,2.5 4,3 8,9 4,3.5 6,3.5 6,2.5 6-2 17-13 5.5-6 3-6 0-3 -11-1 -24.5-4z"/>
<path fill="#f878e8" d="M411.5,176.5l-1.5,7.5 0,2 2,2 20,6 4-1.5 2.5-2.5 1.5-7z"/>
</g>
<path d="M1080,371 1076,379 1072,388 1076,398 1084,404 1088,402 1084,392 1081,380 1082.5,366Z" fill="#fff" stroke="#000" stroke-width="1.2"/>
<path d="M766.5,219.5 772,213 778.8,207.5 779.5,209 773,215 768,220.5Z" fill="#3a28b4" stroke="#000" stroke-width="1"/>
<path d="M577.5,95.5 577.5,120.5 595,133 600,150.5 602.5,165.5 610,163 607.5,153 597.5,138 590,125.5 582.5,113 585,95.5M597.5,95.5 610,115.5 622.5,125.5 627.5,143 628.8,160.5 635,160.5 637.5,140.5 630,123 620,95.5M662,184 668,180 672,186 676,192 672,197 666,194 662,184M762,155 768,152 776,156 778,166 772,174 764,172 761,164 762,155M684,135 688,133 691,137 688,141 684,135M716,140 724,137 733,133 734,136 726,140 718,142M692,153 698,157 706,156 712,150 716,147M762,215 765,204 780,186.5 795,184 810,185 820,199 840,201.5 847.5,214 852.5,229M866,240 870,239 890,236.5 915,236.5 927.5,235 937.5,242.5 947.5,252.5 957.5,258.8 947.5,261.2 953.8,265 952.5,269.4 940,267.5 935,271.2 930,262.5 916.2,256.2 927.5,266.2 928.8,275 926.2,287.5 930,302.5 927.5,315 921.2,322.5M921.2,341.2 925,350 936.2,337.5 947.5,325 962.5,321.2 970,321.2 987.5,306.2M978.8,290 970,293 968.8,300 975,299 970,292.5 977.5,280 1000,266.2 1020,250 1035,232 1040,222M872,247 900,243 925,240" fill="none" stroke="#777" stroke-width="0.8"/>
<path d="M636,888 633.5,870 632.5,850 636,833 645.5,819 657,807M1120,837.5 1113,847 1105,855 1095,860 1085,867.5 1076,870M1142.5,773.5 1152.5,776 1172.5,762 1170,753.5 1180,752 1197.5,761 1200,781 1195,771 1190,762 1175,765 1155,779 1142.5,773.5M1180,812.5 1190,815 1200,830 1207.5,850 1195,837.5 1180,832.5 1185,822.5 1180,812.5M1122,903 1135,899 1150,900 1165,903 1185,902 1200,899 1209,900M157.5,95.5 163.8,104.2 175,114.9M178,95 181,105 186,108M191,95 190,103 194,106M1066,102 1085,98 1091,96 1092,105 1088.8,121.2 1085,138.8 1072.5,155 1063.8,170 1056,186 1050,203 1046,216.5M1098.8,95.6 1096.2,115 1090,131.2 1085,138.8M1179.4,151.2 1185,131 1195,118.8 1203.8,106 1206,100 1196,98.8M1210,123 1201,143.8 1197.5,157.5 1208.8,170M135,596 137.5,621 142.5,651 144,688.5 162.5,716 174,743.5 165,761 142.5,756 155,783.5 175,801 190,816 200,831 215,850 235,880 250,905M180,630 176,658.5 175,688.5 192.5,726 202.5,751 207.5,776 217.5,801 230,831 240,860 250,890 252,905M180,630 202.5,648.5 220,666 222.5,701 227.5,731 240,761 262.5,788.5 260,806 275,821 285,831 300,860 312,885 318,905M632,892 634,905" fill="none" stroke="#000" stroke-width="0.9"/>
<path d="M1139,287.5 1128.8,292.5 1119.4,299.4 1112.5,307.5 1108.8,313.8 1107,319M1141.9,295 1130,303.8 1118.8,311.2 1108.8,316.2 1106,321M1104,442 1100,446 1096,436 1090,427.5 1087.5,415 1084,404M1106,438.8 1102.5,427.5 1101,417.5 1097.5,410 1092.5,405 1088,402M1100,446 1090,445 1075,443.8M1096,436 1082.5,435M143,164.2 151.2,168 158.8,174.2 160,185.5 158.8,190.5 166.2,196.8 173.8,196.8 183.8,203 197.5,206.8 215,208 232.5,211.8 242.5,215.5 264,221M287,144 264,221M264,221 269,236 255,254 244,264 247,270 226,329M304,150 296,171 297,191 307,209 314,220 307,241 304,249 315,254 320,261 320,276.5 324,286.5 352,289 357,291 362,282M89,271 166,308M166,308 200,320 226,329 284,349 320,357.5 344,364M166,308 137.5,387.5 215,541 220,567.5 209,576 200,588.5 201,606M284,349 246,490 240,512.5M215,541 221,511 234,515 240,512.5M246,490 357.5,517.5M362,282 339,392.5M339,392.5 379.5,402.5M379.5,402.5 357.5,517.5M357.5,517.5 326,686M362,282 495,304M506,196 499,278.5 495,304 490,361 484,417.5M499,278.5 636,284.5M624,200 630,239 636,279 636,284.5 632.5,294 640,300M636,284.5 638,340 640,352.5M490,361 595,366 610,372.5 640,374 644,378M379.5,402.5 484,417.5 525,421M525,421 524,450M524,450 517.5,539M357.5,517.5 495,539 517.5,539M524,450 640,453 667.5,452.5M517.5,539 640,541 690,540.5M495,539 494,552.5 564,556 562.5,613.5M494,552.5 481,689M391,678.5 481,689M562.5,613.5 580,626 595,630 615,636 632.5,638.5 640,636 655,636 677.5,633.5 697.5,642 709,643.5M640,352.5 744,345M640,374 644,385 650,402.5 655,420 659,436M659,436 745,429 750,434M659,436 665,447.5 677.5,457.5 675,467.5 685,476 690,555 692.5,575M692.5,575 694,600 697.5,642M690,555 792.5,545 796,557.5 802.5,559M709,643.5 711,660 712.5,688.5 720,703.5 727.5,721 722.5,746 721,762M711,660 782.5,655M720,255 715.6,258.8 716.2,270 708.8,282.5 707.5,288.8 710.6,297.5 711.9,310 722.5,320 735,330 744,340M744,340 747.5,357.5 760,370 771,385 767.5,397.5 756,407.5 759,420 750,430 750,435 755,452.5 772.5,472.5 784,476 781,490 795,502.5 805,515 812.5,525M812.5,525 806,540 804,560 800,576 790,601 781,626 782.5,655 787.5,676 781.2,690 778,702.5 777.5,716.9M777.5,716.9 826.2,710.6 826.9,721.2 832.5,732.5 838.8,731.2M760,370 800,365 817,362.5M750,257 756.2,262.5 780,267.5 795,268.8 802.5,276.2 803.8,282.5 808.8,287.5M827.5,385 832.5,417.5 839,450 840,470 835,492.5M843.8,378.8 881.2,370.6 910,364.4 921.2,367.5M881.2,370.6 892.5,417.5 899,444M812.5,525 815,520 827.5,517.5 834,505 835,495 845,492.5 857.5,492.5 872.5,482.5 880,480 887.5,462.5 899,455 899,444 906.2,443.8 912.5,450 925,451.9 936.2,448.8 941.9,444.4 951.2,452.5M951.2,452.5 956.2,450 956.2,440 958.8,431.2 963.8,432.5 962.5,425 967.5,417.5 975,410 978,400 977.5,387.5 975,380 972,362 969.5,349M967.5,340.6 978.8,380 985,401.9M985,401.9 1006.2,395.6 1047.5,380 1081.2,365.6M980,333.8 1000,327.5 1020,320 1040,312 1065,301.5M1065,301.5 1072.5,305 1076.2,311.2 1083.8,313 1080.6,326.2 1083.8,336.2 1097.5,345 1095,350M1083.8,313 1103,315.6M812.5,541 841,536 842.5,531 890,521 940,511M940,511 985,499.4 1035,483 1080,467.5 1110,455.6M951.2,452.5 952.5,460 960,468.8 971.2,474.4 962.5,486.2 955,498.8 947.5,507.5 940,511M971.2,474.4 973.8,477.5 981.2,481.2 987.5,476.2 997.5,470 1007.5,462.5 1008.8,455 1011.2,442.5 1013,427.5 1020,430 1023.8,416.2 1030,408.8 1033,393.8 1045.6,398.8M1006.2,395.6 1010,409.4 1017.5,398.8 1021.2,392.5 1027.5,392.5 1032.5,386.2 1037.5,387.5 1045,392.5 1045.6,398.8 1052.5,393.8 1056.2,397.5 1065,398 1066.2,402.5 1063.8,415 1070,419 1087.5,415M1083,367 1096.2,398.8 1108.8,394.4M985,499.4 978.8,513.4 966.2,522.8 953.8,533.8 941.2,543 936.5,560.3M797.5,588.4 847.5,582 880,576 907,569.7 938,562 963,555.6M963,555.6 985,543 1013,536.9 1019.4,541.5 1046,536.2 1094,547M908.4,569.7 910,576M963,555.6 963,563.4 978.8,577.5 997.5,590 1019.4,608.8 1038,626 1042.5,626M847.5,581.5 855,676 857.5,690 864.4,723.8M910,576 940,648.5 943,670 945,682.5 951.2,694.4M887.5,720 888.8,712.5 883.8,708.8 881.2,701.2 945,687.5M951.2,694.4 953,695 1023,681.2 1025,686.2 1028,686.2 1027.5,672.5 1040,670M1069,206.5 1075,224 1077.5,230 1096.2,263.8M1100,183 1102.5,198.8 1104.4,205 1100,215 1102.5,230 1108,256.2M1105,181.2 1125,217.5 1138.8,230M1096.2,263.8 1108,256.5 1132.5,248 1137.5,241.2 1139.4,240M1100,283.8 1138.8,266.2 1143.8,272.5 1147.5,280M1131.9,270 1139.4,286.2M1096.2,263.8 1100,283.8 1108.8,307.5 1107,319" fill="none" stroke="#000" stroke-width="1.3" stroke-linejoin="round"/>
<path d="M811.2,733 817,732 826,734 828,738 823,741.5 814,741.5 811,738 811.2,733" fill="none" stroke="#000" stroke-width="1"/>
<path d="M193,109 191,114 194,119 190,124 192,129 187,133 189,138 183,141 185,146 178,147 180,151 173,152" fill="none" stroke="#000" stroke-width="2.6" stroke-linejoin="round" stroke-linecap="round"/>
<path d="M761.2,215.6 767.5,210 778.8,204.4 847.5,229.4 851.2,236.2 856.2,240 863.8,236.2 865,243.8 871.2,248 879.4,248 880,253 901.2,260 921.2,306.2 921.2,332.5M923.8,365 925,363.8 937.5,350 950,337.5 977.5,323.8 990,307.5M978.8,291.2 1000,278.8 1020,268 1041,220" fill="none" stroke="#000" stroke-width="1.4" stroke-linejoin="round"/>
<path d="M157.5,105.5 153.8,116.8 153,131.8 150,146.8 145,160.5 143,164.2 138.8,178 132.5,191.8 123.8,208 120,214 107,234 94,249 89,269 86,276 80,294 67,309 65,319 62,335 61,352 64,370 67,385 69,400 69,407 67,420 67,437 72,460 80,482 76,495 75,505 88,512 100,522 110,531 117,540 118,550 127,561 135,570 133,585 135,596 200,608.5 191,615 274,676 320,686 326,687 346,691.5 350,679 390,684 391,680 397.5,693.5 415,716 430,731 434,751 445,766 460,778.5 470,783.5 480,771 487,760 495,758.5 517.5,762 530,772.5 542.5,797.5 555,820 567.5,836 570,852.5 580,872.5 600,884 620,890 632,892 634,890 630,870 629,850 632.5,832.5 642.5,817.5 655,805 675,795 695,775 720,764 730,760.6 748.8,763.8 765,765.6 767.5,758.8 773.8,755 781.2,757.5 780,763.8 785,762.5 791.2,763.8 791.2,770 797.5,772.5 805,777.5 811.2,770 817.5,772.5 825,770 830,763.8 821.2,758.8 833.8,760 842.5,765 845,773.8 850,770 853.8,765 847.5,761.2 838.8,757.5 833.8,752.5 836.2,746.2 841.2,742.5 843.8,733.8 838.8,731.2 848.8,726.2 857.5,725 864.4,724.4 871.2,726.2 872.5,712.5 876.2,718.8 880,724 887.5,720 898.8,715 911.2,713 923.8,713.8 933.8,717.5 942.5,722.5 947.5,730 955,730 962.5,723.8 970,716.2 973.8,711.2 980,708.8 987.5,711.2 995,717.5 1002.5,723.8 1011.2,731.2 1020,732.5 1025,740 1027.5,751.2 1028.8,765 1032.5,776.2 1036.2,782.5 1040,786.2 1050,796 1060,808.5 1070,816 1077.5,823.5 1090,829 1097.5,837.5 1102.5,841 1112.5,839 1120,830 1122.5,820 1120,806 1112.5,781 1100,761 1085,736 1072.5,721 1055,696 1040,671 1037.5,651 1042.5,626 1047.5,613.5 1054,615 1062,600 1069,590 1072.5,571 1082,560 1094,547 1100.6,523 1120,510 1135,485 1125,467.5 1115,455 1107.5,445 1104,442 1106,438.8 1108,427.5 1108.8,415 1110.6,405 1110,395 1107.5,390 1102.5,385 1095,377.5 1088.8,371 1086,365 1088,358 1095,350 1092,358 1090,368.8 1095,371 1098.8,373.8 1105,373.8 1108,380 1112.5,365 1115,352.5 1112.5,340 1110,331 1105,330 1103,327 1108.8,325.6 1116,321.5 1125,315 1133,306 1141.9,295.5 1139,292 1140,287.5 1145,283.8 1147.5,280 1150,277.5 1157.5,278.8 1160,272.5 1162.5,267.5 1170.6,263.8 1170,256.2 1166,253 1160,253 1163,255.5 1167,257.5 1166,261.5 1158.8,263.8 1153.8,260 1148.8,255 1142.5,253.8 1143,246 1146,242.5 1143.8,242.5 1139.4,240 1138.8,230 1138.8,217.5 1140,213.8 1145,206.2 1152.5,200 1155,190 1162.5,185 1167.5,177.5 1172.5,167.5 1177.5,160 1179.4,151.2 1175,148.8 1172.5,145.6 1170,147.5 1166.2,146.2 1162.5,140 1158.8,138 1152.5,136.2 1135,106.2 1127.5,103.5 1122.5,104.4 1116.2,113 1113,113.8 1110,110 1106.9,110.6 1105,132.5 1107.5,150 1109.4,165 1107.5,177.5 1104.4,181.2 1100,183 1099.4,190 1069,206.5 1041,220 1032.5,239 1025,254 1031,264 1020,271.5 1000,284 978.8,291.2 985,298.8 990,307.5 978.8,325 971,332.5 965,341 950,355 941.2,362.5 932.5,367.5 926.2,368 921.9,366.2 916.2,361.2 911.2,356.2 912.5,351.2 915,342.5 916.2,336.2 920.6,332.5 920,325 916.2,313.8 910,301.2 903.8,297.5 896.2,305 892.5,313 887.5,312.5 886.2,303.8 890,297.5 891.9,291.2 889.4,280 888.8,272.5 882.5,265 871.2,262.5 865,261.2 857.5,260 852.5,265 853.8,271.2 851.2,275 850,287.5 848,281 845,282.5 841.2,287.5 837.5,293.8 835.6,303.8 835,315 836.2,321.2 841.2,332.5 846.2,343.8 847.5,360 843.8,375 837.5,382.5 831.2,385 827.5,382.5 820,370 816.2,356.2 812.5,340 812.5,321.2 813.8,307.5 817.5,290 823,275 823.8,267.5 818.8,281.2 812.5,295 806.2,305 802.5,305 803.8,298.8 808.8,287.5 812.5,277.5 817.5,268.8 817,266.2 825,263 830,261.2 837.5,258 842.5,255 850,253.8 856.9,256.2 858.8,251.9 867.5,251.9 878.8,251.9 878.8,247.5 871.2,247.5 865,243.8 863.8,236.2 853.8,240.6 848.8,240.6 847.5,233.8 837.5,238 825,242.5 817.5,248.8 812.5,247.5 806.2,250 800,242.5 792.5,240.6 788.8,242.5 785,245 786.2,241.2 790,232.5 795,226.2 792.5,225 786.2,227.5 780,235 775,240 767.5,245 758.8,250 750,257 743.8,253.8 747.5,243.8 741.2,247.5 735,251.2 725,257 720,255 731.2,242.5 741.2,231.2 753.8,222.5 761.2,215.6 750,214.4 738.8,216.2 733.8,213.8 725,218.8 716,215 710,212.5 700,206 690,209 677.5,208 666,204 665,189 660,189 659,200 640,200 605,200 570,199 538,197.5 506,196 470,193 445,189 420,184 395,178 370,171.5 345,163.5 320,154.5 287,144 240,125 195,108 192,107 188,109 184,112 183,117.5 173.8,115.5 163.8,110.5Z" fill="none" stroke="#000" stroke-width="1.7" stroke-linejoin="round"/>
</g>
<rect x="11" y="94" width="1199" height="812" fill="none" stroke="#000" stroke-width="2.4"/>
<g><rect x="1212.5" y="59.60" width="23.5" height="13.99" fill="#d9535a"/><rect x="1212.5" y="73.28" width="23.5" height="13.99" fill="#e46a6e"/><rect x="1212.5" y="86.97" width="23.5" height="13.99" fill="#ec888a"/><rect x="1212.5" y="100.66" width="23.5" height="13.99" fill="#f5a3a5"/><rect x="1212.5" y="114.34" width="23.5" height="13.99" fill="#fdc5c7"/><rect x="1212.5" y="128.03" width="23.5" height="13.99" fill="#fee3e4"/><rect x="1212.5" y="141.71" width="23.5" height="13.99" fill="#f8efe6"/><rect x="1212.5" y="155.40" width="23.5" height="13.99" fill="#efdcd2"/><rect x="1212.5" y="169.08" width="23.5" height="13.99" fill="#e0c0b5"/><rect x="1212.5" y="182.77" width="23.5" height="13.99" fill="#c9a298"/><rect x="1212.5" y="196.45" width="23.5" height="13.99" fill="#b59086"/><rect x="1212.5" y="210.13" width="23.5" height="13.99" fill="#a07b72"/><rect x="1212.5" y="223.82" width="23.5" height="13.99" fill="#8a645b"/><rect x="1212.5" y="237.50" width="23.5" height="13.99" fill="#775047"/><rect x="1212.5" y="251.19" width="23.5" height="13.99" fill="#623a32"/><rect x="1212.5" y="264.88" width="23.5" height="13.99" fill="#500000"/><rect x="1212.5" y="278.56" width="23.5" height="13.99" fill="#680402"/><rect x="1212.5" y="292.25" width="23.5" height="13.99" fill="#7d0a03"/><rect x="1212.5" y="305.93" width="23.5" height="13.99" fill="#921103"/><rect x="1212.5" y="319.62" width="23.5" height="13.99" fill="#aa1b04"/><rect x="1212.5" y="333.30" width="23.5" height="13.99" fill="#c32405"/><rect x="1212.5" y="346.99" width="23.5" height="13.99" fill="#da2c06"/><rect x="1212.5" y="360.67" width="23.5" height="13.99" fill="#ee3408"/><rect x="1212.5" y="374.36" width="23.5" height="13.99" fill="#fe501a"/><rect x="1212.5" y="388.04" width="23.5" height="13.99" fill="#fe7337"/><rect x="1212.5" y="401.73" width="23.5" height="13.99" fill="#fe8c50"/><rect x="1212.5" y="415.41" width="23.5" height="13.99" fill="#fe9e5f"/><rect x="1212.5" y="429.10" width="23.5" height="13.99" fill="#feac6c"/><rect x="1212.5" y="442.78" width="23.5" height="13.99" fill="#feb873"/><rect x="1212.5" y="456.47" width="23.5" height="13.99" fill="#fec880"/><rect x="1212.5" y="470.15" width="23.5" height="13.99" fill="#fee296"/><rect x="1212.5" y="483.84" width="23.5" height="13.99" fill="#fefca5"/><rect x="1212.5" y="497.52" width="23.5" height="13.99" fill="#ffffff"/><rect x="1212.5" y="511.21" width="23.5" height="13.99" fill="#ffffff"/><rect x="1212.5" y="524.89" width="23.5" height="13.99" fill="#b4f0fa"/><rect x="1212.5" y="538.58" width="23.5" height="13.99" fill="#96d2fa"/><rect x="1212.5" y="552.26" width="23.5" height="13.99" fill="#78b9fa"/><rect x="1212.5" y="565.95" width="23.5" height="13.99" fill="#50a5f5"/><rect x="1212.5" y="579.63" width="23.5" height="13.99" fill="#3c96f5"/><rect x="1212.5" y="593.32" width="23.5" height="13.99" fill="#1e6eeb"/><rect x="1212.5" y="607.00" width="23.5" height="13.99" fill="#1464d2"/><rect x="1212.5" y="620.69" width="23.5" height="13.99" fill="#10a010"/><rect x="1212.5" y="634.37" width="23.5" height="13.99" fill="#20b420"/><rect x="1212.5" y="648.06" width="23.5" height="13.99" fill="#38d240"/><rect x="1212.5" y="661.74" width="23.5" height="13.99" fill="#50f050"/><rect x="1212.5" y="675.43" width="23.5" height="13.99" fill="#78f578"/><rect x="1212.5" y="689.11" width="23.5" height="13.99" fill="#96f596"/><rect x="1212.5" y="702.80" width="23.5" height="13.99" fill="#b4fab4"/><rect x="1212.5" y="716.48" width="23.5" height="13.99" fill="#e6ffe6"/><rect x="1212.5" y="730.17" width="23.5" height="13.99" fill="#e0e0ff"/><rect x="1212.5" y="743.85" width="23.5" height="13.99" fill="#c0b4ff"/><rect x="1212.5" y="757.54" width="23.5" height="13.99" fill="#a08cff"/><rect x="1212.5" y="771.22" width="23.5" height="13.99" fill="#8070eb"/><rect x="1212.5" y="784.91" width="23.5" height="13.99" fill="#7060dc"/><rect x="1212.5" y="798.59" width="23.5" height="13.99" fill="#4a3ecc"/><rect x="1212.5" y="812.28" width="23.5" height="13.99" fill="#3a28b4"/><rect x="1212.5" y="825.96" width="23.5" height="13.99" fill="#2d20a5"/><rect x="1212.5" y="839.65" width="23.5" height="13.99" fill="#580a58"/><rect x="1212.5" y="853.33" width="23.5" height="13.99" fill="#6e0a6e"/><rect x="1212.5" y="867.02" width="23.5" height="13.99" fill="#8c0a82"/><rect x="1212.5" y="880.70" width="23.5" height="13.99" fill="#aa0a96"/><rect x="1212.5" y="894.39" width="23.5" height="13.99" fill="#cc12b4"/><rect x="1212.5" y="908.07" width="23.5" height="13.99" fill="#f014dc"/><rect x="1212.5" y="921.76" width="23.5" height="13.99" fill="#f550e1"/><rect x="1212.5" y="935.44" width="23.5" height="13.99" fill="#f878e8"/><rect x="1212.5" y="949.12" width="23.5" height="13.99" fill="#fa9cf0"/></g>
<path d="M1212.5,73.28h23.5M1212.5,86.97h23.5M1212.5,100.66h23.5M1212.5,114.34h23.5M1212.5,128.03h23.5M1212.5,141.71h23.5M1212.5,155.40h23.5M1212.5,169.08h23.5M1212.5,182.77h23.5M1212.5,196.45h23.5M1212.5,210.13h23.5M1212.5,223.82h23.5M1212.5,237.50h23.5M1212.5,251.19h23.5M1212.5,264.88h23.5M1212.5,278.56h23.5M1212.5,292.25h23.5M1212.5,305.93h23.5M1212.5,319.62h23.5M1212.5,333.30h23.5M1212.5,346.99h23.5M1212.5,360.67h23.5M1212.5,374.36h23.5M1212.5,388.04h23.5M1212.5,401.73h23.5M1212.5,415.41h23.5M1212.5,429.10h23.5M1212.5,442.78h23.5M1212.5,456.47h23.5M1212.5,470.15h23.5M1212.5,483.84h23.5M1212.5,497.52h23.5M1212.5,511.21h23.5M1212.5,524.89h23.5M1212.5,538.58h23.5M1212.5,552.26h23.5M1212.5,565.95h23.5M1212.5,579.63h23.5M1212.5,593.32h23.5M1212.5,607.00h23.5M1212.5,620.69h23.5M1212.5,634.37h23.5M1212.5,648.06h23.5M1212.5,661.74h23.5M1212.5,675.43h23.5M1212.5,689.11h23.5M1212.5,702.80h23.5M1212.5,716.48h23.5M1212.5,730.17h23.5M1212.5,743.85h23.5M1212.5,757.54h23.5M1212.5,771.22h23.5M1212.5,784.91h23.5M1212.5,798.59h23.5M1212.5,812.28h23.5M1212.5,825.96h23.5M1212.5,839.65h23.5M1212.5,853.33h23.5M1212.5,867.02h23.5M1212.5,880.70h23.5M1212.5,894.39h23.5M1212.5,908.07h23.5M1212.5,921.76h23.5M1212.5,935.44h23.5M1212.5,949.12h23.5" stroke="#222" stroke-opacity="0.75" stroke-width="1.3" fill="none"/>
<rect x="1212.5" y="59.6" width="23.5" height="903.21" fill="none" stroke="#333" stroke-width="1.2"/>
<g class="cbl"><text x="1241" y="78.2">21</text><text x="1241" y="105.6">19</text><text x="1241" y="132.9">17</text><text x="1241" y="160.3">15</text><text x="1241" y="187.7">13</text><text x="1241" y="215.0">11</text><text x="1241" y="242.4">10</text><text x="1241" y="269.8">9</text><text x="1241" y="297.1">8</text><text x="1241" y="324.5">7</text><text x="1241" y="351.9">6</text><text x="1241" y="379.3">5</text><text x="1241" y="406.6">4</text><text x="1241" y="434.0">3</text><text x="1241" y="461.4">2</text><text x="1241" y="488.7">1</text><text x="1241" y="516.1">0</text><text x="1241" y="543.5">−1</text><text x="1241" y="570.8">−2</text><text x="1241" y="598.2">−3</text><text x="1241" y="625.6">−4</text><text x="1241" y="653.0">−5</text><text x="1241" y="680.3">−6</text><text x="1241" y="707.7">−7</text><text x="1241" y="735.1">−8</text><text x="1241" y="762.4">−9</text><text x="1241" y="789.8">−10</text><text x="1241" y="817.2">−11</text><text x="1241" y="844.5">−13</text><text x="1241" y="871.9">−15</text><text x="1241" y="899.3">−17</text><text x="1241" y="926.7">−19</text><text x="1241" y="954.0">−21</text></g>
<text class="t" x="36.2" y="25.7" textLength="63.7" lengthAdjust="spacing">PRISM</text><text class="t" x="113.6" y="25.7" textLength="51.9" lengthAdjust="spacing">2−m</text><text class="t" x="178.3" y="25.7" textLength="93.8" lengthAdjust="spacing">AVERAGE</text><text class="t" x="284.9" y="25.7" textLength="150.3" lengthAdjust="spacing">TEMPERATURE</text><text class="t" x="448.2" y="25.7" textLength="41.4" lengthAdjust="spacing">[°F]</text><text class="t" x="502.3" y="25.7" textLength="97.2" lengthAdjust="spacing">ANOMALY</text><text class="t" x="612.3" y="25.7" textLength="36.4" lengthAdjust="spacing">Feb</text><text class="t" x="666.4" y="25.7" textLength="64.3" lengthAdjust="spacing">1−14,</text><text class="t" x="743.5" y="25.7" textLength="54.5" lengthAdjust="spacing">2018</text><text class="t" x="36.2" y="49.6" textLength="72.8" lengthAdjust="spacing">CONUS</text><text class="t" x="122.5" y="49.6" textLength="39.7" lengthAdjust="spacing">AVG</text><text class="t" x="175.0" y="49.6" textLength="100.4" lengthAdjust="spacing">ANOMALY:</text><text class="t" x="291.5" y="49.6" textLength="88.9" lengthAdjust="spacing">−0.33°F</text><path d="M397.0,33.1v20" stroke="#222" stroke-width="1.4"/><text class="t" x="410.5" y="49.6" textLength="78.5" lengthAdjust="spacing">ACTUAL</text><text class="t" x="501.4" y="49.6" textLength="19.4" lengthAdjust="spacing">T:</text><text class="t" x="532.9" y="49.6" textLength="84.6" lengthAdjust="spacing">32.68°F</text><text class="t" x="35.6" y="971.2" textLength="48.5" lengthAdjust="spacing">Data</text><text class="t" x="97.2" y="971.2" textLength="66.7" lengthAdjust="spacing">owned</text><text class="t" x="177.3" y="971.2" textLength="24.3" lengthAdjust="spacing">by</text><text class="t" x="215.4" y="971.2" textLength="64.3" lengthAdjust="spacing">PRISM</text><text class="t" x="293.1" y="971.2" textLength="79.8" lengthAdjust="spacing">Climate</text><text class="t" x="387.2" y="971.2" textLength="68.6" lengthAdjust="spacing">Group,</text><text class="t" x="469.2" y="971.2" textLength="75.2" lengthAdjust="spacing">Oregon</text><text class="t" x="557.8" y="971.2" textLength="56.8" lengthAdjust="spacing">State</text><text class="t" x="628.3" y="971.2" textLength="102.1" lengthAdjust="spacing">University</text><path d="M747.9,954.7v20" stroke="#222" stroke-width="1.4"/><text class="t" x="764.3" y="971.2" textLength="127.3" lengthAdjust="spacing">1985−2014</text><text class="t" x="905.4" y="971.2" textLength="124.0" lengthAdjust="spacing">Climatology</text><text class="t" x="34.9" y="995.8" textLength="37.1" lengthAdjust="spacing">Avg</text><text class="t" x="83.1" y="995.8">T</text><text class="t" x="109.4" y="995.8" textLength="111.2" lengthAdjust="spacing">Calculated</text><text class="t" x="233.0" y="995.8" textLength="57.2" lengthAdjust="spacing">using</text><text class="t" x="303.0" y="995.8" textLength="74.8" lengthAdjust="spacing">Degree</text><text class="t" x="390.0" y="995.8" textLength="43.2" lengthAdjust="spacing">Day</text><text class="t" x="443.0" y="995.8" textLength="85.6" lengthAdjust="spacing">method:</text><text class="t" x="543.0" y="995.8" textLength="218.8" lengthAdjust="spacing">(T2MAX+T2MIN)/2.0</text>
</svg>
</body></html>
